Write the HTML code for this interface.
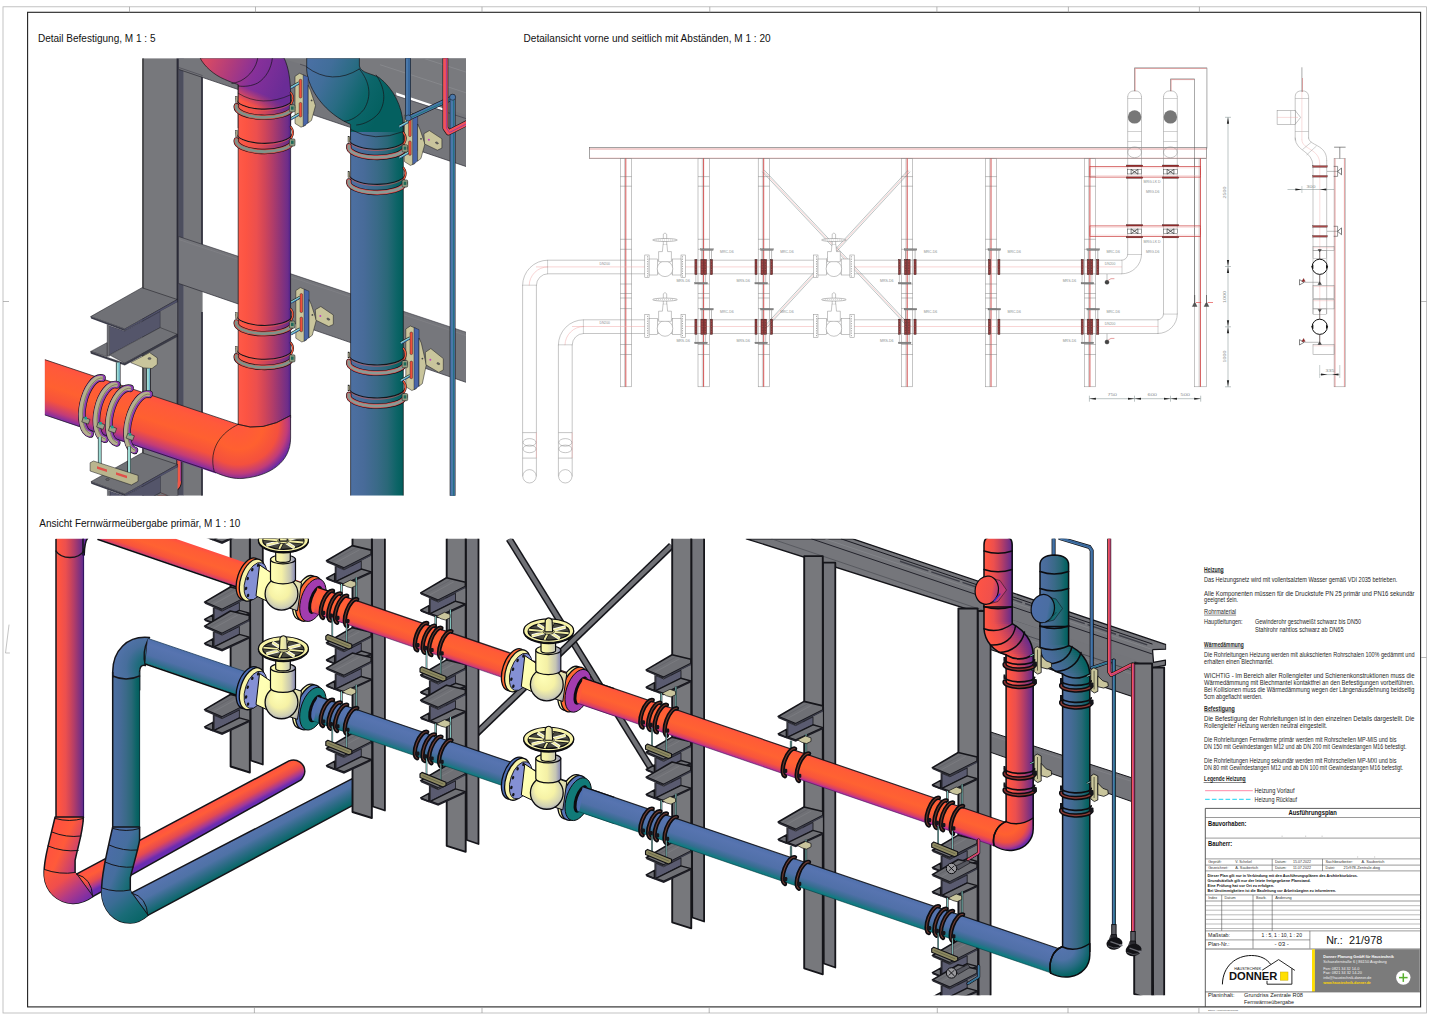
<!DOCTYPE html>
<html><head><meta charset="utf-8"><title>Plan</title>
<style>html,body{margin:0;padding:0;background:#fff;}svg{display:block;}text{font-family:"Liberation Sans",sans-serif;}</style>
</head><body>
<svg width="1436" height="1017" viewBox="0 0 1436 1017">
<defs><clipPath id="c1"><rect x="44.7" y="58.2" width="421.3" height="437.5"/></clipPath><linearGradient id="g2" gradientUnits="userSpaceOnUse" x1="350.6" y1="0" x2="403.3" y2="0"><stop offset="0" stop-color="#4d70a2"/><stop offset="0.25" stop-color="#486b99"/><stop offset="0.5" stop-color="#3a6a88"/><stop offset="0.7" stop-color="#2a6878"/><stop offset="0.88" stop-color="#0c6466"/><stop offset="1" stop-color="#005e5c"/></linearGradient><linearGradient id="g3" gradientUnits="userSpaceOnUse" x1="306" y1="66" x2="384" y2="104"><stop offset="0" stop-color="#4a70a4"/><stop offset="0.25" stop-color="#416e9a"/><stop offset="0.5" stop-color="#2a6c84"/><stop offset="0.75" stop-color="#0c666a"/><stop offset="1" stop-color="#046060"/></linearGradient><linearGradient id="g4" gradientUnits="userSpaceOnUse" x1="238.2" y1="0" x2="290.6" y2="0"><stop offset="0" stop-color="#ff5a48"/><stop offset="0.15" stop-color="#fc5443"/><stop offset="0.35" stop-color="#ec4f4e"/><stop offset="0.5" stop-color="#d24658"/><stop offset="0.65" stop-color="#b33d68"/><stop offset="0.8" stop-color="#8f3578"/><stop offset="0.95" stop-color="#6c2d8a"/><stop offset="1" stop-color="#4a2088"/></linearGradient><linearGradient id="g5" gradientUnits="userSpaceOnUse" x1="206" y1="60" x2="282" y2="92"><stop offset="0" stop-color="#d84a64"/><stop offset="0.3" stop-color="#b03c7c"/><stop offset="0.6" stop-color="#86309a"/><stop offset="1" stop-color="#6a2c96"/></linearGradient><linearGradient id="g6" gradientUnits="userSpaceOnUse" x1="264" y1="94.5" x2="258.8" y2="107.6"><stop offset="0" stop-color="#000"/><stop offset="1" stop-color="#fff"/></linearGradient><mask id="mj" maskUnits="userSpaceOnUse" x="230" y="60" width="70" height="440"><rect x="230" y="60" width="70" height="440" fill="url(#g6)"/></mask><linearGradient id="g7" gradientUnits="userSpaceOnUse" x1="120" y1="385" x2="103.32" y2="434.7"><stop offset="0" stop-color="#ff5242"/><stop offset="0.12" stop-color="#ff5a3a"/><stop offset="0.45" stop-color="#ff6030"/><stop offset="0.7" stop-color="#f6523c"/><stop offset="0.88" stop-color="#c43c76"/><stop offset="1" stop-color="#7a2ca8"/></linearGradient><radialGradient id="g8" gradientUnits="userSpaceOnUse" cx="238.2" cy="424.4" r="56"><stop offset="0" stop-color="#ff563e"/><stop offset="0.45" stop-color="#ff6030"/><stop offset="0.72" stop-color="#f4503e"/><stop offset="0.88" stop-color="#c03c7a"/><stop offset="1" stop-color="#6a2aa4"/></radialGradient><clipPath id="c9"><rect x="42" y="538.8" width="1124.2" height="456.4"/></clipPath><linearGradient id="g10" gradientUnits="userSpaceOnUse" x1="600" y1="683.73" x2="591.66" y2="708.25"><stop offset="0" stop-color="#ff5042"/><stop offset="0.15" stop-color="#ff5c36"/><stop offset="0.5" stop-color="#ff6232"/><stop offset="0.78" stop-color="#f8543c"/><stop offset="0.92" stop-color="#d84068"/><stop offset="1" stop-color="#a82ca4"/></linearGradient><linearGradient id="g11" gradientUnits="userSpaceOnUse" x1="600" y1="792.45" x2="591.89" y2="816.31"><stop offset="0" stop-color="#4f70ac"/><stop offset="0.2" stop-color="#5774b0"/><stop offset="0.6" stop-color="#5070a8"/><stop offset="0.82" stop-color="#356e90"/><stop offset="0.94" stop-color="#157a82"/><stop offset="1" stop-color="#0a7a80"/></linearGradient><linearGradient id="g12" gradientUnits="userSpaceOnUse" x1="180" y1="818.9" x2="190.29" y2="837.78"><stop offset="0" stop-color="#ff5244"/><stop offset="0.3" stop-color="#ff5c38"/><stop offset="0.6" stop-color="#e64a50"/><stop offset="0.85" stop-color="#a0389a"/><stop offset="1" stop-color="#6a2cb0"/></linearGradient><linearGradient id="g13" gradientUnits="userSpaceOnUse" x1="56" y1="0" x2="83.6" y2="0"><stop offset="0" stop-color="#ff5a48"/><stop offset="0.15" stop-color="#fc5443"/><stop offset="0.35" stop-color="#ec4f4e"/><stop offset="0.5" stop-color="#d24658"/><stop offset="0.65" stop-color="#b33d68"/><stop offset="0.8" stop-color="#8f3578"/><stop offset="0.95" stop-color="#6c2d8a"/><stop offset="1" stop-color="#4a2088"/></linearGradient><linearGradient id="g14" gradientUnits="userSpaceOnUse" x1="44" y1="850" x2="86" y2="868"><stop offset="0" stop-color="#ff5040"/><stop offset="0.35" stop-color="#ff5a3a"/><stop offset="0.7" stop-color="#c84070"/><stop offset="1" stop-color="#6a2aa8"/></linearGradient><linearGradient id="g15" gradientUnits="userSpaceOnUse" x1="52" y1="866" x2="84" y2="906"><stop offset="0" stop-color="#ff5a3a"/><stop offset="0.35" stop-color="#f04e4c"/><stop offset="0.65" stop-color="#b03a88"/><stop offset="1" stop-color="#6a2ab0"/></linearGradient><linearGradient id="g16" gradientUnits="userSpaceOnUse" x1="240" y1="836.7" x2="251.96" y2="858.65"><stop offset="0" stop-color="#5674ae"/><stop offset="0.35" stop-color="#4f72a6"/><stop offset="0.65" stop-color="#2f6c88"/><stop offset="1" stop-color="#086868"/></linearGradient><linearGradient id="g17" gradientUnits="userSpaceOnUse" x1="112.7" y1="0" x2="139.6" y2="0"><stop offset="0" stop-color="#4d70a2"/><stop offset="0.25" stop-color="#486b99"/><stop offset="0.5" stop-color="#3a6a88"/><stop offset="0.7" stop-color="#2a6878"/><stop offset="0.88" stop-color="#0c6466"/><stop offset="1" stop-color="#005e5c"/></linearGradient><radialGradient id="g18" gradientUnits="userSpaceOnUse" cx="150" cy="668" r="40"><stop offset="0" stop-color="#0a6868"/><stop offset="0.3" stop-color="#1f6c7c"/><stop offset="0.6" stop-color="#476e9c"/><stop offset="1" stop-color="#5674ae"/></radialGradient><linearGradient id="g19" gradientUnits="userSpaceOnUse" x1="102" y1="860" x2="141" y2="876"><stop offset="0" stop-color="#4c6ca8"/><stop offset="0.4" stop-color="#466e9e"/><stop offset="0.75" stop-color="#1c6c78"/><stop offset="1" stop-color="#066464"/></linearGradient><linearGradient id="g20" gradientUnits="userSpaceOnUse" x1="108" y1="884" x2="140" y2="924"><stop offset="0" stop-color="#4c6ca8"/><stop offset="0.35" stop-color="#3a6c94"/><stop offset="0.65" stop-color="#1a6c78"/><stop offset="1" stop-color="#066464"/></linearGradient><linearGradient id="g21" gradientUnits="userSpaceOnUse" x1="984" y1="0" x2="1012.2" y2="0"><stop offset="0" stop-color="#ff5a48"/><stop offset="0.15" stop-color="#fc5443"/><stop offset="0.35" stop-color="#ec4f4e"/><stop offset="0.5" stop-color="#d24658"/><stop offset="0.65" stop-color="#b33d68"/><stop offset="0.8" stop-color="#8f3578"/><stop offset="0.95" stop-color="#6c2d8a"/><stop offset="1" stop-color="#4a2088"/></linearGradient><linearGradient id="g22" gradientUnits="userSpaceOnUse" x1="1006.1" y1="0" x2="1033.2" y2="0"><stop offset="0" stop-color="#ff5a48"/><stop offset="0.15" stop-color="#fc5443"/><stop offset="0.35" stop-color="#ec4f4e"/><stop offset="0.5" stop-color="#d24658"/><stop offset="0.65" stop-color="#b33d68"/><stop offset="0.8" stop-color="#8f3578"/><stop offset="0.95" stop-color="#6c2d8a"/><stop offset="1" stop-color="#4a2088"/></linearGradient><linearGradient id="g23" gradientUnits="userSpaceOnUse" x1="986" y1="630" x2="1034" y2="655"><stop offset="0" stop-color="#ff5444"/><stop offset="0.3" stop-color="#e04c5c"/><stop offset="0.65" stop-color="#9a3690"/><stop offset="1" stop-color="#642aa8"/></linearGradient><radialGradient id="g24" gradientUnits="userSpaceOnUse" cx="1005.8" cy="821.6" r="29"><stop offset="0" stop-color="#ff563e"/><stop offset="0.45" stop-color="#ff6030"/><stop offset="0.72" stop-color="#f0503e"/><stop offset="0.88" stop-color="#b83c80"/><stop offset="1" stop-color="#6a2aa8"/></radialGradient><linearGradient id="g25" gradientUnits="objectBoundingBox" x1="0" y1="0" x2="1" y2="0"><stop offset="0" stop-color="#ff5a48"/><stop offset="0.15" stop-color="#fc5443"/><stop offset="0.35" stop-color="#ec4f4e"/><stop offset="0.5" stop-color="#d24658"/><stop offset="0.65" stop-color="#b33d68"/><stop offset="0.8" stop-color="#8f3578"/><stop offset="0.95" stop-color="#6c2d8a"/><stop offset="1" stop-color="#4a2088"/></linearGradient><linearGradient id="g26" gradientUnits="userSpaceOnUse" x1="975" y1="0" x2="1003" y2="0"><stop offset="0" stop-color="#ff5444"/><stop offset="0.6" stop-color="#f0504c"/><stop offset="1" stop-color="#7a2ca8"/></linearGradient><linearGradient id="g27" gradientUnits="userSpaceOnUse" x1="1040" y1="0" x2="1068.6" y2="0"><stop offset="0" stop-color="#4d70a2"/><stop offset="0.25" stop-color="#486b99"/><stop offset="0.5" stop-color="#3a6a88"/><stop offset="0.7" stop-color="#2a6878"/><stop offset="0.88" stop-color="#0c6466"/><stop offset="1" stop-color="#005e5c"/></linearGradient><linearGradient id="g28" gradientUnits="userSpaceOnUse" x1="1062.6" y1="0" x2="1089.8" y2="0"><stop offset="0" stop-color="#4d70a2"/><stop offset="0.25" stop-color="#486b99"/><stop offset="0.5" stop-color="#3a6a88"/><stop offset="0.7" stop-color="#2a6878"/><stop offset="0.88" stop-color="#0c6466"/><stop offset="1" stop-color="#005e5c"/></linearGradient><linearGradient id="g29" gradientUnits="userSpaceOnUse" x1="1042" y1="650" x2="1090" y2="675"><stop offset="0" stop-color="#4c6ca6"/><stop offset="0.35" stop-color="#3a6c92"/><stop offset="0.7" stop-color="#126a6e"/><stop offset="1" stop-color="#066060"/></linearGradient><radialGradient id="g30" gradientUnits="userSpaceOnUse" cx="1062" cy="946.8" r="29"><stop offset="0" stop-color="#5674ae"/><stop offset="0.45" stop-color="#4f72a6"/><stop offset="0.75" stop-color="#2a6c84"/><stop offset="1" stop-color="#066464"/></radialGradient><linearGradient id="g31" gradientUnits="objectBoundingBox" x1="0" y1="0" x2="1" y2="0"><stop offset="0" stop-color="#4d70a2"/><stop offset="0.25" stop-color="#486b99"/><stop offset="0.5" stop-color="#3a6a88"/><stop offset="0.7" stop-color="#2a6878"/><stop offset="0.88" stop-color="#0c6466"/><stop offset="1" stop-color="#005e5c"/></linearGradient><linearGradient id="g32" gradientUnits="userSpaceOnUse" x1="1031" y1="0" x2="1059" y2="0"><stop offset="0" stop-color="#4e6eaa"/><stop offset="0.6" stop-color="#4a6ea2"/><stop offset="1" stop-color="#0a6868"/></linearGradient><linearGradient id="g33" gradientUnits="userSpaceOnUse" x1="263" y1="578.92" x2="305" y2="602.92"><stop offset="0" stop-color="#ffffb4"/><stop offset="0.45" stop-color="#f8f4a8"/><stop offset="0.8" stop-color="#d6d4b0"/><stop offset="1" stop-color="#8f90b6"/></linearGradient><radialGradient id="g34" gradientUnits="userSpaceOnUse" cx="282" cy="592.92" r="20" fx="277" fy="585.92"><stop offset="0" stop-color="#ffffb8"/><stop offset="0.5" stop-color="#f6f2a6"/><stop offset="0.8" stop-color="#cfcfb4"/><stop offset="1" stop-color="#8486b8"/></radialGradient><linearGradient id="g35" gradientUnits="userSpaceOnUse" x1="270.5" y1="0" x2="295.5" y2="0"><stop offset="0" stop-color="#ffffb4"/><stop offset="0.45" stop-color="#f4f0a6"/><stop offset="0.8" stop-color="#c4c4b4"/><stop offset="1" stop-color="#8486b6"/></linearGradient><linearGradient id="g36" gradientUnits="userSpaceOnUse" x1="263" y1="687.54" x2="305" y2="711.54"><stop offset="0" stop-color="#ffffb4"/><stop offset="0.45" stop-color="#f8f4a8"/><stop offset="0.8" stop-color="#d6d4b0"/><stop offset="1" stop-color="#8f90b6"/></linearGradient><radialGradient id="g37" gradientUnits="userSpaceOnUse" cx="282" cy="701.54" r="20" fx="277" fy="694.54"><stop offset="0" stop-color="#ffffb8"/><stop offset="0.5" stop-color="#f6f2a6"/><stop offset="0.8" stop-color="#cfcfb4"/><stop offset="1" stop-color="#8486b8"/></radialGradient><linearGradient id="g38" gradientUnits="userSpaceOnUse" x1="270.5" y1="0" x2="295.5" y2="0"><stop offset="0" stop-color="#ffffb4"/><stop offset="0.45" stop-color="#f4f0a6"/><stop offset="0.8" stop-color="#c4c4b4"/><stop offset="1" stop-color="#8486b6"/></linearGradient><linearGradient id="g39" gradientUnits="userSpaceOnUse" x1="528.3" y1="669.66" x2="570.3" y2="693.66"><stop offset="0" stop-color="#ffffb4"/><stop offset="0.45" stop-color="#f8f4a8"/><stop offset="0.8" stop-color="#d6d4b0"/><stop offset="1" stop-color="#8f90b6"/></linearGradient><radialGradient id="g40" gradientUnits="userSpaceOnUse" cx="547.3" cy="683.66" r="20" fx="542.3" fy="676.66"><stop offset="0" stop-color="#ffffb8"/><stop offset="0.5" stop-color="#f6f2a6"/><stop offset="0.8" stop-color="#cfcfb4"/><stop offset="1" stop-color="#8486b8"/></radialGradient><linearGradient id="g41" gradientUnits="userSpaceOnUse" x1="535.8" y1="0" x2="560.8" y2="0"><stop offset="0" stop-color="#ffffb4"/><stop offset="0.45" stop-color="#f4f0a6"/><stop offset="0.8" stop-color="#c4c4b4"/><stop offset="1" stop-color="#8486b6"/></linearGradient><linearGradient id="g42" gradientUnits="userSpaceOnUse" x1="528.3" y1="778.04" x2="570.3" y2="802.04"><stop offset="0" stop-color="#ffffb4"/><stop offset="0.45" stop-color="#f8f4a8"/><stop offset="0.8" stop-color="#d6d4b0"/><stop offset="1" stop-color="#8f90b6"/></linearGradient><radialGradient id="g43" gradientUnits="userSpaceOnUse" cx="547.3" cy="792.04" r="20" fx="542.3" fy="785.04"><stop offset="0" stop-color="#ffffb8"/><stop offset="0.5" stop-color="#f6f2a6"/><stop offset="0.8" stop-color="#cfcfb4"/><stop offset="1" stop-color="#8486b8"/></radialGradient><linearGradient id="g44" gradientUnits="userSpaceOnUse" x1="535.8" y1="0" x2="560.8" y2="0"><stop offset="0" stop-color="#ffffb4"/><stop offset="0.45" stop-color="#f4f0a6"/><stop offset="0.8" stop-color="#c4c4b4"/><stop offset="1" stop-color="#8486b6"/></linearGradient></defs>
<rect x="0" y="0" width="1436" height="1017" fill="#ffffff"/>
<rect x="3" y="6.8" width="1423.5" height="1006.2" fill="none" stroke="#b4b4b4" stroke-width="0.8"/>
<rect x="27.6" y="12.3" width="1393" height="994.6" fill="none" stroke="#222" stroke-width="1.1"/>
<line x1="129.5" y1="6.8" x2="129.5" y2="12.3" stroke="#999" stroke-width="0.7" />
<line x1="255.5" y1="6.8" x2="255.5" y2="12.3" stroke="#999" stroke-width="0.7" />
<line x1="482" y1="6.8" x2="482" y2="12.3" stroke="#999" stroke-width="0.7" />
<line x1="709.8" y1="6.8" x2="709.8" y2="12.3" stroke="#999" stroke-width="0.7" />
<line x1="936.9" y1="6.8" x2="936.9" y2="12.3" stroke="#999" stroke-width="0.7" />
<line x1="1068.4" y1="6.8" x2="1068.4" y2="12.3" stroke="#999" stroke-width="0.7" />
<line x1="1199.4" y1="6.8" x2="1199.4" y2="12.3" stroke="#999" stroke-width="0.7" />
<line x1="254.4" y1="1007" x2="254.4" y2="1013" stroke="#999" stroke-width="0.7" />
<line x1="482" y1="1007" x2="482" y2="1013" stroke="#999" stroke-width="0.7" />
<line x1="709.2" y1="1007" x2="709.2" y2="1013" stroke="#999" stroke-width="0.7" />
<line x1="937.3" y1="1007" x2="937.3" y2="1013" stroke="#999" stroke-width="0.7" />
<line x1="1068" y1="1007" x2="1068" y2="1013" stroke="#999" stroke-width="0.7" />
<line x1="1198.9" y1="1007" x2="1198.9" y2="1013" stroke="#999" stroke-width="0.7" />
<line x1="1421" y1="301.5" x2="1426.5" y2="301.5" stroke="#999" stroke-width="0.7" />
<line x1="1421" y1="657.5" x2="1426.5" y2="657.5" stroke="#999" stroke-width="0.7" />
<line x1="3" y1="301.5" x2="9" y2="301.5" stroke="#999" stroke-width="0.7" />
<polyline points="9,625 5.5,653 9.5,653" fill="none" stroke="#aaa" stroke-width="0.7" stroke-linejoin="round" stroke-linecap="round" />
<text x="37.9" y="42.3" font-size="10.6" font-weight="normal" fill="#111" text-anchor="start" textLength="117.6" lengthAdjust="spacingAndGlyphs" >Detail Befestigung, M 1 : 5</text>
<text x="523.6" y="42.3" font-size="10.6" font-weight="normal" fill="#111" text-anchor="start" textLength="247" lengthAdjust="spacingAndGlyphs" >Detailansicht vorne und seitlich mit Abst&#228;nden, M 1 : 20</text>
<text x="39.3" y="526.5" font-size="10.6" font-weight="normal" fill="#111" text-anchor="start" textLength="201" lengthAdjust="spacingAndGlyphs" >Ansicht Fernw&#228;rme&#252;bergabe prim&#228;r, M 1 : 10</text>
<rect x="589.5" y="147.6" width="617.2" height="10.8" fill="#fff" stroke="#666" stroke-width="0.6" />
<line x1="589.5" y1="149" x2="1206.7" y2="149" stroke="#cc4040" stroke-width="0.5" />
<line x1="589.5" y1="158" x2="1206.7" y2="158" stroke="#f0a8a8" stroke-width="0.5" />
<rect x="620.3" y="158.4" width="11.3" height="228.4" fill="none" stroke="#8c8c8c" stroke-width="0.5" />
<line x1="624.5" y1="158.4" x2="624.5" y2="386.8" stroke="#8c8c8c" stroke-width="0.4" />
<line x1="625.8" y1="158.4" x2="625.8" y2="386.8" stroke="#cc4040" stroke-width="0.9" />
<line x1="620.3" y1="176.6" x2="631.6" y2="176.6" stroke="#777" stroke-width="0.45" />
<line x1="620.3" y1="186.2" x2="631.6" y2="186.2" stroke="#777" stroke-width="0.45" />
<line x1="620.3" y1="239.3" x2="631.6" y2="239.3" stroke="#777" stroke-width="0.45" />
<line x1="620.3" y1="249.3" x2="631.6" y2="249.3" stroke="#777" stroke-width="0.45" />
<line x1="620.3" y1="284" x2="631.6" y2="284" stroke="#777" stroke-width="0.45" />
<line x1="620.3" y1="293.5" x2="631.6" y2="293.5" stroke="#777" stroke-width="0.45" />
<line x1="620.3" y1="298" x2="631.6" y2="298" stroke="#777" stroke-width="0.45" />
<line x1="620.3" y1="308.6" x2="631.6" y2="308.6" stroke="#777" stroke-width="0.45" />
<line x1="620.3" y1="344.5" x2="631.6" y2="344.5" stroke="#777" stroke-width="0.45" />
<line x1="620.3" y1="354.5" x2="631.6" y2="354.5" stroke="#777" stroke-width="0.45" />
<rect x="698" y="158.4" width="11.3" height="228.4" fill="none" stroke="#8c8c8c" stroke-width="0.5" />
<line x1="702.3" y1="158.4" x2="702.3" y2="386.8" stroke="#8c8c8c" stroke-width="0.4" />
<line x1="703.6" y1="158.4" x2="703.6" y2="386.8" stroke="#cc4040" stroke-width="0.9" />
<line x1="698" y1="176.6" x2="709.3" y2="176.6" stroke="#777" stroke-width="0.45" />
<line x1="698" y1="186.2" x2="709.3" y2="186.2" stroke="#777" stroke-width="0.45" />
<line x1="698" y1="239.3" x2="709.3" y2="239.3" stroke="#777" stroke-width="0.45" />
<line x1="698" y1="249.3" x2="709.3" y2="249.3" stroke="#777" stroke-width="0.45" />
<line x1="698" y1="284" x2="709.3" y2="284" stroke="#777" stroke-width="0.45" />
<line x1="698" y1="293.5" x2="709.3" y2="293.5" stroke="#777" stroke-width="0.45" />
<line x1="698" y1="298" x2="709.3" y2="298" stroke="#777" stroke-width="0.45" />
<line x1="698" y1="308.6" x2="709.3" y2="308.6" stroke="#777" stroke-width="0.45" />
<line x1="698" y1="344.5" x2="709.3" y2="344.5" stroke="#777" stroke-width="0.45" />
<line x1="698" y1="354.5" x2="709.3" y2="354.5" stroke="#777" stroke-width="0.45" />
<rect x="758.2" y="158.4" width="11.3" height="228.4" fill="none" stroke="#8c8c8c" stroke-width="0.5" />
<line x1="762.4" y1="158.4" x2="762.4" y2="386.8" stroke="#8c8c8c" stroke-width="0.4" />
<line x1="763.7" y1="158.4" x2="763.7" y2="386.8" stroke="#cc4040" stroke-width="0.9" />
<line x1="758.2" y1="176.6" x2="769.5" y2="176.6" stroke="#777" stroke-width="0.45" />
<line x1="758.2" y1="186.2" x2="769.5" y2="186.2" stroke="#777" stroke-width="0.45" />
<line x1="758.2" y1="239.3" x2="769.5" y2="239.3" stroke="#777" stroke-width="0.45" />
<line x1="758.2" y1="249.3" x2="769.5" y2="249.3" stroke="#777" stroke-width="0.45" />
<line x1="758.2" y1="284" x2="769.5" y2="284" stroke="#777" stroke-width="0.45" />
<line x1="758.2" y1="293.5" x2="769.5" y2="293.5" stroke="#777" stroke-width="0.45" />
<line x1="758.2" y1="298" x2="769.5" y2="298" stroke="#777" stroke-width="0.45" />
<line x1="758.2" y1="308.6" x2="769.5" y2="308.6" stroke="#777" stroke-width="0.45" />
<line x1="758.2" y1="344.5" x2="769.5" y2="344.5" stroke="#777" stroke-width="0.45" />
<line x1="758.2" y1="354.5" x2="769.5" y2="354.5" stroke="#777" stroke-width="0.45" />
<rect x="901.4" y="158.4" width="11.3" height="228.4" fill="none" stroke="#8c8c8c" stroke-width="0.5" />
<line x1="905.9" y1="158.4" x2="905.9" y2="386.8" stroke="#8c8c8c" stroke-width="0.4" />
<line x1="907.2" y1="158.4" x2="907.2" y2="386.8" stroke="#cc4040" stroke-width="0.9" />
<line x1="901.4" y1="176.6" x2="912.7" y2="176.6" stroke="#777" stroke-width="0.45" />
<line x1="901.4" y1="186.2" x2="912.7" y2="186.2" stroke="#777" stroke-width="0.45" />
<line x1="901.4" y1="239.3" x2="912.7" y2="239.3" stroke="#777" stroke-width="0.45" />
<line x1="901.4" y1="249.3" x2="912.7" y2="249.3" stroke="#777" stroke-width="0.45" />
<line x1="901.4" y1="284" x2="912.7" y2="284" stroke="#777" stroke-width="0.45" />
<line x1="901.4" y1="293.5" x2="912.7" y2="293.5" stroke="#777" stroke-width="0.45" />
<line x1="901.4" y1="298" x2="912.7" y2="298" stroke="#777" stroke-width="0.45" />
<line x1="901.4" y1="308.6" x2="912.7" y2="308.6" stroke="#777" stroke-width="0.45" />
<line x1="901.4" y1="344.5" x2="912.7" y2="344.5" stroke="#777" stroke-width="0.45" />
<line x1="901.4" y1="354.5" x2="912.7" y2="354.5" stroke="#777" stroke-width="0.45" />
<rect x="985.4" y="158.4" width="11.3" height="228.4" fill="none" stroke="#8c8c8c" stroke-width="0.5" />
<line x1="989.7" y1="158.4" x2="989.7" y2="386.8" stroke="#8c8c8c" stroke-width="0.4" />
<line x1="991" y1="158.4" x2="991" y2="386.8" stroke="#cc4040" stroke-width="0.9" />
<line x1="985.4" y1="176.6" x2="996.7" y2="176.6" stroke="#777" stroke-width="0.45" />
<line x1="985.4" y1="186.2" x2="996.7" y2="186.2" stroke="#777" stroke-width="0.45" />
<line x1="985.4" y1="239.3" x2="996.7" y2="239.3" stroke="#777" stroke-width="0.45" />
<line x1="985.4" y1="249.3" x2="996.7" y2="249.3" stroke="#777" stroke-width="0.45" />
<line x1="985.4" y1="284" x2="996.7" y2="284" stroke="#777" stroke-width="0.45" />
<line x1="985.4" y1="293.5" x2="996.7" y2="293.5" stroke="#777" stroke-width="0.45" />
<line x1="985.4" y1="298" x2="996.7" y2="298" stroke="#777" stroke-width="0.45" />
<line x1="985.4" y1="308.6" x2="996.7" y2="308.6" stroke="#777" stroke-width="0.45" />
<line x1="985.4" y1="344.5" x2="996.7" y2="344.5" stroke="#777" stroke-width="0.45" />
<line x1="985.4" y1="354.5" x2="996.7" y2="354.5" stroke="#777" stroke-width="0.45" />
<rect x="1084.4" y="158.4" width="11.3" height="228.4" fill="none" stroke="#8c8c8c" stroke-width="0.5" />
<line x1="1088.6" y1="158.4" x2="1088.6" y2="386.8" stroke="#8c8c8c" stroke-width="0.4" />
<line x1="1089.9" y1="158.4" x2="1089.9" y2="386.8" stroke="#cc4040" stroke-width="0.9" />
<line x1="1084.4" y1="176.6" x2="1095.7" y2="176.6" stroke="#777" stroke-width="0.45" />
<line x1="1084.4" y1="186.2" x2="1095.7" y2="186.2" stroke="#777" stroke-width="0.45" />
<line x1="1084.4" y1="239.3" x2="1095.7" y2="239.3" stroke="#777" stroke-width="0.45" />
<line x1="1084.4" y1="249.3" x2="1095.7" y2="249.3" stroke="#777" stroke-width="0.45" />
<line x1="1084.4" y1="284" x2="1095.7" y2="284" stroke="#777" stroke-width="0.45" />
<line x1="1084.4" y1="293.5" x2="1095.7" y2="293.5" stroke="#777" stroke-width="0.45" />
<line x1="1084.4" y1="298" x2="1095.7" y2="298" stroke="#777" stroke-width="0.45" />
<line x1="1084.4" y1="308.6" x2="1095.7" y2="308.6" stroke="#777" stroke-width="0.45" />
<line x1="1084.4" y1="344.5" x2="1095.7" y2="344.5" stroke="#777" stroke-width="0.45" />
<line x1="1084.4" y1="354.5" x2="1095.7" y2="354.5" stroke="#777" stroke-width="0.45" />
<rect x="1194.7" y="158.4" width="11.8" height="228.4" fill="none" stroke="#8c8c8c" stroke-width="0.5" />
<line x1="1199.1" y1="158.4" x2="1199.1" y2="386.8" stroke="#8c8c8c" stroke-width="0.4" />
<line x1="1200.4" y1="158.4" x2="1200.4" y2="386.8" stroke="#cc4040" stroke-width="0.9" />
<line x1="547.6" y1="260.2" x2="1122" y2="260.2" stroke="#8c8c8c" stroke-width="0.5" />
<line x1="547.6" y1="273.8" x2="1122" y2="273.8" stroke="#8c8c8c" stroke-width="0.5" />
<line x1="536" y1="266.9" x2="1122" y2="266.9" stroke="#f0a8a8" stroke-width="0.5" />
<line x1="583.4" y1="319.8" x2="1158.3" y2="319.8" stroke="#8c8c8c" stroke-width="0.5" />
<line x1="583.4" y1="333.5" x2="1158.3" y2="333.5" stroke="#8c8c8c" stroke-width="0.5" />
<line x1="572" y1="326.5" x2="1158.3" y2="326.5" stroke="#f0a8a8" stroke-width="0.5" />
<path d="M522.6,285.2 A25,25 0 0 1 547.6,260.2" fill="none" stroke="#8c8c8c" stroke-width="0.5" stroke-linejoin="round" stroke-linecap="round" />
<path d="M536.4,285.2 A11.3,11.3 0 0 1 547.6,273.8" fill="none" stroke="#8c8c8c" stroke-width="0.5" stroke-linejoin="round" stroke-linecap="round" />
<path d="M529.2,285.2 A18.5,18.5 0 0 1 547.6,266.9" fill="none" stroke="#f0a8a8" stroke-width="0.5" stroke-linejoin="round" stroke-linecap="round" />
<line x1="547.6" y1="260.2" x2="547.6" y2="273.8" stroke="#8c8c8c" stroke-width="0.4" />
<line x1="522.6" y1="285.2" x2="536.4" y2="285.2" stroke="#8c8c8c" stroke-width="0.4" />
<line x1="522.6" y1="285.2" x2="522.6" y2="476.5" stroke="#8c8c8c" stroke-width="0.5" />
<line x1="536.4" y1="285.2" x2="536.4" y2="476.5" stroke="#8c8c8c" stroke-width="0.5" />
<line x1="522.6" y1="432.6" x2="536.4" y2="432.6" stroke="#8c8c8c" stroke-width="0.5" />
<line x1="536.4" y1="432.6" x2="536.4" y2="458" stroke="#f0a8a8" stroke-width="0.5" />
<ellipse cx="529.5" cy="442.4" rx="6.5" ry="3.8" fill="none" stroke="#8c8c8c" stroke-width="0.5" />
<ellipse cx="529.5" cy="448.9" rx="6.5" ry="3.8" fill="none" stroke="#8c8c8c" stroke-width="0.5" />
<line x1="522.6" y1="458.1" x2="536.4" y2="458.1" stroke="#8c8c8c" stroke-width="0.5" />
<ellipse cx="529.5" cy="476.3" rx="6.7" ry="6.7" fill="#fff" stroke="#8c8c8c" stroke-width="0.5" />
<path d="M558.4,344.8 A25,25 0 0 1 583.4,319.8" fill="none" stroke="#8c8c8c" stroke-width="0.5" stroke-linejoin="round" stroke-linecap="round" />
<path d="M572.2,344.8 A11.3,11.3 0 0 1 583.4,333.5" fill="none" stroke="#8c8c8c" stroke-width="0.5" stroke-linejoin="round" stroke-linecap="round" />
<path d="M565,344.8 A18.5,18.5 0 0 1 583.4,326.5" fill="none" stroke="#f0a8a8" stroke-width="0.5" stroke-linejoin="round" stroke-linecap="round" />
<line x1="583.4" y1="319.8" x2="583.4" y2="333.5" stroke="#8c8c8c" stroke-width="0.4" />
<line x1="558.4" y1="344.8" x2="572.2" y2="344.8" stroke="#8c8c8c" stroke-width="0.4" />
<line x1="558.4" y1="344.8" x2="558.4" y2="476.5" stroke="#8c8c8c" stroke-width="0.5" />
<line x1="572.2" y1="344.8" x2="572.2" y2="476.5" stroke="#8c8c8c" stroke-width="0.5" />
<line x1="558.4" y1="432.6" x2="572.2" y2="432.6" stroke="#8c8c8c" stroke-width="0.5" />
<line x1="572.2" y1="432.6" x2="572.2" y2="458" stroke="#f0a8a8" stroke-width="0.5" />
<ellipse cx="565.3" cy="442.4" rx="6.5" ry="3.8" fill="none" stroke="#8c8c8c" stroke-width="0.5" />
<ellipse cx="565.3" cy="448.9" rx="6.5" ry="3.8" fill="none" stroke="#8c8c8c" stroke-width="0.5" />
<line x1="558.4" y1="458.1" x2="572.2" y2="458.1" stroke="#8c8c8c" stroke-width="0.5" />
<ellipse cx="565.3" cy="476.3" rx="6.7" ry="6.7" fill="#fff" stroke="#8c8c8c" stroke-width="0.5" />
<path d="M1122,273.8 A19.5,19.3 0 0 0 1141.5,254.5" fill="none" stroke="#8c8c8c" stroke-width="0.5" stroke-linejoin="round" stroke-linecap="round" />
<path d="M1122,260.2 A5.7,5.7 0 0 0 1127.7,254.5" fill="none" stroke="#8c8c8c" stroke-width="0.5" stroke-linejoin="round" stroke-linecap="round" />
<line x1="1122" y1="260.2" x2="1122" y2="273.8" stroke="#8c8c8c" stroke-width="0.4" />
<line x1="1127.7" y1="254.5" x2="1141.5" y2="254.5" stroke="#8c8c8c" stroke-width="0.4" />
<line x1="1127.7" y1="254.5" x2="1127.7" y2="96.5" stroke="#8c8c8c" stroke-width="0.5" />
<line x1="1141.5" y1="254.5" x2="1141.5" y2="96.5" stroke="#8c8c8c" stroke-width="0.5" />
<path d="M1127.7,96.5 Q1128.2,90.8 1134.6,90.8 Q1141,90.8 1141.5,96.5" fill="none" stroke="#8c8c8c" stroke-width="0.5" stroke-linejoin="round" stroke-linecap="round" />
<line x1="1127.7" y1="98.5" x2="1141.5" y2="98.5" stroke="#8c8c8c" stroke-width="0.4" />
<line x1="1127.7" y1="131.5" x2="1141.5" y2="131.5" stroke="#8c8c8c" stroke-width="0.4" />
<line x1="1127.7" y1="141.5" x2="1141.5" y2="141.5" stroke="#8c8c8c" stroke-width="0.4" />
<ellipse cx="1134.6" cy="152.3" rx="6.9" ry="5.4" fill="none" stroke="#8c8c8c" stroke-width="0.5" />
<ellipse cx="1134.6" cy="116.9" rx="6.7" ry="6.7" fill="#777" />
<path d="M1158,333.5 A19.3,19.4 0 0 0 1177.3,314.1" fill="none" stroke="#8c8c8c" stroke-width="0.5" stroke-linejoin="round" stroke-linecap="round" />
<path d="M1158,319.8 A5.5,5.7 0 0 0 1163.5,314.1" fill="none" stroke="#8c8c8c" stroke-width="0.5" stroke-linejoin="round" stroke-linecap="round" />
<line x1="1158" y1="319.8" x2="1158" y2="333.5" stroke="#8c8c8c" stroke-width="0.4" />
<line x1="1163.5" y1="314.1" x2="1177.3" y2="314.1" stroke="#8c8c8c" stroke-width="0.4" />
<line x1="1163.5" y1="314.1" x2="1163.5" y2="96.5" stroke="#8c8c8c" stroke-width="0.5" />
<line x1="1177.3" y1="314.1" x2="1177.3" y2="96.5" stroke="#8c8c8c" stroke-width="0.5" />
<path d="M1163.5,96.5 Q1164,90.8 1170.4,90.8 Q1176.8,90.8 1177.3,96.5" fill="none" stroke="#8c8c8c" stroke-width="0.5" stroke-linejoin="round" stroke-linecap="round" />
<line x1="1163.5" y1="98.5" x2="1177.3" y2="98.5" stroke="#8c8c8c" stroke-width="0.4" />
<line x1="1163.5" y1="131.5" x2="1177.3" y2="131.5" stroke="#8c8c8c" stroke-width="0.4" />
<line x1="1163.5" y1="141.5" x2="1177.3" y2="141.5" stroke="#8c8c8c" stroke-width="0.4" />
<ellipse cx="1170.4" cy="152.3" rx="6.9" ry="5.4" fill="none" stroke="#8c8c8c" stroke-width="0.5" />
<ellipse cx="1170.4" cy="116.9" rx="6.7" ry="6.7" fill="#777" />
<polyline points="1134.5,90.8 1134.5,67.8 1206.9,67.8 1206.9,148" fill="none" stroke="#555" stroke-width="0.5" stroke-linejoin="round" stroke-linecap="round" />
<polyline points="1135.2,90.8 1135.2,68.5 1206.2,68.5" fill="none" stroke="#cc4040" stroke-width="0.4" stroke-linejoin="round" stroke-linecap="round" />
<polyline points="1170.5,90.8 1170.5,78.9 1194.5,78.9 1194.5,306" fill="none" stroke="#555" stroke-width="0.5" stroke-linejoin="round" stroke-linecap="round" />
<polyline points="1171.2,90.8 1171.2,79.6 1193.8,79.6" fill="none" stroke="#cc4040" stroke-width="0.4" stroke-linejoin="round" stroke-linecap="round" />
<rect x="1089.9" y="166.4" width="110.5" height="10.7" fill="none" stroke="#cc4040" stroke-width="0.7" />
<line x1="1089.9" y1="167.8" x2="1200.4" y2="167.8" stroke="#f0a8a8" stroke-width="0.4" />
<line x1="1089.9" y1="175.7" x2="1200.4" y2="175.7" stroke="#f0a8a8" stroke-width="0.4" />
<rect x="1126.2" y="165" width="16.6" height="1.5" fill="#a02828" stroke="#333" stroke-width="0.3" />
<rect x="1126.2" y="176.9" width="16.6" height="1.5" fill="#a02828" stroke="#333" stroke-width="0.3" />
<rect x="1127.7" y="169.55" width="13.6" height="4.4" fill="#fff" stroke="#333" stroke-width="0.4" />
<line x1="1131.3" y1="169.55" x2="1137.7" y2="173.95" stroke="#222" stroke-width="0.7" />
<line x1="1131.3" y1="173.95" x2="1137.7" y2="169.55" stroke="#222" stroke-width="0.7" />
<line x1="1131.1" y1="169.15" x2="1131.1" y2="174.35" stroke="#222" stroke-width="0.6" />
<line x1="1137.9" y1="169.15" x2="1137.9" y2="174.35" stroke="#222" stroke-width="0.6" />
<rect x="1162.2" y="165" width="16.6" height="1.5" fill="#a02828" stroke="#333" stroke-width="0.3" />
<rect x="1162.2" y="176.9" width="16.6" height="1.5" fill="#a02828" stroke="#333" stroke-width="0.3" />
<rect x="1163.7" y="169.55" width="13.6" height="4.4" fill="#fff" stroke="#333" stroke-width="0.4" />
<line x1="1167.3" y1="169.55" x2="1173.7" y2="173.95" stroke="#222" stroke-width="0.7" />
<line x1="1167.3" y1="173.95" x2="1173.7" y2="169.55" stroke="#222" stroke-width="0.7" />
<line x1="1167.1" y1="169.15" x2="1167.1" y2="174.35" stroke="#222" stroke-width="0.6" />
<line x1="1173.9" y1="169.15" x2="1173.9" y2="174.35" stroke="#222" stroke-width="0.6" />
<rect x="1089.9" y="225.9" width="110.5" height="10.7" fill="none" stroke="#cc4040" stroke-width="0.7" />
<line x1="1089.9" y1="227.3" x2="1200.4" y2="227.3" stroke="#f0a8a8" stroke-width="0.4" />
<line x1="1089.9" y1="235.2" x2="1200.4" y2="235.2" stroke="#f0a8a8" stroke-width="0.4" />
<rect x="1126.2" y="224.5" width="16.6" height="1.5" fill="#a02828" stroke="#333" stroke-width="0.3" />
<rect x="1126.2" y="236.4" width="16.6" height="1.5" fill="#a02828" stroke="#333" stroke-width="0.3" />
<rect x="1127.7" y="229.05" width="13.6" height="4.4" fill="#fff" stroke="#333" stroke-width="0.4" />
<line x1="1131.3" y1="229.05" x2="1137.7" y2="233.45" stroke="#222" stroke-width="0.7" />
<line x1="1131.3" y1="233.45" x2="1137.7" y2="229.05" stroke="#222" stroke-width="0.7" />
<line x1="1131.1" y1="228.65" x2="1131.1" y2="233.85" stroke="#222" stroke-width="0.6" />
<line x1="1137.9" y1="228.65" x2="1137.9" y2="233.85" stroke="#222" stroke-width="0.6" />
<rect x="1162.2" y="224.5" width="16.6" height="1.5" fill="#a02828" stroke="#333" stroke-width="0.3" />
<rect x="1162.2" y="236.4" width="16.6" height="1.5" fill="#a02828" stroke="#333" stroke-width="0.3" />
<rect x="1163.7" y="229.05" width="13.6" height="4.4" fill="#fff" stroke="#333" stroke-width="0.4" />
<line x1="1167.3" y1="229.05" x2="1173.7" y2="233.45" stroke="#222" stroke-width="0.7" />
<line x1="1167.3" y1="233.45" x2="1173.7" y2="229.05" stroke="#222" stroke-width="0.7" />
<line x1="1167.1" y1="228.65" x2="1167.1" y2="233.85" stroke="#222" stroke-width="0.6" />
<line x1="1173.9" y1="228.65" x2="1173.9" y2="233.85" stroke="#222" stroke-width="0.6" />
<text x="1143.5" y="183.2" font-size="2.9" font-weight="normal" fill="#8a9090" text-anchor="start" textLength="17" lengthAdjust="spacingAndGlyphs" >MRG-LK D</text>
<text x="1146" y="193.3" font-size="2.9" font-weight="normal" fill="#8a9090" text-anchor="start" textLength="13.5" lengthAdjust="spacingAndGlyphs" >MRG-D6</text>
<text x="1143.5" y="243" font-size="2.9" font-weight="normal" fill="#8a9090" text-anchor="start" textLength="17" lengthAdjust="spacingAndGlyphs" >MRG-LK D</text>
<text x="1146" y="253" font-size="2.9" font-weight="normal" fill="#8a9090" text-anchor="start" textLength="13.5" lengthAdjust="spacingAndGlyphs" >MRG-D6</text>
<line x1="762.29" y1="171.66" x2="908.29" y2="327.36" stroke="#7a8a8a" stroke-width="0.5" />
<line x1="764.11" y1="169.94" x2="910.11" y2="325.64" stroke="#7a8a8a" stroke-width="0.5" />
<line x1="763.2" y1="170.8" x2="909.2" y2="326.5" stroke="#f0a8a8" stroke-width="0.5" />
<line x1="908.28" y1="169.95" x2="762.28" y2="328.65" stroke="#7a8a8a" stroke-width="0.5" />
<line x1="910.12" y1="171.65" x2="764.12" y2="330.35" stroke="#7a8a8a" stroke-width="0.5" />
<line x1="909.2" y1="170.8" x2="763.2" y2="329.5" stroke="#f0a8a8" stroke-width="0.5" />
<rect x="644.8" y="255" width="4.3" height="22.6" fill="#fff" stroke="#8c8c8c" stroke-width="0.5" />
<line x1="647.6" y1="256.2" x2="647.6" y2="276.8" stroke="#555" stroke-width="0.5" stroke-dasharray="1.2 1.2"/>
<rect x="681" y="255" width="4.3" height="22.6" fill="#fff" stroke="#8c8c8c" stroke-width="0.5" />
<line x1="682.5" y1="256.2" x2="682.5" y2="276.8" stroke="#555" stroke-width="0.5" stroke-dasharray="1.2 1.2"/>
<rect x="649.1" y="259" width="8.6" height="16" fill="#fff" stroke="#8c8c8c" stroke-width="0.5" />
<rect x="672.3" y="259" width="8.7" height="16" fill="#fff" stroke="#8c8c8c" stroke-width="0.5" />
<ellipse cx="665" cy="268.8" rx="7.8" ry="7.8" fill="#fff" stroke="#8c8c8c" stroke-width="0.5" />
<polygon points="658.6,261.7 658.6,251.6 662.4,251.6 663.1,244.2 666.9,244.2 667.6,251.6 671.4,251.6 671.4,261.7" fill="#fff" stroke="#8c8c8c" stroke-width="0.5" stroke-linejoin="round" />
<path d="M663.3,244.2 L663.3,234.2 Q665,231.7 666.7,234.2 L666.7,244.2" fill="#fff" stroke="#8c8c8c" stroke-width="0.5" stroke-linejoin="round" stroke-linecap="round" />
<ellipse cx="665" cy="240" rx="12.3" ry="1.5" fill="#fff" stroke="#777" stroke-width="0.5" />
<line x1="656" y1="240" x2="674" y2="240" stroke="#999" stroke-width="0.4" stroke-dasharray="1 1"/>
<rect x="644.8" y="314.6" width="4.3" height="22.7" fill="#fff" stroke="#8c8c8c" stroke-width="0.5" />
<line x1="647.6" y1="315.8" x2="647.6" y2="336.5" stroke="#555" stroke-width="0.5" stroke-dasharray="1.2 1.2"/>
<rect x="681" y="314.6" width="4.3" height="22.7" fill="#fff" stroke="#8c8c8c" stroke-width="0.5" />
<line x1="682.5" y1="315.8" x2="682.5" y2="336.5" stroke="#555" stroke-width="0.5" stroke-dasharray="1.2 1.2"/>
<rect x="649.1" y="318.6" width="8.6" height="16.1" fill="#fff" stroke="#8c8c8c" stroke-width="0.5" />
<rect x="672.3" y="318.6" width="8.7" height="16.1" fill="#fff" stroke="#8c8c8c" stroke-width="0.5" />
<ellipse cx="665" cy="328.45" rx="7.8" ry="7.8" fill="#fff" stroke="#8c8c8c" stroke-width="0.5" />
<polygon points="658.6,321.3 658.6,311.2 662.4,311.2 663.1,303.8 666.9,303.8 667.6,311.2 671.4,311.2 671.4,321.3" fill="#fff" stroke="#8c8c8c" stroke-width="0.5" stroke-linejoin="round" />
<path d="M663.3,303.8 L663.3,293.8 Q665,291.3 666.7,293.8 L666.7,303.8" fill="#fff" stroke="#8c8c8c" stroke-width="0.5" stroke-linejoin="round" stroke-linecap="round" />
<ellipse cx="665" cy="299.6" rx="12.3" ry="1.5" fill="#fff" stroke="#777" stroke-width="0.5" />
<line x1="656" y1="299.6" x2="674" y2="299.6" stroke="#999" stroke-width="0.4" stroke-dasharray="1 1"/>
<rect x="813.7" y="255" width="4.3" height="22.6" fill="#fff" stroke="#8c8c8c" stroke-width="0.5" />
<line x1="816.5" y1="256.2" x2="816.5" y2="276.8" stroke="#555" stroke-width="0.5" stroke-dasharray="1.2 1.2"/>
<rect x="849.9" y="255" width="4.3" height="22.6" fill="#fff" stroke="#8c8c8c" stroke-width="0.5" />
<line x1="851.4" y1="256.2" x2="851.4" y2="276.8" stroke="#555" stroke-width="0.5" stroke-dasharray="1.2 1.2"/>
<rect x="818" y="259" width="8.6" height="16" fill="#fff" stroke="#8c8c8c" stroke-width="0.5" />
<rect x="841.2" y="259" width="8.7" height="16" fill="#fff" stroke="#8c8c8c" stroke-width="0.5" />
<ellipse cx="833.9" cy="268.8" rx="7.8" ry="7.8" fill="#fff" stroke="#8c8c8c" stroke-width="0.5" />
<polygon points="827.5,261.7 827.5,251.6 831.3,251.6 832,244.2 835.8,244.2 836.5,251.6 840.3,251.6 840.3,261.7" fill="#fff" stroke="#8c8c8c" stroke-width="0.5" stroke-linejoin="round" />
<path d="M832.2,244.2 L832.2,234.2 Q833.9,231.7 835.6,234.2 L835.6,244.2" fill="#fff" stroke="#8c8c8c" stroke-width="0.5" stroke-linejoin="round" stroke-linecap="round" />
<ellipse cx="833.9" cy="240" rx="12.3" ry="1.5" fill="#fff" stroke="#777" stroke-width="0.5" />
<line x1="824.9" y1="240" x2="842.9" y2="240" stroke="#999" stroke-width="0.4" stroke-dasharray="1 1"/>
<rect x="813.7" y="314.6" width="4.3" height="22.7" fill="#fff" stroke="#8c8c8c" stroke-width="0.5" />
<line x1="816.5" y1="315.8" x2="816.5" y2="336.5" stroke="#555" stroke-width="0.5" stroke-dasharray="1.2 1.2"/>
<rect x="849.9" y="314.6" width="4.3" height="22.7" fill="#fff" stroke="#8c8c8c" stroke-width="0.5" />
<line x1="851.4" y1="315.8" x2="851.4" y2="336.5" stroke="#555" stroke-width="0.5" stroke-dasharray="1.2 1.2"/>
<rect x="818" y="318.6" width="8.6" height="16.1" fill="#fff" stroke="#8c8c8c" stroke-width="0.5" />
<rect x="841.2" y="318.6" width="8.7" height="16.1" fill="#fff" stroke="#8c8c8c" stroke-width="0.5" />
<ellipse cx="833.9" cy="328.45" rx="7.8" ry="7.8" fill="#fff" stroke="#8c8c8c" stroke-width="0.5" />
<polygon points="827.5,321.3 827.5,311.2 831.3,311.2 832,303.8 835.8,303.8 836.5,311.2 840.3,311.2 840.3,321.3" fill="#fff" stroke="#8c8c8c" stroke-width="0.5" stroke-linejoin="round" />
<path d="M832.2,303.8 L832.2,293.8 Q833.9,291.3 835.6,293.8 L835.6,303.8" fill="#fff" stroke="#8c8c8c" stroke-width="0.5" stroke-linejoin="round" stroke-linecap="round" />
<ellipse cx="833.9" cy="299.6" rx="12.3" ry="1.5" fill="#fff" stroke="#777" stroke-width="0.5" />
<line x1="824.9" y1="299.6" x2="842.9" y2="299.6" stroke="#999" stroke-width="0.4" stroke-dasharray="1 1"/>
<rect x="694.9" y="259.6" width="2" height="15" fill="#a84848" stroke="#3a1a1a" stroke-width="0.5" />
<line x1="695.9" y1="259.6" x2="695.9" y2="274.6" stroke="#3a1a1a" stroke-width="0.4" stroke-dasharray="1.6 1"/>
<rect x="700.9" y="259.6" width="2.3" height="15" fill="#a84848" stroke="#3a1a1a" stroke-width="0.5" />
<line x1="702.05" y1="259.6" x2="702.05" y2="274.6" stroke="#3a1a1a" stroke-width="0.4" stroke-dasharray="1.6 1"/>
<rect x="704" y="259.6" width="2.5" height="15" fill="#a84848" stroke="#3a1a1a" stroke-width="0.5" />
<line x1="705.25" y1="259.6" x2="705.25" y2="274.6" stroke="#3a1a1a" stroke-width="0.4" stroke-dasharray="1.6 1"/>
<rect x="710.4" y="259.6" width="2.1" height="15" fill="#a84848" stroke="#3a1a1a" stroke-width="0.5" />
<line x1="711.45" y1="259.6" x2="711.45" y2="274.6" stroke="#3a1a1a" stroke-width="0.4" stroke-dasharray="1.6 1"/>
<rect x="700.6" y="248.8" width="12.6" height="1.6" fill="#888" stroke="#555" stroke-width="0.3" />
<line x1="701.9" y1="250.6" x2="701.9" y2="260.2" stroke="#555" stroke-width="0.4" />
<line x1="711.5" y1="250.6" x2="711.5" y2="260.2" stroke="#555" stroke-width="0.4" />
<rect x="694.8" y="282.4" width="12.6" height="1.6" fill="#888" stroke="#555" stroke-width="0.3" />
<line x1="695.8" y1="273.8" x2="695.8" y2="282.2" stroke="#777" stroke-width="0.4" />
<line x1="705.6" y1="273.8" x2="705.6" y2="282.2" stroke="#777" stroke-width="0.4" />
<rect x="694.9" y="319.2" width="2" height="15.1" fill="#a84848" stroke="#3a1a1a" stroke-width="0.5" />
<line x1="695.9" y1="319.2" x2="695.9" y2="334.3" stroke="#3a1a1a" stroke-width="0.4" stroke-dasharray="1.6 1"/>
<rect x="700.9" y="319.2" width="2.3" height="15.1" fill="#a84848" stroke="#3a1a1a" stroke-width="0.5" />
<line x1="702.05" y1="319.2" x2="702.05" y2="334.3" stroke="#3a1a1a" stroke-width="0.4" stroke-dasharray="1.6 1"/>
<rect x="704" y="319.2" width="2.5" height="15.1" fill="#a84848" stroke="#3a1a1a" stroke-width="0.5" />
<line x1="705.25" y1="319.2" x2="705.25" y2="334.3" stroke="#3a1a1a" stroke-width="0.4" stroke-dasharray="1.6 1"/>
<rect x="710.4" y="319.2" width="2.1" height="15.1" fill="#a84848" stroke="#3a1a1a" stroke-width="0.5" />
<line x1="711.45" y1="319.2" x2="711.45" y2="334.3" stroke="#3a1a1a" stroke-width="0.4" stroke-dasharray="1.6 1"/>
<rect x="700.6" y="308.4" width="12.6" height="1.6" fill="#888" stroke="#555" stroke-width="0.3" />
<line x1="701.9" y1="310.2" x2="701.9" y2="319.8" stroke="#555" stroke-width="0.4" />
<line x1="711.5" y1="310.2" x2="711.5" y2="319.8" stroke="#555" stroke-width="0.4" />
<rect x="694.8" y="342.1" width="12.6" height="1.6" fill="#888" stroke="#555" stroke-width="0.3" />
<line x1="695.8" y1="333.5" x2="695.8" y2="341.9" stroke="#777" stroke-width="0.4" />
<line x1="705.6" y1="333.5" x2="705.6" y2="341.9" stroke="#777" stroke-width="0.4" />
<rect x="755" y="259.6" width="2" height="15" fill="#a84848" stroke="#3a1a1a" stroke-width="0.5" />
<line x1="756" y1="259.6" x2="756" y2="274.6" stroke="#3a1a1a" stroke-width="0.4" stroke-dasharray="1.6 1"/>
<rect x="761" y="259.6" width="2.3" height="15" fill="#a84848" stroke="#3a1a1a" stroke-width="0.5" />
<line x1="762.15" y1="259.6" x2="762.15" y2="274.6" stroke="#3a1a1a" stroke-width="0.4" stroke-dasharray="1.6 1"/>
<rect x="764.1" y="259.6" width="2.5" height="15" fill="#a84848" stroke="#3a1a1a" stroke-width="0.5" />
<line x1="765.35" y1="259.6" x2="765.35" y2="274.6" stroke="#3a1a1a" stroke-width="0.4" stroke-dasharray="1.6 1"/>
<rect x="770.5" y="259.6" width="2.1" height="15" fill="#a84848" stroke="#3a1a1a" stroke-width="0.5" />
<line x1="771.55" y1="259.6" x2="771.55" y2="274.6" stroke="#3a1a1a" stroke-width="0.4" stroke-dasharray="1.6 1"/>
<rect x="760.7" y="248.8" width="12.6" height="1.6" fill="#888" stroke="#555" stroke-width="0.3" />
<line x1="762" y1="250.6" x2="762" y2="260.2" stroke="#555" stroke-width="0.4" />
<line x1="771.6" y1="250.6" x2="771.6" y2="260.2" stroke="#555" stroke-width="0.4" />
<rect x="754.9" y="282.4" width="12.6" height="1.6" fill="#888" stroke="#555" stroke-width="0.3" />
<line x1="755.9" y1="273.8" x2="755.9" y2="282.2" stroke="#777" stroke-width="0.4" />
<line x1="765.7" y1="273.8" x2="765.7" y2="282.2" stroke="#777" stroke-width="0.4" />
<rect x="755" y="319.2" width="2" height="15.1" fill="#a84848" stroke="#3a1a1a" stroke-width="0.5" />
<line x1="756" y1="319.2" x2="756" y2="334.3" stroke="#3a1a1a" stroke-width="0.4" stroke-dasharray="1.6 1"/>
<rect x="761" y="319.2" width="2.3" height="15.1" fill="#a84848" stroke="#3a1a1a" stroke-width="0.5" />
<line x1="762.15" y1="319.2" x2="762.15" y2="334.3" stroke="#3a1a1a" stroke-width="0.4" stroke-dasharray="1.6 1"/>
<rect x="764.1" y="319.2" width="2.5" height="15.1" fill="#a84848" stroke="#3a1a1a" stroke-width="0.5" />
<line x1="765.35" y1="319.2" x2="765.35" y2="334.3" stroke="#3a1a1a" stroke-width="0.4" stroke-dasharray="1.6 1"/>
<rect x="770.5" y="319.2" width="2.1" height="15.1" fill="#a84848" stroke="#3a1a1a" stroke-width="0.5" />
<line x1="771.55" y1="319.2" x2="771.55" y2="334.3" stroke="#3a1a1a" stroke-width="0.4" stroke-dasharray="1.6 1"/>
<rect x="760.7" y="308.4" width="12.6" height="1.6" fill="#888" stroke="#555" stroke-width="0.3" />
<line x1="762" y1="310.2" x2="762" y2="319.8" stroke="#555" stroke-width="0.4" />
<line x1="771.6" y1="310.2" x2="771.6" y2="319.8" stroke="#555" stroke-width="0.4" />
<rect x="754.9" y="342.1" width="12.6" height="1.6" fill="#888" stroke="#555" stroke-width="0.3" />
<line x1="755.9" y1="333.5" x2="755.9" y2="341.9" stroke="#777" stroke-width="0.4" />
<line x1="765.7" y1="333.5" x2="765.7" y2="341.9" stroke="#777" stroke-width="0.4" />
<rect x="898.5" y="259.6" width="2" height="15" fill="#a84848" stroke="#3a1a1a" stroke-width="0.5" />
<line x1="899.5" y1="259.6" x2="899.5" y2="274.6" stroke="#3a1a1a" stroke-width="0.4" stroke-dasharray="1.6 1"/>
<rect x="904.5" y="259.6" width="2.3" height="15" fill="#a84848" stroke="#3a1a1a" stroke-width="0.5" />
<line x1="905.65" y1="259.6" x2="905.65" y2="274.6" stroke="#3a1a1a" stroke-width="0.4" stroke-dasharray="1.6 1"/>
<rect x="907.6" y="259.6" width="2.5" height="15" fill="#a84848" stroke="#3a1a1a" stroke-width="0.5" />
<line x1="908.85" y1="259.6" x2="908.85" y2="274.6" stroke="#3a1a1a" stroke-width="0.4" stroke-dasharray="1.6 1"/>
<rect x="914" y="259.6" width="2.1" height="15" fill="#a84848" stroke="#3a1a1a" stroke-width="0.5" />
<line x1="915.05" y1="259.6" x2="915.05" y2="274.6" stroke="#3a1a1a" stroke-width="0.4" stroke-dasharray="1.6 1"/>
<rect x="904.2" y="248.8" width="12.6" height="1.6" fill="#888" stroke="#555" stroke-width="0.3" />
<line x1="905.5" y1="250.6" x2="905.5" y2="260.2" stroke="#555" stroke-width="0.4" />
<line x1="915.1" y1="250.6" x2="915.1" y2="260.2" stroke="#555" stroke-width="0.4" />
<rect x="898.4" y="282.4" width="12.6" height="1.6" fill="#888" stroke="#555" stroke-width="0.3" />
<line x1="899.4" y1="273.8" x2="899.4" y2="282.2" stroke="#777" stroke-width="0.4" />
<line x1="909.2" y1="273.8" x2="909.2" y2="282.2" stroke="#777" stroke-width="0.4" />
<rect x="898.5" y="319.2" width="2" height="15.1" fill="#a84848" stroke="#3a1a1a" stroke-width="0.5" />
<line x1="899.5" y1="319.2" x2="899.5" y2="334.3" stroke="#3a1a1a" stroke-width="0.4" stroke-dasharray="1.6 1"/>
<rect x="904.5" y="319.2" width="2.3" height="15.1" fill="#a84848" stroke="#3a1a1a" stroke-width="0.5" />
<line x1="905.65" y1="319.2" x2="905.65" y2="334.3" stroke="#3a1a1a" stroke-width="0.4" stroke-dasharray="1.6 1"/>
<rect x="907.6" y="319.2" width="2.5" height="15.1" fill="#a84848" stroke="#3a1a1a" stroke-width="0.5" />
<line x1="908.85" y1="319.2" x2="908.85" y2="334.3" stroke="#3a1a1a" stroke-width="0.4" stroke-dasharray="1.6 1"/>
<rect x="914" y="319.2" width="2.1" height="15.1" fill="#a84848" stroke="#3a1a1a" stroke-width="0.5" />
<line x1="915.05" y1="319.2" x2="915.05" y2="334.3" stroke="#3a1a1a" stroke-width="0.4" stroke-dasharray="1.6 1"/>
<rect x="904.2" y="308.4" width="12.6" height="1.6" fill="#888" stroke="#555" stroke-width="0.3" />
<line x1="905.5" y1="310.2" x2="905.5" y2="319.8" stroke="#555" stroke-width="0.4" />
<line x1="915.1" y1="310.2" x2="915.1" y2="319.8" stroke="#555" stroke-width="0.4" />
<rect x="898.4" y="342.1" width="12.6" height="1.6" fill="#888" stroke="#555" stroke-width="0.3" />
<line x1="899.4" y1="333.5" x2="899.4" y2="341.9" stroke="#777" stroke-width="0.4" />
<line x1="909.2" y1="333.5" x2="909.2" y2="341.9" stroke="#777" stroke-width="0.4" />
<rect x="1081.2" y="259.6" width="2" height="15" fill="#a84848" stroke="#3a1a1a" stroke-width="0.5" />
<line x1="1082.2" y1="259.6" x2="1082.2" y2="274.6" stroke="#3a1a1a" stroke-width="0.4" stroke-dasharray="1.6 1"/>
<rect x="1087.2" y="259.6" width="2.3" height="15" fill="#a84848" stroke="#3a1a1a" stroke-width="0.5" />
<line x1="1088.35" y1="259.6" x2="1088.35" y2="274.6" stroke="#3a1a1a" stroke-width="0.4" stroke-dasharray="1.6 1"/>
<rect x="1090.3" y="259.6" width="2.5" height="15" fill="#a84848" stroke="#3a1a1a" stroke-width="0.5" />
<line x1="1091.55" y1="259.6" x2="1091.55" y2="274.6" stroke="#3a1a1a" stroke-width="0.4" stroke-dasharray="1.6 1"/>
<rect x="1096.7" y="259.6" width="2.1" height="15" fill="#a84848" stroke="#3a1a1a" stroke-width="0.5" />
<line x1="1097.75" y1="259.6" x2="1097.75" y2="274.6" stroke="#3a1a1a" stroke-width="0.4" stroke-dasharray="1.6 1"/>
<rect x="1086.9" y="248.8" width="12.6" height="1.6" fill="#888" stroke="#555" stroke-width="0.3" />
<line x1="1088.2" y1="250.6" x2="1088.2" y2="260.2" stroke="#555" stroke-width="0.4" />
<line x1="1097.8" y1="250.6" x2="1097.8" y2="260.2" stroke="#555" stroke-width="0.4" />
<rect x="1081.1" y="282.4" width="12.6" height="1.6" fill="#888" stroke="#555" stroke-width="0.3" />
<line x1="1082.1" y1="273.8" x2="1082.1" y2="282.2" stroke="#777" stroke-width="0.4" />
<line x1="1091.9" y1="273.8" x2="1091.9" y2="282.2" stroke="#777" stroke-width="0.4" />
<rect x="1081.2" y="319.2" width="2" height="15.1" fill="#a84848" stroke="#3a1a1a" stroke-width="0.5" />
<line x1="1082.2" y1="319.2" x2="1082.2" y2="334.3" stroke="#3a1a1a" stroke-width="0.4" stroke-dasharray="1.6 1"/>
<rect x="1087.2" y="319.2" width="2.3" height="15.1" fill="#a84848" stroke="#3a1a1a" stroke-width="0.5" />
<line x1="1088.35" y1="319.2" x2="1088.35" y2="334.3" stroke="#3a1a1a" stroke-width="0.4" stroke-dasharray="1.6 1"/>
<rect x="1090.3" y="319.2" width="2.5" height="15.1" fill="#a84848" stroke="#3a1a1a" stroke-width="0.5" />
<line x1="1091.55" y1="319.2" x2="1091.55" y2="334.3" stroke="#3a1a1a" stroke-width="0.4" stroke-dasharray="1.6 1"/>
<rect x="1096.7" y="319.2" width="2.1" height="15.1" fill="#a84848" stroke="#3a1a1a" stroke-width="0.5" />
<line x1="1097.75" y1="319.2" x2="1097.75" y2="334.3" stroke="#3a1a1a" stroke-width="0.4" stroke-dasharray="1.6 1"/>
<rect x="1086.9" y="308.4" width="12.6" height="1.6" fill="#888" stroke="#555" stroke-width="0.3" />
<line x1="1088.2" y1="310.2" x2="1088.2" y2="319.8" stroke="#555" stroke-width="0.4" />
<line x1="1097.8" y1="310.2" x2="1097.8" y2="319.8" stroke="#555" stroke-width="0.4" />
<rect x="1081.1" y="342.1" width="12.6" height="1.6" fill="#888" stroke="#555" stroke-width="0.3" />
<line x1="1082.1" y1="333.5" x2="1082.1" y2="341.9" stroke="#777" stroke-width="0.4" />
<line x1="1091.9" y1="333.5" x2="1091.9" y2="341.9" stroke="#777" stroke-width="0.4" />
<rect x="988.4" y="259.6" width="2" height="15" fill="#a84848" stroke="#3a1a1a" stroke-width="0.5" />
<line x1="989.4" y1="259.6" x2="989.4" y2="274.6" stroke="#3a1a1a" stroke-width="0.4" stroke-dasharray="1.6 1"/>
<rect x="997.9" y="259.6" width="2" height="15" fill="#a84848" stroke="#3a1a1a" stroke-width="0.5" />
<line x1="998.9" y1="259.6" x2="998.9" y2="274.6" stroke="#3a1a1a" stroke-width="0.4" stroke-dasharray="1.6 1"/>
<rect x="988" y="248.8" width="12.6" height="1.6" fill="#888" stroke="#555" stroke-width="0.3" />
<line x1="989.3" y1="250.6" x2="989.3" y2="260.2" stroke="#555" stroke-width="0.4" />
<line x1="998.9" y1="250.6" x2="998.9" y2="260.2" stroke="#555" stroke-width="0.4" />
<rect x="988.4" y="319.2" width="2" height="15.1" fill="#a84848" stroke="#3a1a1a" stroke-width="0.5" />
<line x1="989.4" y1="319.2" x2="989.4" y2="334.3" stroke="#3a1a1a" stroke-width="0.4" stroke-dasharray="1.6 1"/>
<rect x="997.9" y="319.2" width="2" height="15.1" fill="#a84848" stroke="#3a1a1a" stroke-width="0.5" />
<line x1="998.9" y1="319.2" x2="998.9" y2="334.3" stroke="#3a1a1a" stroke-width="0.4" stroke-dasharray="1.6 1"/>
<rect x="988" y="308.4" width="12.6" height="1.6" fill="#888" stroke="#555" stroke-width="0.3" />
<line x1="989.3" y1="310.2" x2="989.3" y2="319.8" stroke="#555" stroke-width="0.4" />
<line x1="998.9" y1="310.2" x2="998.9" y2="319.8" stroke="#555" stroke-width="0.4" />
<text x="720.1" y="253.2" font-size="2.9" font-weight="normal" fill="#8a9090" text-anchor="start" textLength="13.5" lengthAdjust="spacingAndGlyphs" >MRC-D6</text>
<text x="720.1" y="313" font-size="2.9" font-weight="normal" fill="#8a9090" text-anchor="start" textLength="13.5" lengthAdjust="spacingAndGlyphs" >MRC-D6</text>
<text x="780.2" y="253.2" font-size="2.9" font-weight="normal" fill="#8a9090" text-anchor="start" textLength="13.5" lengthAdjust="spacingAndGlyphs" >MRC-D6</text>
<text x="780.2" y="313" font-size="2.9" font-weight="normal" fill="#8a9090" text-anchor="start" textLength="13.5" lengthAdjust="spacingAndGlyphs" >MRC-D6</text>
<text x="923.7" y="253.2" font-size="2.9" font-weight="normal" fill="#8a9090" text-anchor="start" textLength="13.5" lengthAdjust="spacingAndGlyphs" >MRC-D6</text>
<text x="923.7" y="313" font-size="2.9" font-weight="normal" fill="#8a9090" text-anchor="start" textLength="13.5" lengthAdjust="spacingAndGlyphs" >MRC-D6</text>
<text x="1007.5" y="253.2" font-size="2.9" font-weight="normal" fill="#8a9090" text-anchor="start" textLength="13.5" lengthAdjust="spacingAndGlyphs" >MRC-D6</text>
<text x="1007.5" y="313" font-size="2.9" font-weight="normal" fill="#8a9090" text-anchor="start" textLength="13.5" lengthAdjust="spacingAndGlyphs" >MRC-D6</text>
<text x="1106.4" y="253.2" font-size="2.9" font-weight="normal" fill="#8a9090" text-anchor="start" textLength="13.5" lengthAdjust="spacingAndGlyphs" >MRC-D6</text>
<text x="1106.4" y="313" font-size="2.9" font-weight="normal" fill="#8a9090" text-anchor="start" textLength="13.5" lengthAdjust="spacingAndGlyphs" >MRC-D6</text>
<text x="676.4" y="282" font-size="2.9" font-weight="normal" fill="#8a9090" text-anchor="start" textLength="13.5" lengthAdjust="spacingAndGlyphs" >MRS-D6</text>
<text x="676.4" y="341.8" font-size="2.9" font-weight="normal" fill="#8a9090" text-anchor="start" textLength="13.5" lengthAdjust="spacingAndGlyphs" >MRS-D6</text>
<text x="736.5" y="282" font-size="2.9" font-weight="normal" fill="#8a9090" text-anchor="start" textLength="13.5" lengthAdjust="spacingAndGlyphs" >MRS-D6</text>
<text x="736.5" y="341.8" font-size="2.9" font-weight="normal" fill="#8a9090" text-anchor="start" textLength="13.5" lengthAdjust="spacingAndGlyphs" >MRS-D6</text>
<text x="880" y="282" font-size="2.9" font-weight="normal" fill="#8a9090" text-anchor="start" textLength="13.5" lengthAdjust="spacingAndGlyphs" >MRS-D6</text>
<text x="880" y="341.8" font-size="2.9" font-weight="normal" fill="#8a9090" text-anchor="start" textLength="13.5" lengthAdjust="spacingAndGlyphs" >MRS-D6</text>
<text x="1062.7" y="282" font-size="2.9" font-weight="normal" fill="#8a9090" text-anchor="start" textLength="13.5" lengthAdjust="spacingAndGlyphs" >MRS-D6</text>
<text x="1062.7" y="341.8" font-size="2.9" font-weight="normal" fill="#8a9090" text-anchor="start" textLength="13.5" lengthAdjust="spacingAndGlyphs" >MRS-D6</text>
<text x="599.5" y="264.6" font-size="2.7" font-weight="normal" fill="#8a9090" text-anchor="start" textLength="10.5" lengthAdjust="spacingAndGlyphs" >DN200</text>
<text x="599.5" y="324.4" font-size="2.7" font-weight="normal" fill="#8a9090" text-anchor="start" textLength="10.5" lengthAdjust="spacingAndGlyphs" >DN200</text>
<text x="1104.8" y="264.8" font-size="2.7" font-weight="normal" fill="#8a9090" text-anchor="start" textLength="10.5" lengthAdjust="spacingAndGlyphs" >DN200</text>
<text x="1104.8" y="324.6" font-size="2.7" font-weight="normal" fill="#8a9090" text-anchor="start" textLength="10.5" lengthAdjust="spacingAndGlyphs" >DN200</text>
<line x1="1107" y1="274" x2="1107" y2="280.3" stroke="#666" stroke-width="0.4" />
<ellipse cx="1107" cy="282.3" rx="2" ry="2" fill="#444" stroke="#222" stroke-width="0.4" />
<polyline points="1108.5,280.1 1111,278.7 1114,278.7" fill="none" stroke="#cc4040" stroke-width="0.5" stroke-linejoin="round" stroke-linecap="round" />
<line x1="1107" y1="333.7" x2="1107" y2="340" stroke="#666" stroke-width="0.4" />
<ellipse cx="1107" cy="342" rx="2" ry="2" fill="#444" stroke="#222" stroke-width="0.4" />
<polyline points="1108.5,339.8 1111,338.4 1114,338.4" fill="none" stroke="#cc4040" stroke-width="0.5" stroke-linejoin="round" stroke-linecap="round" />
<polygon points="1192.3,306.5 1197.1,306.5 1195.3,303 1194.1,303" fill="#555" stroke="#222" stroke-width="0.3" stroke-linejoin="round" />
<line x1="1194.7" y1="295" x2="1194.7" y2="303" stroke="#333" stroke-width="0.6" />
<line x1="1195.9" y1="302.5" x2="1201.2" y2="302.5" stroke="#e03030" stroke-width="0.6" />
<polygon points="1204.1,306.5 1208.9,306.5 1207.1,303 1205.9,303" fill="#555" stroke="#222" stroke-width="0.3" stroke-linejoin="round" />
<line x1="1206.5" y1="295" x2="1206.5" y2="303" stroke="#333" stroke-width="0.6" />
<line x1="1207.7" y1="302.5" x2="1213" y2="302.5" stroke="#e03030" stroke-width="0.6" />
<line x1="1228" y1="117.3" x2="1228" y2="386.8" stroke="#7a8a8a" stroke-width="0.5" />
<line x1="1225" y1="117.3" x2="1231" y2="117.3" stroke="#7a8a8a" stroke-width="0.5" />
<line x1="1225" y1="266.5" x2="1231" y2="266.5" stroke="#7a8a8a" stroke-width="0.5" />
<line x1="1225" y1="326.8" x2="1231" y2="326.8" stroke="#7a8a8a" stroke-width="0.5" />
<line x1="1225" y1="386.8" x2="1231" y2="386.8" stroke="#7a8a8a" stroke-width="0.5" />
<polygon points="1228,117.3 1226.9,123.8 1229.1,123.8" fill="#222" />
<polygon points="1228,266.5 1226.9,260 1229.1,260" fill="#222" />
<polygon points="1228,266.5 1226.9,273 1229.1,273" fill="#222" />
<polygon points="1228,326.8 1226.9,320.3 1229.1,320.3" fill="#222" />
<polygon points="1228,326.8 1226.9,333.3 1229.1,333.3" fill="#222" />
<polygon points="1228,386.8 1226.9,380.3 1229.1,380.3" fill="#222" />
<text x="1226.3" y="198.5" font-size="3.6" font-weight="normal" fill="#8a9090" text-anchor="start" textLength="12" lengthAdjust="spacingAndGlyphs" transform="rotate(-90 1226.3 198.5)">2500</text>
<text x="1226.3" y="303" font-size="3.6" font-weight="normal" fill="#8a9090" text-anchor="start" textLength="12" lengthAdjust="spacingAndGlyphs" transform="rotate(-90 1226.3 303)">1000</text>
<text x="1226.3" y="362.5" font-size="3.6" font-weight="normal" fill="#8a9090" text-anchor="start" textLength="12" lengthAdjust="spacingAndGlyphs" transform="rotate(-90 1226.3 362.5)">1000</text>
<line x1="1089.4" y1="398.7" x2="1200.7" y2="398.7" stroke="#7a8a8a" stroke-width="0.5" />
<line x1="1089.4" y1="395.7" x2="1089.4" y2="401.7" stroke="#7a8a8a" stroke-width="0.5" />
<line x1="1134.5" y1="395.7" x2="1134.5" y2="401.7" stroke="#7a8a8a" stroke-width="0.5" />
<line x1="1170.5" y1="395.7" x2="1170.5" y2="401.7" stroke="#7a8a8a" stroke-width="0.5" />
<line x1="1200.7" y1="395.7" x2="1200.7" y2="401.7" stroke="#7a8a8a" stroke-width="0.5" />
<polygon points="1089.4,398.7 1095.9,397.7 1095.9,399.7" fill="#222" />
<polygon points="1134.5,398.7 1128,397.7 1128,399.7" fill="#222" />
<polygon points="1134.5,398.7 1141,397.7 1141,399.7" fill="#222" />
<polygon points="1170.5,398.7 1164,397.7 1164,399.7" fill="#222" />
<polygon points="1170.5,398.7 1177,397.7 1177,399.7" fill="#222" />
<polygon points="1200.7,398.7 1194.2,397.7 1194.2,399.7" fill="#222" />
<text x="1107.5" y="396.3" font-size="3.6" font-weight="normal" fill="#8a9090" text-anchor="start" textLength="9.5" lengthAdjust="spacingAndGlyphs" >750</text>
<text x="1147.5" y="396.3" font-size="3.6" font-weight="normal" fill="#8a9090" text-anchor="start" textLength="9.5" lengthAdjust="spacingAndGlyphs" >600</text>
<text x="1180.5" y="396.3" font-size="3.6" font-weight="normal" fill="#8a9090" text-anchor="start" textLength="9.5" lengthAdjust="spacingAndGlyphs" >500</text>
<line x1="1301.9" y1="67.3" x2="1301.9" y2="92" stroke="#555" stroke-width="0.5" />
<line x1="1302.5" y1="78" x2="1302.5" y2="92" stroke="#cc4040" stroke-width="0.4" />
<path d="M1295.2,140 L1295.2,96.5 Q1295.4,90.8 1301.9,90.8 Q1308.4,90.8 1308.6,96.5 L1308.6,138" fill="none" stroke="#8c8c8c" stroke-width="0.5" stroke-linejoin="round" stroke-linecap="round" />
<line x1="1295.2" y1="98.5" x2="1308.6" y2="98.5" stroke="#8c8c8c" stroke-width="0.4" />
<line x1="1295.2" y1="131.5" x2="1308.6" y2="131.5" stroke="#8c8c8c" stroke-width="0.4" />
<line x1="1301.9" y1="92" x2="1301.9" y2="140" stroke="#f0a8a8" stroke-width="0.4" />
<rect x="1277.1" y="110.6" width="18.1" height="13.7" fill="#fff" stroke="#8c8c8c" stroke-width="0.5" />
<line x1="1290.7" y1="110.6" x2="1290.7" y2="124.3" stroke="#8c8c8c" stroke-width="0.4" />
<line x1="1277.1" y1="117.4" x2="1298" y2="117.4" stroke="#f0a8a8" stroke-width="0.4" />
<polyline points="1295.2,110.6 1300.6,117.4 1295.2,124.3" fill="none" stroke="#8c8c8c" stroke-width="0.5" stroke-linejoin="round" stroke-linecap="round" />
<path d="M1295.2,138 C1295.2,152 1313,150 1313,166" fill="none" stroke="#8c8c8c" stroke-width="0.5" stroke-linejoin="round" stroke-linecap="round" />
<path d="M1308.6,138 C1309,146 1326.7,144 1326.7,160" fill="none" stroke="#8c8c8c" stroke-width="0.5" stroke-linejoin="round" stroke-linecap="round" />
<path d="M1301.9,140 C1302,150 1319.8,148 1319.8,164" fill="none" stroke="#f0a8a8" stroke-width="0.4" stroke-linejoin="round" stroke-linecap="round" />
<line x1="1302.5" y1="149.5" x2="1311.5" y2="142" stroke="#8c8c8c" stroke-width="0.4" />
<line x1="1306.5" y1="155" x2="1316.5" y2="146" stroke="#8c8c8c" stroke-width="0.4" />
<line x1="1313" y1="165" x2="1313" y2="314" stroke="#8c8c8c" stroke-width="0.5" />
<line x1="1326.7" y1="160" x2="1326.7" y2="314" stroke="#8c8c8c" stroke-width="0.5" />
<line x1="1319.8" y1="164" x2="1319.8" y2="345" stroke="#f0a8a8" stroke-width="0.4" />
<rect x="1334.1" y="158.5" width="11.1" height="228.3" fill="#fff" stroke="#8c8c8c" stroke-width="0.5" />
<line x1="1335" y1="158.5" x2="1335" y2="386.8" stroke="#cc4040" stroke-width="0.5" />
<line x1="1344.4" y1="158.5" x2="1344.4" y2="386.8" stroke="#cc4040" stroke-width="0.5" />
<line x1="1334.1" y1="147.2" x2="1345.6" y2="147.2" stroke="#444" stroke-width="0.6" />
<line x1="1339.8" y1="147.2" x2="1339.8" y2="158.5" stroke="#444" stroke-width="0.6" />
<rect x="1312.8" y="165.7" width="14.5" height="1.6" fill="#a84848" stroke="#3a1a1a" stroke-width="0.3" />
<rect x="1312.8" y="175.5" width="14.5" height="1.6" fill="#a84848" stroke="#3a1a1a" stroke-width="0.3" />
<rect x="1312.8" y="225.6" width="14.5" height="1.6" fill="#a84848" stroke="#3a1a1a" stroke-width="0.3" />
<rect x="1312.8" y="235.5" width="14.5" height="1.6" fill="#a84848" stroke="#3a1a1a" stroke-width="0.3" />
<polyline points="1334.1,166.4 1337.6,166.4 1337.6,176.4 1334.1,176.4" fill="none" stroke="#333" stroke-width="0.5" stroke-linejoin="round" stroke-linecap="round" />
<polygon points="1337.6,171.4 1341.5,168 1341.5,174.8" fill="none" stroke="#222" stroke-width="0.6" stroke-linejoin="round" />
<line x1="1327" y1="171.4" x2="1337.6" y2="171.4" stroke="#555" stroke-width="0.4" />
<polyline points="1334.1,226.3 1337.6,226.3 1337.6,236.3 1334.1,236.3" fill="none" stroke="#333" stroke-width="0.5" stroke-linejoin="round" stroke-linecap="round" />
<polygon points="1337.6,231.3 1341.5,227.9 1341.5,234.7" fill="none" stroke="#222" stroke-width="0.6" stroke-linejoin="round" />
<line x1="1327" y1="231.3" x2="1337.6" y2="231.3" stroke="#555" stroke-width="0.4" />
<rect x="1313" y="246.5" width="21.1" height="4" fill="none" stroke="#8c8c8c" stroke-width="0.5" />
<line x1="1313" y1="247.7" x2="1334.1" y2="247.7" stroke="#f0a8a8" stroke-width="0.4" />
<rect x="1313" y="285.4" width="21.1" height="12.9" fill="none" stroke="#8c8c8c" stroke-width="0.5" />
<line x1="1313" y1="286.6" x2="1334.1" y2="286.6" stroke="#f0a8a8" stroke-width="0.4" />
<rect x="1313" y="299.5" width="21.1" height="9.4" fill="none" stroke="#8c8c8c" stroke-width="0.5" />
<line x1="1313" y1="300.7" x2="1334.1" y2="300.7" stroke="#f0a8a8" stroke-width="0.4" />
<rect x="1313" y="344.6" width="21.1" height="9.9" fill="none" stroke="#8c8c8c" stroke-width="0.5" />
<line x1="1313" y1="345.8" x2="1334.1" y2="345.8" stroke="#f0a8a8" stroke-width="0.4" />
<rect x="1313" y="250.5" width="13.7" height="8" fill="none" stroke="#8c8c8c" stroke-width="0.4" />
<rect x="1313" y="308.9" width="13.7" height="5.5" fill="none" stroke="#8c8c8c" stroke-width="0.4" />
<path d="M1319.7,249.8 L1319.7,258.8" fill="none" stroke="#444" stroke-width="0.6" stroke-linejoin="round" stroke-linecap="round" />
<ellipse cx="1319.7" cy="266.8" rx="7.6" ry="7.6" fill="#fff" stroke="#111" stroke-width="1" />
<polygon points="1311.2,266.8 1313.4,264.6 1313.4,269" fill="#111" />
<polygon points="1328.2,266.8 1326,264.6 1326,269" fill="#111" />
<line x1="1319.7" y1="274.4" x2="1319.7" y2="284.8" stroke="#444" stroke-width="0.7" />
<polygon points="1317.6,284.8 1321.8,284.8 1319.7,281.3" fill="#444" />
<polygon points="1317.6,249.3 1321.8,249.3 1319.7,252.3" fill="#444" />
<line x1="1304" y1="282.3" x2="1319" y2="282.3" stroke="#777" stroke-width="0.5" />
<polygon points="1299.5,279.6 1299.5,285 1304,282.3" fill="none" stroke="#333" stroke-width="0.6" stroke-linejoin="round" />
<polygon points="1301.8,281.4 1303.6,278.4 1305.2,281.4" fill="#a02020" stroke="#501010" stroke-width="0.3" stroke-linejoin="round" />
<path d="M1319.7,309.8 L1319.7,318.8" fill="none" stroke="#444" stroke-width="0.6" stroke-linejoin="round" stroke-linecap="round" />
<ellipse cx="1319.7" cy="326.8" rx="7.6" ry="7.6" fill="#fff" stroke="#111" stroke-width="1" />
<polygon points="1311.2,326.8 1313.4,324.6 1313.4,329" fill="#111" />
<polygon points="1328.2,326.8 1326,324.6 1326,329" fill="#111" />
<line x1="1319.7" y1="334.4" x2="1319.7" y2="344.8" stroke="#444" stroke-width="0.7" />
<polygon points="1317.6,344.8 1321.8,344.8 1319.7,341.3" fill="#444" />
<polygon points="1317.6,309.3 1321.8,309.3 1319.7,312.3" fill="#444" />
<line x1="1304" y1="342.3" x2="1319" y2="342.3" stroke="#777" stroke-width="0.5" />
<polygon points="1299.5,339.6 1299.5,345 1304,342.3" fill="none" stroke="#333" stroke-width="0.6" stroke-linejoin="round" />
<polygon points="1301.8,341.4 1303.6,338.4 1305.2,341.4" fill="#a02020" stroke="#501010" stroke-width="0.3" stroke-linejoin="round" />
<line x1="1287.5" y1="189.5" x2="1334.1" y2="189.5" stroke="#7a8a8a" stroke-width="0.5" />
<polygon points="1301.9,189.5 1295.4,188.5 1295.4,190.5" fill="#222" />
<polygon points="1319.8,189.5 1326.3,188.5 1326.3,190.5" fill="#222" />
<line x1="1301.9" y1="186" x2="1301.9" y2="193" stroke="#7a8a8a" stroke-width="0.4" />
<text x="1306.5" y="187.6" font-size="3.6" font-weight="normal" fill="#8a9090" text-anchor="start" textLength="9" lengthAdjust="spacingAndGlyphs" >300</text>
<line x1="1319.7" y1="374.6" x2="1339.8" y2="374.6" stroke="#7a8a8a" stroke-width="0.5" />
<line x1="1319.7" y1="365" x2="1319.7" y2="378" stroke="#7a8a8a" stroke-width="0.4" />
<line x1="1339.8" y1="365" x2="1339.8" y2="378" stroke="#7a8a8a" stroke-width="0.4" />
<polygon points="1327.5,374.6 1321,373.6 1321,375.6" fill="#222" />
<polygon points="1332,374.6 1338.5,373.6 1338.5,375.6" fill="#222" />
<text x="1325.5" y="372" font-size="3.6" font-weight="normal" fill="#8a9090" text-anchor="start" textLength="9" lengthAdjust="spacingAndGlyphs" >335</text>
<g clip-path="url(#c1)">
<rect x="178.6" y="58.2" width="5.3" height="437.5" fill="#4c4e5e" />
<rect x="183.7" y="58.2" width="18.9" height="437.5" fill="#75767a" />
<line x1="202" y1="76" x2="202" y2="290" stroke="#2a2a36" stroke-width="1.6" />
<line x1="202" y1="312" x2="202" y2="495.7" stroke="#2a2a36" stroke-width="1.6" />
<polygon points="178.6,58.2 466,58.2 466,166.5 178.6,69.36" fill="#75767b" />
<polygon points="281,58.2 466,58.2 466,114.9 394.7,92" fill="#797a7e" />
<polygon points="396,92.6 444,108.4 444,110.8 396.5,95.8" fill="#ffffff" />
<line x1="380" y1="64.7" x2="466" y2="92.8" stroke="#8d8e92" stroke-width="0.7" />
<line x1="422.8" y1="58.1" x2="466" y2="72.1" stroke="#8d8e92" stroke-width="0.7" />
<line x1="300" y1="64.2" x2="466" y2="118.6" stroke="#3a3a44" stroke-width="0.6" />
<line x1="178.6" y1="69.36" x2="466" y2="166.5" stroke="#2a2a32" stroke-width="0.7" />
<line x1="178.6" y1="67.4" x2="202.6" y2="75.6" stroke="#3a3a44" stroke-width="0.5" />
<polygon points="178.6,236.47 466,332.17 466,382.3 178.6,283.43" fill="#76777c" />
<line x1="178.6" y1="236.47" x2="466" y2="332.17" stroke="#2a2a32" stroke-width="0.6" />
<line x1="178.6" y1="283.43" x2="466" y2="382.3" stroke="#2a2a32" stroke-width="0.7" />
<line x1="178.6" y1="239.47" x2="466" y2="335.57" stroke="#84858a" stroke-width="0.6" />
<rect x="142.4" y="58.2" width="35.2" height="437.5" fill="#77787c" />
<rect x="176.6" y="58.2" width="2.2" height="437.5" fill="#2a2a36" />
<line x1="143" y1="58.2" x2="143" y2="495.7" stroke="#3c3c3e" stroke-width="1.6" />
<path d="M179.2,455 L179.2,481 Q179.2,487 174,489.5 L160,496" fill="none" stroke="#15151a" stroke-width="5.2" stroke-linejoin="round" stroke-linecap="round" />
<path d="M179.2,455 L179.2,481 Q179.2,487 174,489.5 L160,496" fill="none" stroke="#f05848" stroke-width="3.8" stroke-linejoin="round" stroke-linecap="round" />
<path d="M180.6,455 L180.6,481" fill="none" stroke="#9a3a90" stroke-width="1" stroke-linejoin="round" stroke-linecap="round" />
<polygon points="90.9,481.7 142.2,452.8 177.6,464.6 125.1,494.1" fill="#707176" stroke="#15151a" stroke-width="0.5" stroke-linejoin="round" />
<polygon points="90.9,481.7 91.3,483.7 125.1,496.1 125.1,494.1" fill="#3c3d4a" />
<polygon points="125.1,494.1 177.6,464.6 177.6,467.3 125.1,496.1" fill="#50516a" stroke="#15151a" stroke-width="0.3" stroke-linejoin="round" />
<polygon points="160.5,476.6 177.6,467.3 177.6,499.4 160.5,492.7" fill="#707176" />
<polygon points="109.8,490.9 125.1,496.1 160.5,476.6 160.5,492.7 109.8,520.1" fill="#54556a" stroke="#15151a" stroke-width="0.3" stroke-linejoin="round" />
<polygon points="107.4,489.7 109.8,490.9 109.8,521.3 107.4,521.3" fill="#6c6d74" stroke="#15151a" stroke-width="0.3" stroke-linejoin="round" />
<polygon points="90.9,516.5 107.4,507.7 107.4,521.7" fill="#707176" stroke="#15151a" stroke-width="0.4" stroke-linejoin="round" />
<polygon points="109.8,520.1 160.5,492.7 177.6,499.4 125.1,528.3" fill="#707176" stroke="#15151a" stroke-width="0.4" stroke-linejoin="round" />
<polygon points="90.9,516.5 125.1,528.3 177.6,499.4 177.6,501.7 125.1,530.3 91.2,518.5" fill="#3c3d4a" stroke="#15151a" stroke-width="0.3" stroke-linejoin="round" />
<polygon points="90.6,316.6 141.9,287.7 177.3,299.5 124.8,329" fill="#707176" stroke="#15151a" stroke-width="0.5" stroke-linejoin="round" />
<polygon points="90.6,316.6 91,318.6 124.8,331 124.8,329" fill="#3c3d4a" />
<polygon points="124.8,329 177.3,299.5 177.3,302.2 124.8,331" fill="#50516a" stroke="#15151a" stroke-width="0.3" stroke-linejoin="round" />
<polygon points="160.2,311.5 177.3,302.2 177.3,334.3 160.2,327.6" fill="#707176" />
<polygon points="109.5,325.8 124.8,331 160.2,311.5 160.2,327.6 109.5,355" fill="#54556a" stroke="#15151a" stroke-width="0.3" stroke-linejoin="round" />
<polygon points="107.1,324.6 109.5,325.8 109.5,356.2 107.1,356.2" fill="#6c6d74" stroke="#15151a" stroke-width="0.3" stroke-linejoin="round" />
<polygon points="90.6,351.4 107.1,342.6 107.1,356.6" fill="#707176" stroke="#15151a" stroke-width="0.4" stroke-linejoin="round" />
<polygon points="109.5,355 160.2,327.6 177.3,334.3 124.8,363.2" fill="#707176" stroke="#15151a" stroke-width="0.4" stroke-linejoin="round" />
<polygon points="90.6,351.4 124.8,363.2 177.3,334.3 177.3,336.6 124.8,365.2 90.9,353.4" fill="#3c3d4a" stroke="#15151a" stroke-width="0.3" stroke-linejoin="round" />
<path d="M306.7,58.2 L306.7,70 C308,90 326,114 350.6,124.4 L350.6,140 L403.3,140 L403.3,126 C402.5,106 393,88 379,77.5 C372,73.5 360.5,73 359.4,66 L359.4,58.2 Z" fill="url(#g3)" stroke="#15151a" stroke-width="0.7" stroke-linejoin="round" stroke-linecap="round" />
<rect x="350.6" y="132" width="52.7" height="363.7" fill="url(#g2)" />
<line x1="350.6" y1="128" x2="350.6" y2="495.7" stroke="#15151a" stroke-width="0.7" />
<line x1="403.3" y1="122" x2="403.3" y2="495.7" stroke="#15151a" stroke-width="0.7" />
<path d="M306.7,67.1 Q332,86 359.4,69" fill="none" stroke="#15151a" stroke-width="0.7" stroke-linejoin="round" stroke-linecap="round" />
<path d="M359.4,69 C370,82 372,96 364.1,109.2 C358,117 350,121 344.5,121.3" fill="none" stroke="#15151a" stroke-width="0.7" stroke-linejoin="round" stroke-linecap="round" />
<path d="M376.2,75.1 C385,88 386.5,101 379,112.9 C373,120 364,124.5 356.6,125" fill="none" stroke="#15151a" stroke-width="0.7" stroke-linejoin="round" stroke-linecap="round" />
<path d="M351,129.7 Q374.4,143 403.3,131.6" fill="none" stroke="#15151a" stroke-width="0.7" stroke-linejoin="round" stroke-linecap="round" />
<polygon points="295,76.3 299.5,73.3 305.5,75.8 305.5,125.4 301,127.2 295,123.4" fill="#c9c59c" stroke="#15151a" stroke-width="0.5" stroke-linejoin="round" />
<line x1="290" y1="87.96" x2="299.2" y2="82.76" stroke="#15151a" stroke-width="2.8" />
<line x1="290" y1="87.96" x2="299.2" y2="82.76" stroke="#8fd8d0" stroke-width="1.6" />
<line x1="290" y1="88.76" x2="298.6" y2="83.86" stroke="#3a7ac8" stroke-width="0.8" />
<line x1="290" y1="119.22" x2="299.2" y2="114.02" stroke="#15151a" stroke-width="2.8" />
<line x1="290" y1="119.22" x2="299.2" y2="114.02" stroke="#8fd8d0" stroke-width="1.6" />
<line x1="290" y1="120.02" x2="298.6" y2="115.12" stroke="#3a7ac8" stroke-width="0.8" />
<rect x="299.2" y="79.3" width="2.6" height="18.76" fill="#f0503c" stroke="#15151a" stroke-width="0.4" rx="1.2"/>
<rect x="299.2" y="102.48" width="2.6" height="14.59" fill="#f0503c" stroke="#15151a" stroke-width="0.4" rx="1.2"/>
<polygon points="303.2,74.9 308.2,76.9 308.2,122.9 303.2,126.4" fill="#4a66a8" stroke="#15151a" stroke-width="0.4" stroke-linejoin="round" />
<polygon points="308.2,85.3 310.5,90.3 315.5,105.6 311.5,120.4 308.2,122.9" fill="#c9c59c" stroke="#15151a" stroke-width="0.5" stroke-linejoin="round" />
<ellipse cx="311.6" cy="100.39" rx="0.9" ry="0.9" fill="#444" />
<polygon points="404.4,115 408.9,112 414.9,114.5 414.9,163.6 410.4,165.4 404.4,161.6" fill="#c9c59c" stroke="#15151a" stroke-width="0.5" stroke-linejoin="round" />
<line x1="399.4" y1="126.55" x2="408.6" y2="121.35" stroke="#15151a" stroke-width="2.8" />
<line x1="399.4" y1="126.55" x2="408.6" y2="121.35" stroke="#8fd8d0" stroke-width="1.6" />
<line x1="399.4" y1="127.35" x2="408" y2="122.45" stroke="#3a7ac8" stroke-width="0.8" />
<line x1="399.4" y1="157.51" x2="408.6" y2="152.31" stroke="#15151a" stroke-width="2.8" />
<line x1="399.4" y1="157.51" x2="408.6" y2="152.31" stroke="#8fd8d0" stroke-width="1.6" />
<line x1="399.4" y1="158.31" x2="408" y2="153.41" stroke="#3a7ac8" stroke-width="0.8" />
<rect x="408.6" y="118" width="2.6" height="18.58" fill="#f0503c" stroke="#15151a" stroke-width="0.4" rx="1.2"/>
<rect x="408.6" y="140.9" width="2.6" height="14.45" fill="#f0503c" stroke="#15151a" stroke-width="0.4" rx="1.2"/>
<polygon points="412.6,113.6 417.6,115.6 417.6,161.1 412.6,164.6" fill="#4a66a8" stroke="#15151a" stroke-width="0.4" stroke-linejoin="round" />
<polygon points="417.6,124 419.9,129 424.9,143.99 420.9,158.6 417.6,161.1" fill="#c9c59c" stroke="#15151a" stroke-width="0.5" stroke-linejoin="round" />
<ellipse cx="421" cy="138.83" rx="0.9" ry="0.9" fill="#444" />
<polygon points="423.9,133.67 429.4,130.58 441.9,138.83 441.9,148.12 437.4,150.18 424.6,143.99" fill="#c9c59c" stroke="#15151a" stroke-width="0.5" stroke-linejoin="round" />
<ellipse cx="436.9" cy="142.96" rx="1.6" ry="0.9" fill="#666" stroke="#15151a" stroke-width="0.3" transform="rotate(25 436.9 142.96)" />
<ellipse cx="428.9" cy="139.86" rx="1" ry="1" fill="#c040c0" />
<polygon points="295.8,290.6 300.3,287.6 306.3,290.1 306.3,340.2 301.8,342 295.8,338.2" fill="#c9c59c" stroke="#15151a" stroke-width="0.5" stroke-linejoin="round" />
<line x1="290.8" y1="302.37" x2="300" y2="297.17" stroke="#15151a" stroke-width="2.8" />
<line x1="290.8" y1="302.37" x2="300" y2="297.17" stroke="#8fd8d0" stroke-width="1.6" />
<line x1="290.8" y1="303.17" x2="299.4" y2="298.27" stroke="#3a7ac8" stroke-width="0.8" />
<line x1="290.8" y1="333.93" x2="300" y2="328.73" stroke="#15151a" stroke-width="2.8" />
<line x1="290.8" y1="333.93" x2="300" y2="328.73" stroke="#8fd8d0" stroke-width="1.6" />
<line x1="290.8" y1="334.73" x2="299.4" y2="329.83" stroke="#3a7ac8" stroke-width="0.8" />
<rect x="300" y="293.6" width="2.6" height="18.94" fill="#f0503c" stroke="#15151a" stroke-width="0.4" rx="1.2"/>
<rect x="300" y="317.06" width="2.6" height="14.73" fill="#f0503c" stroke="#15151a" stroke-width="0.4" rx="1.2"/>
<polygon points="304,289.2 309,291.2 309,337.7 304,341.2" fill="#4a66a8" stroke="#15151a" stroke-width="0.4" stroke-linejoin="round" />
<polygon points="309,299.6 311.3,304.6 316.3,320.21 312.3,335.2 309,337.7" fill="#c9c59c" stroke="#15151a" stroke-width="0.5" stroke-linejoin="round" />
<ellipse cx="312.4" cy="314.95" rx="0.9" ry="0.9" fill="#444" />
<polygon points="315.3,309.69 320.8,306.54 333.3,314.95 333.3,324.42 328.8,326.52 316,320.21" fill="#c9c59c" stroke="#15151a" stroke-width="0.5" stroke-linejoin="round" />
<ellipse cx="328.3" cy="319.16" rx="1.6" ry="0.9" fill="#666" stroke="#15151a" stroke-width="0.3" transform="rotate(25 328.3 319.16)" />
<ellipse cx="320.3" cy="316" rx="1" ry="1" fill="#c040c0" />
<polygon points="405.8,329 410.3,326 416.3,328.5 416.3,388.7 411.8,390.5 405.8,386.7" fill="#c9c59c" stroke="#15151a" stroke-width="0.5" stroke-linejoin="round" />
<line x1="400.8" y1="342.99" x2="410" y2="337.79" stroke="#15151a" stroke-width="2.8" />
<line x1="400.8" y1="342.99" x2="410" y2="337.79" stroke="#8fd8d0" stroke-width="1.6" />
<line x1="400.8" y1="343.79" x2="409.4" y2="338.89" stroke="#3a7ac8" stroke-width="0.8" />
<line x1="400.8" y1="380.61" x2="410" y2="375.41" stroke="#15151a" stroke-width="2.8" />
<line x1="400.8" y1="380.61" x2="410" y2="375.41" stroke="#8fd8d0" stroke-width="1.6" />
<line x1="400.8" y1="381.41" x2="409.4" y2="376.51" stroke="#3a7ac8" stroke-width="0.8" />
<rect x="410" y="332" width="2.6" height="22.57" fill="#f0503c" stroke="#15151a" stroke-width="0.4" rx="1.2"/>
<rect x="410" y="361.11" width="2.6" height="17.56" fill="#f0503c" stroke="#15151a" stroke-width="0.4" rx="1.2"/>
<polygon points="414,327.6 419,329.6 419,386.2 414,389.7" fill="#4a66a8" stroke="#15151a" stroke-width="0.4" stroke-linejoin="round" />
<polygon points="419,338 421.3,343 426.3,364.87 422.3,383.7 419,386.2" fill="#c9c59c" stroke="#15151a" stroke-width="0.5" stroke-linejoin="round" />
<ellipse cx="422.4" cy="358.6" rx="0.9" ry="0.9" fill="#444" />
<polygon points="425.3,352.33 430.8,348.57 443.3,358.6 443.3,369.89 438.8,372.4 426,364.87" fill="#c9c59c" stroke="#15151a" stroke-width="0.5" stroke-linejoin="round" />
<ellipse cx="438.3" cy="363.62" rx="1.6" ry="0.9" fill="#666" stroke="#15151a" stroke-width="0.3" transform="rotate(25 438.3 363.62)" />
<ellipse cx="430.3" cy="359.86" rx="1" ry="1" fill="#c040c0" />
<path d="M200.2,58.2 C204,66 214,75 224.5,79.3 C229,81.3 233,83 238.2,84.6 L238.2,128 L290.6,128 L290.6,94 C290.4,80 288.8,68 284.2,58.2 Z" fill="url(#g5)" stroke="#15151a" stroke-width="0.7" stroke-linejoin="round" stroke-linecap="round" />
<rect x="238.2" y="84" width="52.4" height="346" fill="url(#g4)" mask="url(#mj)"/>
<line x1="238.2" y1="85" x2="238.2" y2="426" stroke="#15151a" stroke-width="0.7" />
<line x1="290.6" y1="92" x2="290.6" y2="418" stroke="#15151a" stroke-width="0.7" />
<path d="M257.7,58 C256.5,67 250,76 240.7,80.8 C237,82.4 234,83.2 231.9,83.4" fill="none" stroke="#15151a" stroke-width="0.7" stroke-linejoin="round" stroke-linecap="round" />
<path d="M272.4,58 C271.5,68 266,78 257.7,83 C252,86 244,87 238.5,86" fill="none" stroke="#15151a" stroke-width="0.7" stroke-linejoin="round" stroke-linecap="round" />
<path d="M238.2,93.3 Q262,108 290.6,94.8" fill="none" stroke="#15151a" stroke-width="0.6" stroke-linejoin="round" stroke-linecap="round" />
<polygon points="44.7,359.6 238.2,424.4 238.2,440 216,473.4 44.7,414.9" fill="url(#g7)" />
<line x1="44.7" y1="359.6" x2="238.2" y2="424.4" stroke="#15151a" stroke-width="0.7" />
<line x1="44.7" y1="414.9" x2="214.3" y2="471.9" stroke="#15151a" stroke-width="0.7" />
<line x1="44.7" y1="359.6" x2="44.7" y2="414.9" stroke="#c04050" stroke-width="0.4" />
<path d="M238.2,424.4 C222,432 208,448 214.3,471.9 C225,477 235,479.2 243,478.4 C270,476 290.6,462 290.6,438 L290.6,415.5 Q262,433 238.2,424.4 Z" fill="url(#g8)" stroke="#15151a" stroke-width="0.7" stroke-linejoin="round" stroke-linecap="round" />
<path d="M238.2,424.4 Q262,433 290.6,415.5" fill="none" stroke="#15151a" stroke-width="0.6" stroke-linejoin="round" stroke-linecap="round" />
<path d="M236.4,97.5 A28,10.5 0 0 0 292.4,99.7" fill="none" stroke="#15151a" stroke-width="1.1" stroke-linejoin="round" stroke-linecap="round" />
<path d="M236.4,98.8 A28,10.5 0 0 0 292.4,101" fill="none" stroke="#e85a4c" stroke-width="0.6" stroke-linejoin="round" stroke-linecap="round" />
<path d="M236.4,105.7 A28,10.5 0 0 0 292.4,107.9" fill="none" stroke="#15151a" stroke-width="5.4" stroke-linejoin="round" stroke-linecap="round" />
<path d="M236.4,105.7 A28,10.5 0 0 0 292.4,107.9" fill="none" stroke="#d84a42" stroke-width="4.2" stroke-linejoin="round" stroke-linecap="round" />
<path d="M236.4,105.7 A28,10.5 0 0 0 292.4,107.9" fill="none" stroke="#7f9389" stroke-width="2.8" stroke-linejoin="round" stroke-linecap="round" />
<rect x="289.4" y="104.7" width="5.6" height="7.2" fill="#8e9a80" stroke="#15151a" stroke-width="0.5" rx="1.2"/>
<rect x="291" y="106.5" width="2.6" height="3.2" fill="#1f6a5a" />
<rect x="235.6" y="96.2" width="1.8" height="6" fill="#a8a888" stroke="#15151a" stroke-width="0.4" />
<path d="M290.8,92.7 Q294.8,97.7 291.2,103.7" fill="none" stroke="#15151a" stroke-width="2.2" stroke-linejoin="round" stroke-linecap="round" />
<path d="M290.8,92.7 Q294.8,97.7 291.2,103.7" fill="none" stroke="#f0583c" stroke-width="1.3" stroke-linejoin="round" stroke-linecap="round" />
<path d="M236.4,131.7 A28,10.5 0 0 0 292.4,133.9" fill="none" stroke="#15151a" stroke-width="1.1" stroke-linejoin="round" stroke-linecap="round" />
<path d="M236.4,133 A28,10.5 0 0 0 292.4,135.2" fill="none" stroke="#e85a4c" stroke-width="0.6" stroke-linejoin="round" stroke-linecap="round" />
<path d="M236.4,139.9 A28,10.5 0 0 0 292.4,142.1" fill="none" stroke="#15151a" stroke-width="5.4" stroke-linejoin="round" stroke-linecap="round" />
<path d="M236.4,139.9 A28,10.5 0 0 0 292.4,142.1" fill="none" stroke="#d84a42" stroke-width="4.2" stroke-linejoin="round" stroke-linecap="round" />
<path d="M236.4,139.9 A28,10.5 0 0 0 292.4,142.1" fill="none" stroke="#7f9389" stroke-width="2.8" stroke-linejoin="round" stroke-linecap="round" />
<rect x="289.4" y="138.9" width="5.6" height="7.2" fill="#8e9a80" stroke="#15151a" stroke-width="0.5" rx="1.2"/>
<rect x="291" y="140.7" width="2.6" height="3.2" fill="#1f6a5a" />
<rect x="235.6" y="130.4" width="1.8" height="6" fill="#a8a888" stroke="#15151a" stroke-width="0.4" />
<path d="M290.8,126.9 Q294.8,131.9 291.2,137.9" fill="none" stroke="#15151a" stroke-width="2.2" stroke-linejoin="round" stroke-linecap="round" />
<path d="M290.8,126.9 Q294.8,131.9 291.2,137.9" fill="none" stroke="#f0583c" stroke-width="1.3" stroke-linejoin="round" stroke-linecap="round" />
<path d="M236.4,313.8 A28,10.5 0 0 0 292.4,316" fill="none" stroke="#15151a" stroke-width="1.1" stroke-linejoin="round" stroke-linecap="round" />
<path d="M236.4,315.1 A28,10.5 0 0 0 292.4,317.3" fill="none" stroke="#e85a4c" stroke-width="0.6" stroke-linejoin="round" stroke-linecap="round" />
<path d="M236.4,322 A28,10.5 0 0 0 292.4,324.2" fill="none" stroke="#15151a" stroke-width="5.4" stroke-linejoin="round" stroke-linecap="round" />
<path d="M236.4,322 A28,10.5 0 0 0 292.4,324.2" fill="none" stroke="#d84a42" stroke-width="4.2" stroke-linejoin="round" stroke-linecap="round" />
<path d="M236.4,322 A28,10.5 0 0 0 292.4,324.2" fill="none" stroke="#7f9389" stroke-width="2.8" stroke-linejoin="round" stroke-linecap="round" />
<rect x="289.4" y="321" width="5.6" height="7.2" fill="#8e9a80" stroke="#15151a" stroke-width="0.5" rx="1.2"/>
<rect x="291" y="322.8" width="2.6" height="3.2" fill="#1f6a5a" />
<rect x="235.6" y="312.5" width="1.8" height="6" fill="#a8a888" stroke="#15151a" stroke-width="0.4" />
<path d="M290.8,309 Q294.8,314 291.2,320" fill="none" stroke="#15151a" stroke-width="2.2" stroke-linejoin="round" stroke-linecap="round" />
<path d="M290.8,309 Q294.8,314 291.2,320" fill="none" stroke="#f0583c" stroke-width="1.3" stroke-linejoin="round" stroke-linecap="round" />
<path d="M236.4,347.6 A28,10.5 0 0 0 292.4,349.8" fill="none" stroke="#15151a" stroke-width="1.1" stroke-linejoin="round" stroke-linecap="round" />
<path d="M236.4,348.9 A28,10.5 0 0 0 292.4,351.1" fill="none" stroke="#e85a4c" stroke-width="0.6" stroke-linejoin="round" stroke-linecap="round" />
<path d="M236.4,355.8 A28,10.5 0 0 0 292.4,358" fill="none" stroke="#15151a" stroke-width="5.4" stroke-linejoin="round" stroke-linecap="round" />
<path d="M236.4,355.8 A28,10.5 0 0 0 292.4,358" fill="none" stroke="#d84a42" stroke-width="4.2" stroke-linejoin="round" stroke-linecap="round" />
<path d="M236.4,355.8 A28,10.5 0 0 0 292.4,358" fill="none" stroke="#7f9389" stroke-width="2.8" stroke-linejoin="round" stroke-linecap="round" />
<rect x="289.4" y="354.8" width="5.6" height="7.2" fill="#8e9a80" stroke="#15151a" stroke-width="0.5" rx="1.2"/>
<rect x="291" y="356.6" width="2.6" height="3.2" fill="#1f6a5a" />
<rect x="235.6" y="346.3" width="1.8" height="6" fill="#a8a888" stroke="#15151a" stroke-width="0.4" />
<path d="M290.8,342.8 Q294.8,347.8 291.2,353.8" fill="none" stroke="#15151a" stroke-width="2.2" stroke-linejoin="round" stroke-linecap="round" />
<path d="M290.8,342.8 Q294.8,347.8 291.2,353.8" fill="none" stroke="#f0583c" stroke-width="1.3" stroke-linejoin="round" stroke-linecap="round" />
<path d="M348.8,137.6 A28.15,10.5 0 0 0 405.1,139.8" fill="none" stroke="#15151a" stroke-width="1.1" stroke-linejoin="round" stroke-linecap="round" />
<path d="M348.8,138.9 A28.15,10.5 0 0 0 405.1,141.1" fill="none" stroke="#d85858" stroke-width="0.6" stroke-linejoin="round" stroke-linecap="round" />
<path d="M348.8,145.8 A28.15,10.5 0 0 0 405.1,148" fill="none" stroke="#15151a" stroke-width="5.4" stroke-linejoin="round" stroke-linecap="round" />
<path d="M348.8,145.8 A28.15,10.5 0 0 0 405.1,148" fill="none" stroke="#e04c4c" stroke-width="4.2" stroke-linejoin="round" stroke-linecap="round" />
<path d="M348.8,145.8 A28.15,10.5 0 0 0 405.1,148" fill="none" stroke="#8a9a94" stroke-width="2.8" stroke-linejoin="round" stroke-linecap="round" />
<rect x="402.1" y="144.8" width="5.6" height="7.2" fill="#8e9a80" stroke="#15151a" stroke-width="0.5" rx="1.2"/>
<rect x="403.7" y="146.6" width="2.6" height="3.2" fill="#1f6a5a" />
<rect x="348" y="136.3" width="1.8" height="6" fill="#a8a888" stroke="#15151a" stroke-width="0.4" />
<path d="M403.5,132.8 Q407.5,137.8 403.9,143.8" fill="none" stroke="#15151a" stroke-width="2.2" stroke-linejoin="round" stroke-linecap="round" />
<path d="M403.5,132.8 Q407.5,137.8 403.9,143.8" fill="none" stroke="#f0583c" stroke-width="1.3" stroke-linejoin="round" stroke-linecap="round" />
<path d="M348.8,172.7 A28.15,10.5 0 0 0 405.1,174.9" fill="none" stroke="#15151a" stroke-width="1.1" stroke-linejoin="round" stroke-linecap="round" />
<path d="M348.8,174 A28.15,10.5 0 0 0 405.1,176.2" fill="none" stroke="#d85858" stroke-width="0.6" stroke-linejoin="round" stroke-linecap="round" />
<path d="M348.8,180.9 A28.15,10.5 0 0 0 405.1,183.1" fill="none" stroke="#15151a" stroke-width="5.4" stroke-linejoin="round" stroke-linecap="round" />
<path d="M348.8,180.9 A28.15,10.5 0 0 0 405.1,183.1" fill="none" stroke="#e04c4c" stroke-width="4.2" stroke-linejoin="round" stroke-linecap="round" />
<path d="M348.8,180.9 A28.15,10.5 0 0 0 405.1,183.1" fill="none" stroke="#8a9a94" stroke-width="2.8" stroke-linejoin="round" stroke-linecap="round" />
<rect x="402.1" y="179.9" width="5.6" height="7.2" fill="#8e9a80" stroke="#15151a" stroke-width="0.5" rx="1.2"/>
<rect x="403.7" y="181.7" width="2.6" height="3.2" fill="#1f6a5a" />
<rect x="348" y="171.4" width="1.8" height="6" fill="#a8a888" stroke="#15151a" stroke-width="0.4" />
<path d="M403.5,167.9 Q407.5,172.9 403.9,178.9" fill="none" stroke="#15151a" stroke-width="2.2" stroke-linejoin="round" stroke-linecap="round" />
<path d="M403.5,167.9 Q407.5,172.9 403.9,178.9" fill="none" stroke="#f0583c" stroke-width="1.3" stroke-linejoin="round" stroke-linecap="round" />
<path d="M348.8,353.3 A28.15,10.5 0 0 0 405.1,355.5" fill="none" stroke="#15151a" stroke-width="1.1" stroke-linejoin="round" stroke-linecap="round" />
<path d="M348.8,354.6 A28.15,10.5 0 0 0 405.1,356.8" fill="none" stroke="#d85858" stroke-width="0.6" stroke-linejoin="round" stroke-linecap="round" />
<path d="M348.8,361.5 A28.15,10.5 0 0 0 405.1,363.7" fill="none" stroke="#15151a" stroke-width="5.4" stroke-linejoin="round" stroke-linecap="round" />
<path d="M348.8,361.5 A28.15,10.5 0 0 0 405.1,363.7" fill="none" stroke="#e04c4c" stroke-width="4.2" stroke-linejoin="round" stroke-linecap="round" />
<path d="M348.8,361.5 A28.15,10.5 0 0 0 405.1,363.7" fill="none" stroke="#8a9a94" stroke-width="2.8" stroke-linejoin="round" stroke-linecap="round" />
<rect x="402.1" y="360.5" width="5.6" height="7.2" fill="#8e9a80" stroke="#15151a" stroke-width="0.5" rx="1.2"/>
<rect x="403.7" y="362.3" width="2.6" height="3.2" fill="#1f6a5a" />
<rect x="348" y="352" width="1.8" height="6" fill="#a8a888" stroke="#15151a" stroke-width="0.4" />
<path d="M403.5,348.5 Q407.5,353.5 403.9,359.5" fill="none" stroke="#15151a" stroke-width="2.2" stroke-linejoin="round" stroke-linecap="round" />
<path d="M403.5,348.5 Q407.5,353.5 403.9,359.5" fill="none" stroke="#f0583c" stroke-width="1.3" stroke-linejoin="round" stroke-linecap="round" />
<path d="M348.8,386.3 A28.15,10.5 0 0 0 405.1,388.5" fill="none" stroke="#15151a" stroke-width="1.1" stroke-linejoin="round" stroke-linecap="round" />
<path d="M348.8,387.6 A28.15,10.5 0 0 0 405.1,389.8" fill="none" stroke="#d85858" stroke-width="0.6" stroke-linejoin="round" stroke-linecap="round" />
<path d="M348.8,394.5 A28.15,10.5 0 0 0 405.1,396.7" fill="none" stroke="#15151a" stroke-width="5.4" stroke-linejoin="round" stroke-linecap="round" />
<path d="M348.8,394.5 A28.15,10.5 0 0 0 405.1,396.7" fill="none" stroke="#e04c4c" stroke-width="4.2" stroke-linejoin="round" stroke-linecap="round" />
<path d="M348.8,394.5 A28.15,10.5 0 0 0 405.1,396.7" fill="none" stroke="#8a9a94" stroke-width="2.8" stroke-linejoin="round" stroke-linecap="round" />
<rect x="402.1" y="393.5" width="5.6" height="7.2" fill="#8e9a80" stroke="#15151a" stroke-width="0.5" rx="1.2"/>
<rect x="403.7" y="395.3" width="2.6" height="3.2" fill="#1f6a5a" />
<rect x="348" y="385" width="1.8" height="6" fill="#a8a888" stroke="#15151a" stroke-width="0.4" />
<path d="M403.5,381.5 Q407.5,386.5 403.9,392.5" fill="none" stroke="#15151a" stroke-width="2.2" stroke-linejoin="round" stroke-linecap="round" />
<path d="M403.5,381.5 Q407.5,386.5 403.9,392.5" fill="none" stroke="#f0583c" stroke-width="1.3" stroke-linejoin="round" stroke-linecap="round" />
<polygon points="130.7,362.6 149.6,352.6 157.3,357.9 157.3,364.4 152,368.5 143.7,367.9" fill="#c9c59c" stroke="#15151a" stroke-width="0.5" stroke-linejoin="round" />
<ellipse cx="149.5" cy="358.6" rx="1.6" ry="1" fill="#666" stroke="#15151a" stroke-width="0.3" />
<line x1="118.2" y1="362.5" x2="118.2" y2="386" stroke="#15151a" stroke-width="4.6" />
<line x1="118.2" y1="362.5" x2="118.2" y2="386" stroke="#9fdcd4" stroke-width="3.2" />
<line x1="119.1" y1="362.5" x2="119.1" y2="386" stroke="#5aa8c8" stroke-width="1" />
<rect x="115.8" y="384.5" width="4.8" height="3.4" fill="#1fa090" stroke="#15151a" stroke-width="0.4" />
<line x1="148.4" y1="368.4" x2="148.4" y2="396" stroke="#15151a" stroke-width="4.6" />
<line x1="148.4" y1="368.4" x2="148.4" y2="396" stroke="#9fdcd4" stroke-width="3.2" />
<line x1="149.3" y1="368.4" x2="149.3" y2="396" stroke="#5aa8c8" stroke-width="1" />
<rect x="146" y="394.5" width="4.8" height="3.4" fill="#1fa090" stroke="#15151a" stroke-width="0.4" />
<path d="M102,378 A28.63,13.4 102 0 0 90.1,434" fill="none" stroke="#15151a" stroke-width="7.6" stroke-linejoin="round" stroke-linecap="round" />
<path d="M102,378 A28.63,13.4 102 0 0 90.1,434" fill="none" stroke="#8a3ab0" stroke-width="6.4" stroke-linejoin="round" stroke-linecap="round" />
<path d="M102,378 A28.63,13.4 102 0 0 90.1,434" fill="none" stroke="#b4b08c" stroke-width="4.4" stroke-linejoin="round" stroke-linecap="round" transform="translate(-0.9,0)"/>
<path d="M102,378 A28.63,13.4 102 0 0 90.1,434" fill="none" stroke="#4a4a3a" stroke-width="0.5" stroke-linejoin="round" stroke-linecap="round" transform="translate(0.6,0)"/>
<rect x="82.6" y="418" width="7" height="5" fill="#9aa088" stroke="#15151a" stroke-width="0.5" transform="rotate(20 85.6 420)"/>
<rect x="84.4" y="416.8" width="2.6" height="2.6" fill="#1fa090" />
<path d="M116.7,384.7 A27.88,13.4 102.22 0 0 104.9,439.2" fill="none" stroke="#15151a" stroke-width="7.6" stroke-linejoin="round" stroke-linecap="round" />
<path d="M116.7,384.7 A27.88,13.4 102.22 0 0 104.9,439.2" fill="none" stroke="#8a3ab0" stroke-width="6.4" stroke-linejoin="round" stroke-linecap="round" />
<path d="M116.7,384.7 A27.88,13.4 102.22 0 0 104.9,439.2" fill="none" stroke="#b4b08c" stroke-width="4.4" stroke-linejoin="round" stroke-linecap="round" transform="translate(-0.9,0)"/>
<path d="M116.7,384.7 A27.88,13.4 102.22 0 0 104.9,439.2" fill="none" stroke="#4a4a3a" stroke-width="0.5" stroke-linejoin="round" stroke-linecap="round" transform="translate(0.6,0)"/>
<rect x="97.4" y="423.2" width="7" height="5" fill="#9aa088" stroke="#15151a" stroke-width="0.5" transform="rotate(20 100.4 425.2)"/>
<rect x="99.2" y="422" width="2.6" height="2.6" fill="#1fa090" />
<path d="M130,388.3 A28.1,13.4 103.69 0 0 116.7,442.9" fill="none" stroke="#15151a" stroke-width="7.6" stroke-linejoin="round" stroke-linecap="round" />
<path d="M130,388.3 A28.1,13.4 103.69 0 0 116.7,442.9" fill="none" stroke="#8a3ab0" stroke-width="6.4" stroke-linejoin="round" stroke-linecap="round" />
<path d="M130,388.3 A28.1,13.4 103.69 0 0 116.7,442.9" fill="none" stroke="#b4b08c" stroke-width="4.4" stroke-linejoin="round" stroke-linecap="round" transform="translate(-0.9,0)"/>
<path d="M130,388.3 A28.1,13.4 103.69 0 0 116.7,442.9" fill="none" stroke="#4a4a3a" stroke-width="0.5" stroke-linejoin="round" stroke-linecap="round" transform="translate(0.6,0)"/>
<rect x="109.2" y="426.9" width="7" height="5" fill="#9aa088" stroke="#15151a" stroke-width="0.5" transform="rotate(20 112.2 428.9)"/>
<rect x="111" y="425.7" width="2.6" height="2.6" fill="#1fa090" />
<path d="M149.1,394.2 A29,13.4 104.68 0 0 134.4,450.3" fill="none" stroke="#15151a" stroke-width="7.6" stroke-linejoin="round" stroke-linecap="round" />
<path d="M149.1,394.2 A29,13.4 104.68 0 0 134.4,450.3" fill="none" stroke="#8a3ab0" stroke-width="6.4" stroke-linejoin="round" stroke-linecap="round" />
<path d="M149.1,394.2 A29,13.4 104.68 0 0 134.4,450.3" fill="none" stroke="#b4b08c" stroke-width="4.4" stroke-linejoin="round" stroke-linecap="round" transform="translate(-0.9,0)"/>
<path d="M149.1,394.2 A29,13.4 104.68 0 0 134.4,450.3" fill="none" stroke="#4a4a3a" stroke-width="0.5" stroke-linejoin="round" stroke-linecap="round" transform="translate(0.6,0)"/>
<rect x="126.9" y="434.3" width="7" height="5" fill="#9aa088" stroke="#15151a" stroke-width="0.5" transform="rotate(20 129.9 436.3)"/>
<rect x="128.7" y="433.1" width="2.6" height="2.6" fill="#1fa090" />
<line x1="99.7" y1="437" x2="99.7" y2="464" stroke="#15151a" stroke-width="3.6" />
<line x1="99.7" y1="437" x2="99.7" y2="464" stroke="#9fdcd4" stroke-width="2.4" />
<line x1="129.2" y1="446.6" x2="129.2" y2="473" stroke="#15151a" stroke-width="3.6" />
<line x1="129.2" y1="446.6" x2="129.2" y2="473" stroke="#9fdcd4" stroke-width="2.4" />
<polygon points="90.1,462.8 93.5,461 138.1,475.4 138.1,481.3 131.4,485 90.1,471" fill="#b9b58e" stroke="#15151a" stroke-width="0.5" stroke-linejoin="round" />
<polygon points="97,466.3 107,469.5 107,472 97,468.8" fill="#e0504a" />
<polygon points="116,472.3 127,475.8 127,478.3 116,474.8" fill="#e0504a" />
<ellipse cx="107.5" cy="479.5" rx="1.8" ry="1" fill="#666" stroke="#15151a" stroke-width="0.3" />
<polyline points="408,50 408,117.5" fill="none" stroke="#15151a" stroke-width="5.8" stroke-linejoin="round" stroke-linecap="round" />
<polyline points="408,50 408,117.5" fill="none" stroke="#4a78aa" stroke-width="4.6" stroke-linejoin="round" stroke-linecap="round" />
<polyline points="409,50 409,117.5" fill="none" stroke="#2a5a90" stroke-width="1" stroke-linejoin="round" stroke-linecap="round" />
<polyline points="409.5,117.8 452,98" fill="none" stroke="#15151a" stroke-width="4.8" stroke-linejoin="round" stroke-linecap="round" />
<polyline points="409.5,117.8 452,98" fill="none" stroke="#4a78aa" stroke-width="3.6" stroke-linejoin="round" stroke-linecap="round" />
<polyline points="410.5,117.8 453,98" fill="none" stroke="#1f7a7a" stroke-width="1" stroke-linejoin="round" stroke-linecap="round" />
<polyline points="452.6,97 452.6,500" fill="none" stroke="#15151a" stroke-width="5.8" stroke-linejoin="round" stroke-linecap="round" />
<polyline points="452.6,97 452.6,500" fill="none" stroke="#4a78aa" stroke-width="4.6" stroke-linejoin="round" stroke-linecap="round" />
<polyline points="453.6,97 453.6,500" fill="none" stroke="#1f7080" stroke-width="1" stroke-linejoin="round" stroke-linecap="round" />
<ellipse cx="452.6" cy="97.2" rx="3" ry="3" fill="#4a78aa" stroke="#15151a" stroke-width="0.5" />
<ellipse cx="408.2" cy="118" rx="3" ry="3" fill="#4a78aa" stroke="#15151a" stroke-width="0.5" />
<polyline points="445.4,50 445.4,128 448.5,132.5 470,121.5" fill="none" stroke="#15151a" stroke-width="5.8" stroke-linejoin="round" stroke-linecap="round" />
<polyline points="445.4,50 445.4,128 448.5,132.5 470,121.5" fill="none" stroke="#f0525a" stroke-width="4.6" stroke-linejoin="round" stroke-linecap="round" />
<polyline points="446.4,50 446.4,128 449.5,132.5 471,121.5" fill="none" stroke="#a03a98" stroke-width="1" stroke-linejoin="round" stroke-linecap="round" />
</g>
<g clip-path="url(#c9)">
<polygon points="746.3,538.8 852.8,538.8 1166,644.66 1166,649.16 1152.5,649.6 1153.5,662.29 1165.5,660.11 1165.5,665.11 1152,667.81" fill="#75767b" stroke="#15151a" stroke-width="1.3" stroke-linejoin="round" />
<line x1="840.97" y1="538.8" x2="1152.5" y2="644.1" stroke="#1a1a22" stroke-width="1" />
<line x1="824.69" y1="538.8" x2="1152.5" y2="649.6" stroke="#8c8d92" stroke-width="0.6" />
<line x1="811.38" y1="538.8" x2="1152.5" y2="654.1" stroke="#1a1a22" stroke-width="0.9" />
<line x1="771.44" y1="538.8" x2="1152.5" y2="667.6" stroke="#45464e" stroke-width="0.6" />
<line x1="900" y1="561.25" x2="1150" y2="645.75" stroke="#3e3f48" stroke-width="1.4" stroke-dasharray="30 3"/>
<line x1="509.1" y1="538.8" x2="652.2" y2="770.2" stroke="#15151a" stroke-width="7.2" />
<line x1="509.1" y1="538.8" x2="652.2" y2="770.2" stroke="#707176" stroke-width="4.2" />
<line x1="671.5" y1="545.6" x2="466" y2="743.6" stroke="#15151a" stroke-width="7.2" />
<line x1="671.5" y1="545.6" x2="466" y2="743.6" stroke="#707176" stroke-width="4.2" />
<polygon points="978.3,609 1134.5,659.5 1134.5,697.3 978.3,645.4" fill="#74757a" />
<line x1="978.3" y1="645.4" x2="1134.5" y2="697.3" stroke="#15151a" stroke-width="1.1" />
<line x1="978.3" y1="619.5" x2="1134.5" y2="671.4" stroke="#3a3b44" stroke-width="0.7" />
<line x1="978.3" y1="623" x2="1134.5" y2="675" stroke="#8a8b90" stroke-width="0.5" />
<polygon points="978.3,728 1134.5,778.7 1134.5,802.5 978.3,748" fill="#74757a" stroke="#15151a" stroke-width="1" stroke-linejoin="round" />
<line x1="978.3" y1="731.5" x2="1134.5" y2="782.3" stroke="#8a8b90" stroke-width="0.5" />
<polygon points="249.84,536.8 262.8,536.8 262.8,764.5 250.84,760.5" fill="#73747a" stroke="#15151a" stroke-width="1.8" stroke-linejoin="round" />
<polygon points="230.6,536.8 249.84,536.8 249.84,772.5 230.6,766.5" fill="#77787c" stroke="#15151a" stroke-width="1.9" stroke-linejoin="round" />
<polygon points="371.86,536.8 384.9,536.8 384.9,810.5 372.86,806.5" fill="#73747a" stroke="#15151a" stroke-width="1.8" stroke-linejoin="round" />
<polygon points="352.5,536.8 371.86,536.8 371.86,818 352.5,812" fill="#77787c" stroke="#15151a" stroke-width="1.9" stroke-linejoin="round" />
<polygon points="465.7,536.8 478.5,536.8 478.5,844 466.7,840" fill="#73747a" stroke="#15151a" stroke-width="1.8" stroke-linejoin="round" />
<polygon points="446.7,536.8 465.7,536.8 465.7,851.8 446.7,845.8" fill="#77787c" stroke="#15151a" stroke-width="1.9" stroke-linejoin="round" />
<polygon points="691.26,536.8 704.1,536.8 704.1,921.5 692.26,917.5" fill="#73747a" stroke="#15151a" stroke-width="1.8" stroke-linejoin="round" />
<polygon points="672.2,536.8 691.26,536.8 691.26,928.3 672.2,922.3" fill="#77787c" stroke="#15151a" stroke-width="1.9" stroke-linejoin="round" />
<polygon points="822.78,562.69 835.3,562.69 835.3,967.5 823.78,963.5" fill="#73747a" stroke="#15151a" stroke-width="1.8" stroke-linejoin="round" />
<polygon points="804.2,556.15 822.78,556.15 822.78,974.3 804.2,968.3" fill="#77787c" stroke="#15151a" stroke-width="1.9" stroke-linejoin="round" />
<polygon points="977.64,611 990.6,611 990.6,1000 978.64,996" fill="#73747a" stroke="#15151a" stroke-width="1.8" stroke-linejoin="round" />
<polygon points="958.4,608.5 977.64,608.5 977.64,1000 958.4,994" fill="#77787c" stroke="#15151a" stroke-width="1.9" stroke-linejoin="round" />
<polygon points="1152.12,667.5 1164.2,667.5 1164.2,1000 1153.12,996" fill="#73747a" stroke="#15151a" stroke-width="1.8" stroke-linejoin="round" />
<polygon points="1134.2,663.5 1152.12,663.5 1152.12,1000 1134.2,994" fill="#77787c" stroke="#15151a" stroke-width="1.9" stroke-linejoin="round" />
<polygon points="204.6,518.6 230.4,503.5 249.3,508 249.3,512.1 222.1,525.9" fill="#6f7075" stroke="#15151a" stroke-width="1.6" stroke-linejoin="round" />
<polyline points="210.4,518.8 233.4,506.3" fill="none" stroke="#55565e" stroke-width="0.4" stroke-linejoin="round" stroke-linecap="round" />
<polyline points="213.9,520.5 237.4,507.7" fill="none" stroke="#8a8b90" stroke-width="0.4" stroke-linejoin="round" stroke-linecap="round" />
<polygon points="204.6,518.6 222.1,525.9 222.1,527.7 204.8,520.3" fill="#2a2a32" />
<polygon points="222.1,525.9 249.3,512.1 249.3,513.9 222.1,527.7" fill="#3a3b48" />
<polygon points="239.4,519 249.3,513.9 249.3,529.7 239.4,525.3" fill="#74757a" />
<polygon points="214.2,524.3 222.1,527.7 239.4,519 239.4,526.9 214.2,539.3" fill="#5a5b70" stroke="#15151a" stroke-width="0.8" stroke-linejoin="round" />
<polygon points="212.8,523.7 214.2,524.3 214.2,539.7 212.8,539.5" fill="#2a2a32" />
<polygon points="204.6,535.9 212.8,531.4 212.8,539.5" fill="#6f7075" stroke="#15151a" stroke-width="1.5" stroke-linejoin="round" />
<polygon points="214.2,539.3 239.4,526.9 249.3,529.7 222.1,542.1" fill="#6f7075" stroke="#15151a" stroke-width="1.4" stroke-linejoin="round" />
<polygon points="204.6,535.9 222.1,542.1 249.3,529.7 249.3,531.3 222.1,543.9 204.8,537.5" fill="#1e1e26" />
<polygon points="204.6,602.1 230.4,587 249.3,591.5 249.3,595.6 222.1,609.4" fill="#6f7075" stroke="#15151a" stroke-width="1.6" stroke-linejoin="round" />
<polyline points="210.4,602.3 233.4,589.8" fill="none" stroke="#55565e" stroke-width="0.4" stroke-linejoin="round" stroke-linecap="round" />
<polyline points="213.9,604 237.4,591.2" fill="none" stroke="#8a8b90" stroke-width="0.4" stroke-linejoin="round" stroke-linecap="round" />
<polygon points="204.6,602.1 222.1,609.4 222.1,611.2 204.8,603.8" fill="#2a2a32" />
<polygon points="222.1,609.4 249.3,595.6 249.3,597.4 222.1,611.2" fill="#3a3b48" />
<polygon points="239.4,602.5 249.3,597.4 249.3,613.2 239.4,608.8" fill="#74757a" />
<polygon points="214.2,607.8 222.1,611.2 239.4,602.5 239.4,610.4 214.2,622.8" fill="#5a5b70" stroke="#15151a" stroke-width="0.8" stroke-linejoin="round" />
<polygon points="212.8,607.2 214.2,607.8 214.2,623.2 212.8,623" fill="#2a2a32" />
<polygon points="204.6,619.4 212.8,614.9 212.8,623" fill="#6f7075" stroke="#15151a" stroke-width="1.5" stroke-linejoin="round" />
<polygon points="214.2,622.8 239.4,610.4 249.3,613.2 222.1,625.6" fill="#6f7075" stroke="#15151a" stroke-width="1.4" stroke-linejoin="round" />
<polygon points="204.6,619.4 222.1,625.6 249.3,613.2 249.3,614.8 222.1,627.4 204.8,621" fill="#1e1e26" />
<polygon points="204.6,626.1 230.4,611 249.3,615.5 249.3,619.6 222.1,633.4" fill="#6f7075" stroke="#15151a" stroke-width="1.6" stroke-linejoin="round" />
<polyline points="210.4,626.3 233.4,613.8" fill="none" stroke="#55565e" stroke-width="0.4" stroke-linejoin="round" stroke-linecap="round" />
<polyline points="213.9,628 237.4,615.2" fill="none" stroke="#8a8b90" stroke-width="0.4" stroke-linejoin="round" stroke-linecap="round" />
<polygon points="204.6,626.1 222.1,633.4 222.1,635.2 204.8,627.8" fill="#2a2a32" />
<polygon points="222.1,633.4 249.3,619.6 249.3,621.4 222.1,635.2" fill="#3a3b48" />
<polygon points="239.4,626.5 249.3,621.4 249.3,637.2 239.4,632.8" fill="#74757a" />
<polygon points="214.2,631.8 222.1,635.2 239.4,626.5 239.4,634.4 214.2,646.8" fill="#5a5b70" stroke="#15151a" stroke-width="0.8" stroke-linejoin="round" />
<polygon points="212.8,631.2 214.2,631.8 214.2,647.2 212.8,647" fill="#2a2a32" />
<polygon points="204.6,643.4 212.8,638.9 212.8,647" fill="#6f7075" stroke="#15151a" stroke-width="1.5" stroke-linejoin="round" />
<polygon points="214.2,646.8 239.4,634.4 249.3,637.2 222.1,649.6" fill="#6f7075" stroke="#15151a" stroke-width="1.4" stroke-linejoin="round" />
<polygon points="204.6,643.4 222.1,649.6 249.3,637.2 249.3,638.8 222.1,651.4 204.8,645" fill="#1e1e26" />
<polygon points="204.6,709.6 230.4,694.5 249.3,699 249.3,703.1 222.1,716.9" fill="#6f7075" stroke="#15151a" stroke-width="1.6" stroke-linejoin="round" />
<polyline points="210.4,709.8 233.4,697.3" fill="none" stroke="#55565e" stroke-width="0.4" stroke-linejoin="round" stroke-linecap="round" />
<polyline points="213.9,711.5 237.4,698.7" fill="none" stroke="#8a8b90" stroke-width="0.4" stroke-linejoin="round" stroke-linecap="round" />
<polygon points="204.6,709.6 222.1,716.9 222.1,718.7 204.8,711.3" fill="#2a2a32" />
<polygon points="222.1,716.9 249.3,703.1 249.3,704.9 222.1,718.7" fill="#3a3b48" />
<polygon points="239.4,710 249.3,704.9 249.3,720.7 239.4,716.3" fill="#74757a" />
<polygon points="214.2,715.3 222.1,718.7 239.4,710 239.4,717.9 214.2,730.3" fill="#5a5b70" stroke="#15151a" stroke-width="0.8" stroke-linejoin="round" />
<polygon points="212.8,714.7 214.2,715.3 214.2,730.7 212.8,730.5" fill="#2a2a32" />
<polygon points="204.6,726.9 212.8,722.4 212.8,730.5" fill="#6f7075" stroke="#15151a" stroke-width="1.5" stroke-linejoin="round" />
<polygon points="214.2,730.3 239.4,717.9 249.3,720.7 222.1,733.1" fill="#6f7075" stroke="#15151a" stroke-width="1.4" stroke-linejoin="round" />
<polygon points="204.6,726.9 222.1,733.1 249.3,720.7 249.3,722.3 222.1,734.9 204.8,728.5" fill="#1e1e26" />
<polygon points="326.5,560.74 352.3,545.64 371.2,550.14 371.2,554.24 344,568.04" fill="#6f7075" stroke="#15151a" stroke-width="1.6" stroke-linejoin="round" />
<polyline points="332.3,560.94 355.3,548.44" fill="none" stroke="#55565e" stroke-width="0.4" stroke-linejoin="round" stroke-linecap="round" />
<polyline points="335.8,562.64 359.3,549.84" fill="none" stroke="#8a8b90" stroke-width="0.4" stroke-linejoin="round" stroke-linecap="round" />
<polygon points="326.5,560.74 344,568.04 344,569.84 326.7,562.44" fill="#2a2a32" />
<polygon points="344,568.04 371.2,554.24 371.2,556.04 344,569.84" fill="#3a3b48" />
<polygon points="361.3,561.14 371.2,556.04 371.2,571.84 361.3,567.44" fill="#74757a" />
<polygon points="336.1,566.44 344,569.84 361.3,561.14 361.3,569.04 336.1,581.44" fill="#5a5b70" stroke="#15151a" stroke-width="0.8" stroke-linejoin="round" />
<polygon points="334.7,565.84 336.1,566.44 336.1,581.84 334.7,581.64" fill="#2a2a32" />
<polygon points="326.5,578.04 334.7,573.54 334.7,581.64" fill="#6f7075" stroke="#15151a" stroke-width="1.5" stroke-linejoin="round" />
<polygon points="336.1,581.44 361.3,569.04 371.2,571.84 344,584.24" fill="#6f7075" stroke="#15151a" stroke-width="1.4" stroke-linejoin="round" />
<polygon points="326.5,578.04 344,584.24 371.2,571.84 371.2,573.44 344,586.04 326.7,579.64" fill="#1e1e26" />
<polygon points="326.5,642.71 352.3,627.61 371.2,632.11 371.2,636.21 344,650.01" fill="#6f7075" stroke="#15151a" stroke-width="1.6" stroke-linejoin="round" />
<polyline points="332.3,642.91 355.3,630.41" fill="none" stroke="#55565e" stroke-width="0.4" stroke-linejoin="round" stroke-linecap="round" />
<polyline points="335.8,644.61 359.3,631.81" fill="none" stroke="#8a8b90" stroke-width="0.4" stroke-linejoin="round" stroke-linecap="round" />
<polygon points="326.5,642.71 344,650.01 344,651.81 326.7,644.41" fill="#2a2a32" />
<polygon points="344,650.01 371.2,636.21 371.2,638.01 344,651.81" fill="#3a3b48" />
<polygon points="361.3,643.11 371.2,638.01 371.2,653.81 361.3,649.41" fill="#74757a" />
<polygon points="336.1,648.41 344,651.81 361.3,643.11 361.3,651.01 336.1,663.41" fill="#5a5b70" stroke="#15151a" stroke-width="0.8" stroke-linejoin="round" />
<polygon points="334.7,647.81 336.1,648.41 336.1,663.81 334.7,663.61" fill="#2a2a32" />
<polygon points="326.5,660.01 334.7,655.51 334.7,663.61" fill="#6f7075" stroke="#15151a" stroke-width="1.5" stroke-linejoin="round" />
<polygon points="336.1,663.41 361.3,651.01 371.2,653.81 344,666.21" fill="#6f7075" stroke="#15151a" stroke-width="1.4" stroke-linejoin="round" />
<polygon points="326.5,660.01 344,666.21 371.2,653.81 371.2,655.41 344,668.01 326.7,661.61" fill="#1e1e26" />
<polygon points="326.5,668.17 352.3,653.07 371.2,657.57 371.2,661.67 344,675.47" fill="#6f7075" stroke="#15151a" stroke-width="1.6" stroke-linejoin="round" />
<polyline points="332.3,668.37 355.3,655.87" fill="none" stroke="#55565e" stroke-width="0.4" stroke-linejoin="round" stroke-linecap="round" />
<polyline points="335.8,670.07 359.3,657.27" fill="none" stroke="#8a8b90" stroke-width="0.4" stroke-linejoin="round" stroke-linecap="round" />
<polygon points="326.5,668.17 344,675.47 344,677.27 326.7,669.87" fill="#2a2a32" />
<polygon points="344,675.47 371.2,661.67 371.2,663.47 344,677.27" fill="#3a3b48" />
<polygon points="361.3,668.57 371.2,663.47 371.2,679.27 361.3,674.87" fill="#74757a" />
<polygon points="336.1,673.87 344,677.27 361.3,668.57 361.3,676.47 336.1,688.87" fill="#5a5b70" stroke="#15151a" stroke-width="0.8" stroke-linejoin="round" />
<polygon points="334.7,673.27 336.1,673.87 336.1,689.27 334.7,689.07" fill="#2a2a32" />
<polygon points="326.5,685.47 334.7,680.97 334.7,689.07" fill="#6f7075" stroke="#15151a" stroke-width="1.5" stroke-linejoin="round" />
<polygon points="336.1,688.87 361.3,676.47 371.2,679.27 344,691.67" fill="#6f7075" stroke="#15151a" stroke-width="1.4" stroke-linejoin="round" />
<polygon points="326.5,685.47 344,691.67 371.2,679.27 371.2,680.87 344,693.47 326.7,687.07" fill="#1e1e26" />
<polygon points="326.5,748.4 352.3,733.3 371.2,737.8 371.2,741.9 344,755.7" fill="#6f7075" stroke="#15151a" stroke-width="1.6" stroke-linejoin="round" />
<polyline points="332.3,748.6 355.3,736.1" fill="none" stroke="#55565e" stroke-width="0.4" stroke-linejoin="round" stroke-linecap="round" />
<polyline points="335.8,750.3 359.3,737.5" fill="none" stroke="#8a8b90" stroke-width="0.4" stroke-linejoin="round" stroke-linecap="round" />
<polygon points="326.5,748.4 344,755.7 344,757.5 326.7,750.1" fill="#2a2a32" />
<polygon points="344,755.7 371.2,741.9 371.2,743.7 344,757.5" fill="#3a3b48" />
<polygon points="361.3,748.8 371.2,743.7 371.2,759.5 361.3,755.1" fill="#74757a" />
<polygon points="336.1,754.1 344,757.5 361.3,748.8 361.3,756.7 336.1,769.1" fill="#5a5b70" stroke="#15151a" stroke-width="0.8" stroke-linejoin="round" />
<polygon points="334.7,753.5 336.1,754.1 336.1,769.5 334.7,769.3" fill="#2a2a32" />
<polygon points="326.5,765.7 334.7,761.2 334.7,769.3" fill="#6f7075" stroke="#15151a" stroke-width="1.5" stroke-linejoin="round" />
<polygon points="336.1,769.1 361.3,756.7 371.2,759.5 344,771.9" fill="#6f7075" stroke="#15151a" stroke-width="1.4" stroke-linejoin="round" />
<polygon points="326.5,765.7 344,771.9 371.2,759.5 371.2,761.1 344,773.7 326.7,767.3" fill="#1e1e26" />
<polygon points="420.7,592.91 446.5,577.81 465.4,582.31 465.4,586.41 438.2,600.21" fill="#6f7075" stroke="#15151a" stroke-width="1.6" stroke-linejoin="round" />
<polyline points="426.5,593.11 449.5,580.61" fill="none" stroke="#55565e" stroke-width="0.4" stroke-linejoin="round" stroke-linecap="round" />
<polyline points="430,594.81 453.5,582.01" fill="none" stroke="#8a8b90" stroke-width="0.4" stroke-linejoin="round" stroke-linecap="round" />
<polygon points="420.7,592.91 438.2,600.21 438.2,602.01 420.9,594.61" fill="#2a2a32" />
<polygon points="438.2,600.21 465.4,586.41 465.4,588.21 438.2,602.01" fill="#3a3b48" />
<polygon points="455.5,593.31 465.4,588.21 465.4,604.01 455.5,599.61" fill="#74757a" />
<polygon points="430.3,598.61 438.2,602.01 455.5,593.31 455.5,601.21 430.3,613.61" fill="#5a5b70" stroke="#15151a" stroke-width="0.8" stroke-linejoin="round" />
<polygon points="428.9,598.01 430.3,598.61 430.3,614.01 428.9,613.81" fill="#2a2a32" />
<polygon points="420.7,610.21 428.9,605.71 428.9,613.81" fill="#6f7075" stroke="#15151a" stroke-width="1.5" stroke-linejoin="round" />
<polygon points="430.3,613.61 455.5,601.21 465.4,604.01 438.2,616.41" fill="#6f7075" stroke="#15151a" stroke-width="1.4" stroke-linejoin="round" />
<polygon points="420.7,610.21 438.2,616.41 465.4,604.01 465.4,605.61 438.2,618.21 420.9,611.81" fill="#1e1e26" />
<polygon points="420.7,674.97 446.5,659.87 465.4,664.37 465.4,668.47 438.2,682.27" fill="#6f7075" stroke="#15151a" stroke-width="1.6" stroke-linejoin="round" />
<polyline points="426.5,675.17 449.5,662.67" fill="none" stroke="#55565e" stroke-width="0.4" stroke-linejoin="round" stroke-linecap="round" />
<polyline points="430,676.87 453.5,664.07" fill="none" stroke="#8a8b90" stroke-width="0.4" stroke-linejoin="round" stroke-linecap="round" />
<polygon points="420.7,674.97 438.2,682.27 438.2,684.07 420.9,676.67" fill="#2a2a32" />
<polygon points="438.2,682.27 465.4,668.47 465.4,670.27 438.2,684.07" fill="#3a3b48" />
<polygon points="455.5,675.37 465.4,670.27 465.4,686.07 455.5,681.67" fill="#74757a" />
<polygon points="430.3,680.67 438.2,684.07 455.5,675.37 455.5,683.27 430.3,695.67" fill="#5a5b70" stroke="#15151a" stroke-width="0.8" stroke-linejoin="round" />
<polygon points="428.9,680.07 430.3,680.67 430.3,696.07 428.9,695.87" fill="#2a2a32" />
<polygon points="420.7,692.27 428.9,687.77 428.9,695.87" fill="#6f7075" stroke="#15151a" stroke-width="1.5" stroke-linejoin="round" />
<polygon points="430.3,695.67 455.5,683.27 465.4,686.07 438.2,698.47" fill="#6f7075" stroke="#15151a" stroke-width="1.4" stroke-linejoin="round" />
<polygon points="420.7,692.27 438.2,698.47 465.4,686.07 465.4,687.67 438.2,700.27 420.9,693.87" fill="#1e1e26" />
<polygon points="420.7,700.26 446.5,685.16 465.4,689.66 465.4,693.76 438.2,707.56" fill="#6f7075" stroke="#15151a" stroke-width="1.6" stroke-linejoin="round" />
<polyline points="426.5,700.46 449.5,687.96" fill="none" stroke="#55565e" stroke-width="0.4" stroke-linejoin="round" stroke-linecap="round" />
<polyline points="430,702.16 453.5,689.36" fill="none" stroke="#8a8b90" stroke-width="0.4" stroke-linejoin="round" stroke-linecap="round" />
<polygon points="420.7,700.26 438.2,707.56 438.2,709.36 420.9,701.96" fill="#2a2a32" />
<polygon points="438.2,707.56 465.4,693.76 465.4,695.56 438.2,709.36" fill="#3a3b48" />
<polygon points="455.5,700.66 465.4,695.56 465.4,711.36 455.5,706.96" fill="#74757a" />
<polygon points="430.3,705.96 438.2,709.36 455.5,700.66 455.5,708.56 430.3,720.96" fill="#5a5b70" stroke="#15151a" stroke-width="0.8" stroke-linejoin="round" />
<polygon points="428.9,705.36 430.3,705.96 430.3,721.36 428.9,721.16" fill="#2a2a32" />
<polygon points="420.7,717.56 428.9,713.06 428.9,721.16" fill="#6f7075" stroke="#15151a" stroke-width="1.5" stroke-linejoin="round" />
<polygon points="430.3,720.96 455.5,708.56 465.4,711.36 438.2,723.76" fill="#6f7075" stroke="#15151a" stroke-width="1.4" stroke-linejoin="round" />
<polygon points="420.7,717.56 438.2,723.76 465.4,711.36 465.4,712.96 438.2,725.56 420.9,719.16" fill="#1e1e26" />
<polygon points="420.7,780.57 446.5,765.47 465.4,769.97 465.4,774.07 438.2,787.87" fill="#6f7075" stroke="#15151a" stroke-width="1.6" stroke-linejoin="round" />
<polyline points="426.5,780.77 449.5,768.27" fill="none" stroke="#55565e" stroke-width="0.4" stroke-linejoin="round" stroke-linecap="round" />
<polyline points="430,782.47 453.5,769.67" fill="none" stroke="#8a8b90" stroke-width="0.4" stroke-linejoin="round" stroke-linecap="round" />
<polygon points="420.7,780.57 438.2,787.87 438.2,789.67 420.9,782.27" fill="#2a2a32" />
<polygon points="438.2,787.87 465.4,774.07 465.4,775.87 438.2,789.67" fill="#3a3b48" />
<polygon points="455.5,780.97 465.4,775.87 465.4,791.67 455.5,787.27" fill="#74757a" />
<polygon points="430.3,786.27 438.2,789.67 455.5,780.97 455.5,788.87 430.3,801.27" fill="#5a5b70" stroke="#15151a" stroke-width="0.8" stroke-linejoin="round" />
<polygon points="428.9,785.67 430.3,786.27 430.3,801.67 428.9,801.47" fill="#2a2a32" />
<polygon points="420.7,797.87 428.9,793.37 428.9,801.47" fill="#6f7075" stroke="#15151a" stroke-width="1.5" stroke-linejoin="round" />
<polygon points="430.3,801.27 455.5,788.87 465.4,791.67 438.2,804.07" fill="#6f7075" stroke="#15151a" stroke-width="1.4" stroke-linejoin="round" />
<polygon points="420.7,797.87 438.2,804.07 465.4,791.67 465.4,793.27 438.2,805.87 420.9,799.47" fill="#1e1e26" />
<polygon points="646.2,669.91 672,654.81 690.9,659.31 690.9,663.41 663.7,677.21" fill="#6f7075" stroke="#15151a" stroke-width="1.6" stroke-linejoin="round" />
<polyline points="652,670.11 675,657.61" fill="none" stroke="#55565e" stroke-width="0.4" stroke-linejoin="round" stroke-linecap="round" />
<polyline points="655.5,671.81 679,659.01" fill="none" stroke="#8a8b90" stroke-width="0.4" stroke-linejoin="round" stroke-linecap="round" />
<polygon points="646.2,669.91 663.7,677.21 663.7,679.01 646.4,671.61" fill="#2a2a32" />
<polygon points="663.7,677.21 690.9,663.41 690.9,665.21 663.7,679.01" fill="#3a3b48" />
<polygon points="681,670.31 690.9,665.21 690.9,681.01 681,676.61" fill="#74757a" />
<polygon points="655.8,675.61 663.7,679.01 681,670.31 681,678.21 655.8,690.61" fill="#5a5b70" stroke="#15151a" stroke-width="0.8" stroke-linejoin="round" />
<polygon points="654.4,675.01 655.8,675.61 655.8,691.01 654.4,690.81" fill="#2a2a32" />
<polygon points="646.2,687.21 654.4,682.71 654.4,690.81" fill="#6f7075" stroke="#15151a" stroke-width="1.5" stroke-linejoin="round" />
<polygon points="655.8,690.61 681,678.21 690.9,681.01 663.7,693.41" fill="#6f7075" stroke="#15151a" stroke-width="1.4" stroke-linejoin="round" />
<polygon points="646.2,687.21 663.7,693.41 690.9,681.01 690.9,682.61 663.7,695.21 646.4,688.81" fill="#1e1e26" />
<polygon points="646.2,752.21 672,737.11 690.9,741.61 690.9,745.71 663.7,759.51" fill="#6f7075" stroke="#15151a" stroke-width="1.6" stroke-linejoin="round" />
<polyline points="652,752.41 675,739.91" fill="none" stroke="#55565e" stroke-width="0.4" stroke-linejoin="round" stroke-linecap="round" />
<polyline points="655.5,754.11 679,741.31" fill="none" stroke="#8a8b90" stroke-width="0.4" stroke-linejoin="round" stroke-linecap="round" />
<polygon points="646.2,752.21 663.7,759.51 663.7,761.31 646.4,753.91" fill="#2a2a32" />
<polygon points="663.7,759.51 690.9,745.71 690.9,747.51 663.7,761.31" fill="#3a3b48" />
<polygon points="681,752.61 690.9,747.51 690.9,763.31 681,758.91" fill="#74757a" />
<polygon points="655.8,757.91 663.7,761.31 681,752.61 681,760.51 655.8,772.91" fill="#5a5b70" stroke="#15151a" stroke-width="0.8" stroke-linejoin="round" />
<polygon points="654.4,757.31 655.8,757.91 655.8,773.31 654.4,773.11" fill="#2a2a32" />
<polygon points="646.2,769.51 654.4,765.01 654.4,773.11" fill="#6f7075" stroke="#15151a" stroke-width="1.5" stroke-linejoin="round" />
<polygon points="655.8,772.91 681,760.51 690.9,763.31 663.7,775.71" fill="#6f7075" stroke="#15151a" stroke-width="1.4" stroke-linejoin="round" />
<polygon points="646.2,769.51 663.7,775.71 690.9,763.31 690.9,764.91 663.7,777.51 646.4,771.11" fill="#1e1e26" />
<polygon points="646.2,777.08 672,761.98 690.9,766.48 690.9,770.58 663.7,784.38" fill="#6f7075" stroke="#15151a" stroke-width="1.6" stroke-linejoin="round" />
<polyline points="652,777.28 675,764.78" fill="none" stroke="#55565e" stroke-width="0.4" stroke-linejoin="round" stroke-linecap="round" />
<polyline points="655.5,778.98 679,766.18" fill="none" stroke="#8a8b90" stroke-width="0.4" stroke-linejoin="round" stroke-linecap="round" />
<polygon points="646.2,777.08 663.7,784.38 663.7,786.18 646.4,778.78" fill="#2a2a32" />
<polygon points="663.7,784.38 690.9,770.58 690.9,772.38 663.7,786.18" fill="#3a3b48" />
<polygon points="681,777.48 690.9,772.38 690.9,788.18 681,783.78" fill="#74757a" />
<polygon points="655.8,782.78 663.7,786.18 681,777.48 681,785.38 655.8,797.78" fill="#5a5b70" stroke="#15151a" stroke-width="0.8" stroke-linejoin="round" />
<polygon points="654.4,782.18 655.8,782.78 655.8,798.18 654.4,797.98" fill="#2a2a32" />
<polygon points="646.2,794.38 654.4,789.88 654.4,797.98" fill="#6f7075" stroke="#15151a" stroke-width="1.5" stroke-linejoin="round" />
<polygon points="655.8,797.78 681,785.38 690.9,788.18 663.7,800.58" fill="#6f7075" stroke="#15151a" stroke-width="1.4" stroke-linejoin="round" />
<polygon points="646.2,794.38 663.7,800.58 690.9,788.18 690.9,789.78 663.7,802.38 646.4,795.98" fill="#1e1e26" />
<polygon points="646.2,857.59 672,842.49 690.9,846.99 690.9,851.09 663.7,864.89" fill="#6f7075" stroke="#15151a" stroke-width="1.6" stroke-linejoin="round" />
<polyline points="652,857.79 675,845.29" fill="none" stroke="#55565e" stroke-width="0.4" stroke-linejoin="round" stroke-linecap="round" />
<polyline points="655.5,859.49 679,846.69" fill="none" stroke="#8a8b90" stroke-width="0.4" stroke-linejoin="round" stroke-linecap="round" />
<polygon points="646.2,857.59 663.7,864.89 663.7,866.69 646.4,859.29" fill="#2a2a32" />
<polygon points="663.7,864.89 690.9,851.09 690.9,852.89 663.7,866.69" fill="#3a3b48" />
<polygon points="681,857.99 690.9,852.89 690.9,868.69 681,864.29" fill="#74757a" />
<polygon points="655.8,863.29 663.7,866.69 681,857.99 681,865.89 655.8,878.29" fill="#5a5b70" stroke="#15151a" stroke-width="0.8" stroke-linejoin="round" />
<polygon points="654.4,862.69 655.8,863.29 655.8,878.69 654.4,878.49" fill="#2a2a32" />
<polygon points="646.2,874.89 654.4,870.39 654.4,878.49" fill="#6f7075" stroke="#15151a" stroke-width="1.5" stroke-linejoin="round" />
<polygon points="655.8,878.29 681,865.89 690.9,868.69 663.7,881.09" fill="#6f7075" stroke="#15151a" stroke-width="1.4" stroke-linejoin="round" />
<polygon points="646.2,874.89 663.7,881.09 690.9,868.69 690.9,870.29 663.7,882.89 646.4,876.49" fill="#1e1e26" />
<polygon points="932.4,767.65 958.2,752.55 977.1,757.05 977.1,761.15 949.9,774.95" fill="#6f7075" stroke="#15151a" stroke-width="1.6" stroke-linejoin="round" />
<polyline points="938.2,767.85 961.2,755.35" fill="none" stroke="#55565e" stroke-width="0.4" stroke-linejoin="round" stroke-linecap="round" />
<polyline points="941.7,769.55 965.2,756.75" fill="none" stroke="#8a8b90" stroke-width="0.4" stroke-linejoin="round" stroke-linecap="round" />
<polygon points="932.4,767.65 949.9,774.95 949.9,776.75 932.6,769.35" fill="#2a2a32" />
<polygon points="949.9,774.95 977.1,761.15 977.1,762.95 949.9,776.75" fill="#3a3b48" />
<polygon points="967.2,768.05 977.1,762.95 977.1,778.75 967.2,774.35" fill="#74757a" />
<polygon points="942,773.35 949.9,776.75 967.2,768.05 967.2,775.95 942,788.35" fill="#5a5b70" stroke="#15151a" stroke-width="0.8" stroke-linejoin="round" />
<polygon points="940.6,772.75 942,773.35 942,788.75 940.6,788.55" fill="#2a2a32" />
<polygon points="932.4,784.95 940.6,780.45 940.6,788.55" fill="#6f7075" stroke="#15151a" stroke-width="1.5" stroke-linejoin="round" />
<polygon points="942,788.35 967.2,775.95 977.1,778.75 949.9,791.15" fill="#6f7075" stroke="#15151a" stroke-width="1.4" stroke-linejoin="round" />
<polygon points="932.4,784.95 949.9,791.15 977.1,778.75 977.1,780.35 949.9,792.95 932.6,786.55" fill="#1e1e26" />
<polygon points="932.4,850.24 958.2,835.14 977.1,839.64 977.1,843.74 949.9,857.54" fill="#6f7075" stroke="#15151a" stroke-width="1.6" stroke-linejoin="round" />
<polyline points="938.2,850.44 961.2,837.94" fill="none" stroke="#55565e" stroke-width="0.4" stroke-linejoin="round" stroke-linecap="round" />
<polyline points="941.7,852.14 965.2,839.34" fill="none" stroke="#8a8b90" stroke-width="0.4" stroke-linejoin="round" stroke-linecap="round" />
<polygon points="932.4,850.24 949.9,857.54 949.9,859.34 932.6,851.94" fill="#2a2a32" />
<polygon points="949.9,857.54 977.1,843.74 977.1,845.54 949.9,859.34" fill="#3a3b48" />
<polygon points="967.2,850.64 977.1,845.54 977.1,861.34 967.2,856.94" fill="#74757a" />
<polygon points="942,855.94 949.9,859.34 967.2,850.64 967.2,858.54 942,870.94" fill="#5a5b70" stroke="#15151a" stroke-width="0.8" stroke-linejoin="round" />
<polygon points="940.6,855.34 942,855.94 942,871.34 940.6,871.14" fill="#2a2a32" />
<polygon points="932.4,867.54 940.6,863.04 940.6,871.14" fill="#6f7075" stroke="#15151a" stroke-width="1.5" stroke-linejoin="round" />
<polygon points="942,870.94 967.2,858.54 977.1,861.34 949.9,873.74" fill="#6f7075" stroke="#15151a" stroke-width="1.4" stroke-linejoin="round" />
<polygon points="932.4,867.54 949.9,873.74 977.1,861.34 977.1,862.94 949.9,875.54 932.6,869.14" fill="#1e1e26" />
<polygon points="932.4,874.57 958.2,859.47 977.1,863.97 977.1,868.07 949.9,881.87" fill="#6f7075" stroke="#15151a" stroke-width="1.6" stroke-linejoin="round" />
<polyline points="938.2,874.77 961.2,862.27" fill="none" stroke="#55565e" stroke-width="0.4" stroke-linejoin="round" stroke-linecap="round" />
<polyline points="941.7,876.47 965.2,863.67" fill="none" stroke="#8a8b90" stroke-width="0.4" stroke-linejoin="round" stroke-linecap="round" />
<polygon points="932.4,874.57 949.9,881.87 949.9,883.67 932.6,876.27" fill="#2a2a32" />
<polygon points="949.9,881.87 977.1,868.07 977.1,869.87 949.9,883.67" fill="#3a3b48" />
<polygon points="967.2,874.97 977.1,869.87 977.1,885.67 967.2,881.27" fill="#74757a" />
<polygon points="942,880.27 949.9,883.67 967.2,874.97 967.2,882.87 942,895.27" fill="#5a5b70" stroke="#15151a" stroke-width="0.8" stroke-linejoin="round" />
<polygon points="940.6,879.67 942,880.27 942,895.67 940.6,895.47" fill="#2a2a32" />
<polygon points="932.4,891.87 940.6,887.37 940.6,895.47" fill="#6f7075" stroke="#15151a" stroke-width="1.5" stroke-linejoin="round" />
<polygon points="942,895.27 967.2,882.87 977.1,885.67 949.9,898.07" fill="#6f7075" stroke="#15151a" stroke-width="1.4" stroke-linejoin="round" />
<polygon points="932.4,891.87 949.9,898.07 977.1,885.67 977.1,887.27 949.9,899.87 932.6,893.47" fill="#1e1e26" />
<polygon points="932.4,955.34 958.2,940.24 977.1,944.74 977.1,948.84 949.9,962.64" fill="#6f7075" stroke="#15151a" stroke-width="1.6" stroke-linejoin="round" />
<polyline points="938.2,955.54 961.2,943.04" fill="none" stroke="#55565e" stroke-width="0.4" stroke-linejoin="round" stroke-linecap="round" />
<polyline points="941.7,957.24 965.2,944.44" fill="none" stroke="#8a8b90" stroke-width="0.4" stroke-linejoin="round" stroke-linecap="round" />
<polygon points="932.4,955.34 949.9,962.64 949.9,964.44 932.6,957.04" fill="#2a2a32" />
<polygon points="949.9,962.64 977.1,948.84 977.1,950.64 949.9,964.44" fill="#3a3b48" />
<polygon points="967.2,955.74 977.1,950.64 977.1,966.44 967.2,962.04" fill="#74757a" />
<polygon points="942,961.04 949.9,964.44 967.2,955.74 967.2,963.64 942,976.04" fill="#5a5b70" stroke="#15151a" stroke-width="0.8" stroke-linejoin="round" />
<polygon points="940.6,960.44 942,961.04 942,976.44 940.6,976.24" fill="#2a2a32" />
<polygon points="932.4,972.64 940.6,968.14 940.6,976.24" fill="#6f7075" stroke="#15151a" stroke-width="1.5" stroke-linejoin="round" />
<polygon points="942,976.04 967.2,963.64 977.1,966.44 949.9,978.84" fill="#6f7075" stroke="#15151a" stroke-width="1.4" stroke-linejoin="round" />
<polygon points="932.4,972.64 949.9,978.84 977.1,966.44 977.1,968.04 949.9,980.64 932.6,974.24" fill="#1e1e26" />
<polygon points="932.4,979.84 958.2,964.74 977.1,969.24 977.1,973.34 949.9,987.14" fill="#6f7075" stroke="#15151a" stroke-width="1.6" stroke-linejoin="round" />
<polyline points="938.2,980.04 961.2,967.54" fill="none" stroke="#55565e" stroke-width="0.4" stroke-linejoin="round" stroke-linecap="round" />
<polyline points="941.7,981.74 965.2,968.94" fill="none" stroke="#8a8b90" stroke-width="0.4" stroke-linejoin="round" stroke-linecap="round" />
<polygon points="932.4,979.84 949.9,987.14 949.9,988.94 932.6,981.54" fill="#2a2a32" />
<polygon points="949.9,987.14 977.1,973.34 977.1,975.14 949.9,988.94" fill="#3a3b48" />
<polygon points="967.2,980.24 977.1,975.14 977.1,990.94 967.2,986.54" fill="#74757a" />
<polygon points="942,985.54 949.9,988.94 967.2,980.24 967.2,988.14 942,1000.54" fill="#5a5b70" stroke="#15151a" stroke-width="0.8" stroke-linejoin="round" />
<polygon points="940.6,984.94 942,985.54 942,1000.94 940.6,1000.74" fill="#2a2a32" />
<polygon points="932.4,997.14 940.6,992.64 940.6,1000.74" fill="#6f7075" stroke="#15151a" stroke-width="1.5" stroke-linejoin="round" />
<polygon points="942,1000.54 967.2,988.14 977.1,990.94 949.9,1003.34" fill="#6f7075" stroke="#15151a" stroke-width="1.4" stroke-linejoin="round" />
<polygon points="932.4,997.14 949.9,1003.34 977.1,990.94 977.1,992.54 949.9,1005.14 932.6,998.74" fill="#1e1e26" />
<polygon points="778.2,716.49 804,701.39 822.9,705.89 822.9,709.99 795.7,723.79" fill="#6f7075" stroke="#15151a" stroke-width="1.6" stroke-linejoin="round" />
<polyline points="784,716.69 807,704.19" fill="none" stroke="#55565e" stroke-width="0.4" stroke-linejoin="round" stroke-linecap="round" />
<polyline points="787.5,718.39 811,705.59" fill="none" stroke="#8a8b90" stroke-width="0.4" stroke-linejoin="round" stroke-linecap="round" />
<polygon points="778.2,716.49 795.7,723.79 795.7,725.59 778.4,718.19" fill="#2a2a32" />
<polygon points="795.7,723.79 822.9,709.99 822.9,711.79 795.7,725.59" fill="#3a3b48" />
<polygon points="813,716.89 822.9,711.79 822.9,727.59 813,723.19" fill="#74757a" />
<polygon points="787.8,722.19 795.7,725.59 813,716.89 813,724.79 787.8,737.19" fill="#5a5b70" stroke="#15151a" stroke-width="0.8" stroke-linejoin="round" />
<polygon points="786.4,721.59 787.8,722.19 787.8,737.59 786.4,737.39" fill="#2a2a32" />
<polygon points="778.2,733.79 786.4,729.29 786.4,737.39" fill="#6f7075" stroke="#15151a" stroke-width="1.5" stroke-linejoin="round" />
<polygon points="787.8,737.19 813,724.79 822.9,727.59 795.7,739.99" fill="#6f7075" stroke="#15151a" stroke-width="1.4" stroke-linejoin="round" />
<polygon points="778.2,733.79 795.7,739.99 822.9,727.59 822.9,729.19 795.7,741.79 778.4,735.39" fill="#1e1e26" />
<polygon points="778.2,822.04 804,806.94 822.9,811.44 822.9,815.54 795.7,829.34" fill="#6f7075" stroke="#15151a" stroke-width="1.6" stroke-linejoin="round" />
<polyline points="784,822.24 807,809.74" fill="none" stroke="#55565e" stroke-width="0.4" stroke-linejoin="round" stroke-linecap="round" />
<polyline points="787.5,823.94 811,811.14" fill="none" stroke="#8a8b90" stroke-width="0.4" stroke-linejoin="round" stroke-linecap="round" />
<polygon points="778.2,822.04 795.7,829.34 795.7,831.14 778.4,823.74" fill="#2a2a32" />
<polygon points="795.7,829.34 822.9,815.54 822.9,817.34 795.7,831.14" fill="#3a3b48" />
<polygon points="813,822.44 822.9,817.34 822.9,833.14 813,828.74" fill="#74757a" />
<polygon points="787.8,827.74 795.7,831.14 813,822.44 813,830.34 787.8,842.74" fill="#5a5b70" stroke="#15151a" stroke-width="0.8" stroke-linejoin="round" />
<polygon points="786.4,827.14 787.8,827.74 787.8,843.14 786.4,842.94" fill="#2a2a32" />
<polygon points="778.2,839.34 786.4,834.84 786.4,842.94" fill="#6f7075" stroke="#15151a" stroke-width="1.5" stroke-linejoin="round" />
<polygon points="787.8,842.74 813,830.34 822.9,833.14 795.7,845.54" fill="#6f7075" stroke="#15151a" stroke-width="1.4" stroke-linejoin="round" />
<polygon points="778.2,839.34 795.7,845.54 822.9,833.14 822.9,834.74 795.7,847.34 778.4,840.94" fill="#1e1e26" />
<ellipse cx="951.5" cy="868.47" rx="5.2" ry="5.2" fill="#9a9a9e" stroke="#0c0c10" stroke-width="1" />
<line x1="948.2" y1="865.27" x2="954.6" y2="871.67" stroke="#0c0c10" stroke-width="1" />
<line x1="948.6" y1="871.07" x2="954.4" y2="865.67" stroke="#0c0c10" stroke-width="0.8" />
<polygon points="956,865.97 968,859.97 970,862.97 958,869.97" fill="#55565e" stroke="#0c0c10" stroke-width="0.6" stroke-linejoin="round" />
<ellipse cx="951.5" cy="972.94" rx="5.2" ry="5.2" fill="#9a9a9e" stroke="#0c0c10" stroke-width="1" />
<line x1="948.2" y1="969.74" x2="954.6" y2="976.14" stroke="#0c0c10" stroke-width="1" />
<line x1="948.6" y1="975.54" x2="954.4" y2="970.14" stroke="#0c0c10" stroke-width="0.8" />
<polygon points="956,970.44 968,964.44 970,967.44 958,974.44" fill="#55565e" stroke="#0c0c10" stroke-width="0.6" stroke-linejoin="round" />
<path d="M76.4,874.1 L289.0,760.9 C297,757.5 305,764 304.8,771.5 C304.6,775.5 302.8,778 300.6,780.2 L92.7,896.6 Z" fill="url(#g12)" stroke="#15151a" stroke-width="1.5" stroke-linejoin="round" stroke-linecap="round" />
<rect x="56" y="536.8" width="27.6" height="285" fill="url(#g13)" />
<path d="M83.0,537 L88.5,537 Q84.5,541 84.2,555 L83.0,555 Z" fill="#6a2aa0" stroke="#15151a" stroke-width="1.5" stroke-linejoin="round" stroke-linecap="round" />
<path d="M56.0,551 Q60,557.5 70,557.5 Q80,557.5 83.6,551" fill="none" stroke="#15151a" stroke-width="1.4" stroke-linejoin="round" stroke-linecap="round" />
<line x1="56" y1="538.8" x2="56" y2="818" stroke="#15151a" stroke-width="1.5" />
<line x1="83.6" y1="553" x2="83.6" y2="818" stroke="#2a0c5a" stroke-width="1" />
<path d="M55.1,817 L83.4,817 C83,832 78,846 75.1,860.3 L75.1,872.8 L76.4,874.1 L92.7,896.6 C86,901.5 79,903.6 72.6,903.4 C58,903 45.5,892 44.2,876 C43.2,862 48.5,845 55.1,817 Z" fill="url(#g14)" stroke="#15151a" stroke-width="1.5" stroke-linejoin="round" stroke-linecap="round" />
<path d="M44.4,869.5 Q60,875.5 75.2,872.5 L76.4,874.1 L92.7,896.6 C86,901.5 79,903.6 72.6,903.4 C58,903 45.5,892 44.2,876 Z" fill="url(#g15)" />
<path d="M55.3,818.5 Q69.25,822.5 83.2,818.5" fill="none" stroke="#15151a" stroke-width="1" stroke-linejoin="round" stroke-linecap="round" />
<path d="M51.8,832 Q66.4,838 81,836" fill="none" stroke="#15151a" stroke-width="1" stroke-linejoin="round" stroke-linecap="round" />
<path d="M48,846 Q63.1,852.25 78.2,850.5" fill="none" stroke="#15151a" stroke-width="1" stroke-linejoin="round" stroke-linecap="round" />
<path d="M44.4,869.5 Q59.8,875 75.2,872.5" fill="none" stroke="#15151a" stroke-width="1" stroke-linejoin="round" stroke-linecap="round" />
<path d="M76.4,874.1 Q92,878 92.7,896.6" fill="none" stroke="#15151a" stroke-width="1" stroke-linejoin="round" stroke-linecap="round" />
<polygon points="131.5,892.9 352.3,778.6 352.3,805.6 147.8,915.4" fill="url(#g16)" stroke="#15151a" stroke-width="1.5" stroke-linejoin="round" />
<path d="M112.7,672 C112.7,651 127,635.2 149.5,637.6 L147.8,640.3 L145.3,665.4 C141.5,664.5 139.6,667 139.6,672 L139.6,690 L112.7,690 Z" fill="url(#g18)" stroke="#15151a" stroke-width="1.5" stroke-linejoin="round" stroke-linecap="round" />
<rect x="112.7" y="678" width="26.9" height="150" fill="url(#g17)" />
<line x1="112.7" y1="672" x2="112.7" y2="828" stroke="#15151a" stroke-width="1.5" />
<line x1="139.6" y1="672" x2="139.6" y2="828" stroke="#06343a" stroke-width="1" />
<path d="M112.7,676 Q126,682 139.6,676" fill="none" stroke="#15151a" stroke-width="1.5" stroke-linejoin="round" stroke-linecap="round" />
<path d="M147.8,640.3 Q142,652 145.3,665.4" fill="none" stroke="#15151a" stroke-width="1.5" stroke-linejoin="round" stroke-linecap="round" />
<path d="M112.7,827 L139.6,827 L139.6,840.2 C138,850 133,866 130.3,877.8 L130.3,890.4 L131.5,892.9 L147.8,915.4 C142,920.5 136,923 130.3,923 C114,923 102.5,910 101.6,893 C101,878 106,856 112.7,827 Z" fill="url(#g19)" stroke="#15151a" stroke-width="1.5" stroke-linejoin="round" stroke-linecap="round" />
<path d="M101.8,888 Q116,893 130.3,890 L131.5,892.9 L147.8,915.4 C142,920.5 136,923 130.3,923 C114,923 102.5,910 101.6,893 Z" fill="url(#g20)" />
<path d="M112.9,828.5 Q126.15,832.5 139.4,828.5" fill="none" stroke="#15151a" stroke-width="1" stroke-linejoin="round" stroke-linecap="round" />
<path d="M109,845 Q123.4,851.5 137.8,850" fill="none" stroke="#15151a" stroke-width="1" stroke-linejoin="round" stroke-linecap="round" />
<path d="M105,862 Q119.25,868.5 133.5,867" fill="none" stroke="#15151a" stroke-width="1" stroke-linejoin="round" stroke-linecap="round" />
<path d="M101.8,888 Q116.05,893 130.3,890" fill="none" stroke="#15151a" stroke-width="1" stroke-linejoin="round" stroke-linecap="round" />
<path d="M131.5,892.9 Q147,897 147.8,915.4" fill="none" stroke="#15151a" stroke-width="1" stroke-linejoin="round" stroke-linecap="round" />
<polygon points="175.6,538.8 1005.5,822.2 1006,845 994,845.5 994,845.9 97.4,538.8" fill="url(#g10)" />
<line x1="314" y1="586.06" x2="1005.5" y2="822.2" stroke="#0c0c10" stroke-width="1.2" opacity="0.85"/>
<line x1="97.4" y1="539.3" x2="241" y2="588.49" stroke="#0c0c10" stroke-width="1.6" />
<line x1="314" y1="612.99" x2="994" y2="845.9" stroke="#3a0c3a" stroke-width="0.9" opacity="0.55"/>
<polygon points="147.8,638.4 1061.9,949.8 1062,972 1050.6,972.8 145.3,663.6" fill="url(#g11)" />
<line x1="147.8" y1="638.4" x2="245" y2="671.51" stroke="#1a3a5a" stroke-width="0.8" />
<line x1="314" y1="695.02" x2="1061.9" y2="949.8" stroke="#0c0c10" stroke-width="1.2" opacity="0.85"/>
<line x1="145.3" y1="664.1" x2="241" y2="696.79" stroke="#0c0c10" stroke-width="1.6" />
<line x1="314" y1="721.22" x2="1050.6" y2="972.8" stroke="#06343a" stroke-width="0.9" opacity="0.6"/>
<polyline points="1053.6,530 1053.6,556" fill="none" stroke="#0c0c10" stroke-width="4" stroke-linejoin="round" stroke-linecap="round" />
<polyline points="1053.6,530 1053.6,556" fill="none" stroke="#4a78aa" stroke-width="2.6" stroke-linejoin="round" stroke-linecap="round" />
<polyline points="1054.3,530 1054.3,556" fill="none" stroke="#2a5a90" stroke-width="0.8" stroke-linejoin="round" stroke-linecap="round" />
<polyline points="1060,538.2 1089.5,547 1091.7,550.5 1091.7,667.5" fill="none" stroke="#0c0c10" stroke-width="4" stroke-linejoin="round" stroke-linecap="round" />
<polyline points="1060,538.2 1089.5,547 1091.7,550.5 1091.7,667.5" fill="none" stroke="#4a78aa" stroke-width="2.6" stroke-linejoin="round" stroke-linecap="round" />
<polyline points="1060.7,538.2 1090.2,547 1092.4,550.5 1092.4,667.5" fill="none" stroke="#2a5a90" stroke-width="0.8" stroke-linejoin="round" stroke-linecap="round" />
<polyline points="1091.7,667.8 1113.5,660.5" fill="none" stroke="#0c0c10" stroke-width="3.4" stroke-linejoin="round" stroke-linecap="round" />
<polyline points="1091.7,667.8 1113.5,660.5" fill="none" stroke="#4a78aa" stroke-width="2" stroke-linejoin="round" stroke-linecap="round" />
<polyline points="1092.4,667.8 1114.2,660.5" fill="none" stroke="#1f7a7a" stroke-width="0.8" stroke-linejoin="round" stroke-linecap="round" />
<polyline points="1113.9,660.5 1113.9,925" fill="none" stroke="#0c0c10" stroke-width="4" stroke-linejoin="round" stroke-linecap="round" />
<polyline points="1113.9,660.5 1113.9,925" fill="none" stroke="#4a78aa" stroke-width="2.6" stroke-linejoin="round" stroke-linecap="round" />
<polyline points="1114.6,660.5 1114.6,925" fill="none" stroke="#1f7080" stroke-width="0.8" stroke-linejoin="round" stroke-linecap="round" />
<polyline points="1109.2,530 1109.2,672 1111.2,675 1132,664.5" fill="none" stroke="#0c0c10" stroke-width="4" stroke-linejoin="round" stroke-linecap="round" />
<polyline points="1109.2,530 1109.2,672 1111.2,675 1132,664.5" fill="none" stroke="#f0525a" stroke-width="2.6" stroke-linejoin="round" stroke-linecap="round" />
<polyline points="1109.9,530 1109.9,672 1111.9,675 1132.7,664.5" fill="none" stroke="#a03a98" stroke-width="0.8" stroke-linejoin="round" stroke-linecap="round" />
<polyline points="1133,664.5 1133,932" fill="none" stroke="#0c0c10" stroke-width="4" stroke-linejoin="round" stroke-linecap="round" />
<polyline points="1133,664.5 1133,932" fill="none" stroke="#f0525a" stroke-width="2.6" stroke-linejoin="round" stroke-linecap="round" />
<polyline points="1133.7,664.5 1133.7,932" fill="none" stroke="#a03a98" stroke-width="0.8" stroke-linejoin="round" stroke-linecap="round" />
<rect x="1111.7" y="924.6" width="4.4" height="13.9" fill="#5a5b62" stroke="#0c0c10" stroke-width="0.9" />
<path d="M1111.5,934.5 L1116.3,934.5 L1117.3,940.5 L1109.4,940.5 Z" fill="#2a2a30" stroke="#0c0c10" stroke-width="0.8" stroke-linejoin="round" stroke-linecap="round" />
<ellipse cx="1114.5" cy="943.5" rx="8" ry="6.2" fill="#121216" transform="rotate(-10 1114.5 943.5)" />
<line x1="1110.4" y1="941.7" x2="1120.4" y2="945.1" stroke="#6a6b72" stroke-width="1.3" />
<ellipse cx="1120.9" cy="945.3" rx="1.6" ry="1.3" fill="#7a7b82" />
<path d="M1108.4,946.1 Q1113.9,949.3 1118.9,947.5" fill="none" stroke="#5a5b62" stroke-width="0.9" stroke-linejoin="round" stroke-linecap="round" />
<rect x="1130.8" y="931.5" width="4.4" height="13.5" fill="#5a5b62" stroke="#0c0c10" stroke-width="0.9" />
<path d="M1130.6,941 L1135.4,941 L1136.4,947 L1128.5,947 Z" fill="#2a2a30" stroke="#0c0c10" stroke-width="0.8" stroke-linejoin="round" stroke-linecap="round" />
<ellipse cx="1133.6" cy="950" rx="8" ry="6.2" fill="#121216" transform="rotate(-10 1133.6 950)" />
<line x1="1129.5" y1="948.2" x2="1139.5" y2="951.6" stroke="#6a6b72" stroke-width="1.3" />
<ellipse cx="1140" cy="951.8" rx="1.6" ry="1.3" fill="#7a7b82" />
<path d="M1127.5,952.6 Q1133,955.8 1138,954" fill="none" stroke="#5a5b62" stroke-width="0.9" stroke-linejoin="round" stroke-linecap="round" />
<rect x="1006.1" y="650" width="27.1" height="176" fill="url(#g22)" />
<line x1="1006.1" y1="652" x2="1006.1" y2="822" stroke="#0c0c10" stroke-width="1.5" />
<line x1="1033.2" y1="654" x2="1033.2" y2="826" stroke="#0c0c10" stroke-width="1.5" />
<path d="M1005.8,821.6 C998,825 991.5,834 994,845.5 C1000,849.5 1008,851 1013.5,850.2 C1026,848.5 1033.2,839 1033.2,829 L1033.2,818 Q1019,827.5 1005.8,821.6 Z" fill="url(#g24)" stroke="#0c0c10" stroke-width="1.5" stroke-linejoin="round" stroke-linecap="round" />
<polygon points="984,606 1012.2,606 1012.2,608.4 984,608.4" fill="url(#g25)" />
<polygon points="984,608 1012.2,608 1012.2,610.4 984,610.4" fill="url(#g25)" />
<polygon points="984,610 1012.2,610 1012.2,612.4 984,612.4" fill="url(#g25)" />
<polygon points="984,612 1012.2,612 1012.2,614.4 984,614.4" fill="url(#g25)" />
<polygon points="984,614 1012.2,614 1012.2,616.4 984,616.4" fill="url(#g25)" />
<polygon points="984,616 1012.2,616 1012.2,618.4 984,618.4" fill="url(#g25)" />
<polygon points="984,618 1012.2,618 1012.2,620.4 984,620.4" fill="url(#g25)" />
<polygon points="984,620 1012.2,620 1012.2,622.4 984,622.4" fill="url(#g25)" />
<polygon points="984,622 1012.2,622 1013.62,624.4 984,624.4" fill="url(#g25)" />
<polygon points="984,624 1012.91,624 1016.73,626.4 984,626.4" fill="url(#g25)" />
<polygon points="984,626 1016.15,626 1019.39,628.4 984,628.4" fill="url(#g25)" />
<polygon points="984,628 1018.89,628 1021.69,630.4 984.14,630.4" fill="url(#g25)" />
<polygon points="984.1,630 1021.25,630 1023.69,632.4 984.46,632.4" fill="url(#g25)" />
<polygon points="984.38,632 1023.3,632 1025.43,634.4 984.93,634.4" fill="url(#g25)" />
<polygon points="984.82,634 1025.11,634 1026.97,636.4 985.56,636.4" fill="url(#g25)" />
<polygon points="985.42,636 1026.67,636 1028.29,638.4 986.37,638.4" fill="url(#g25)" />
<polygon points="986.19,638 1028.04,638 1029.45,640.4 987.36,640.4" fill="url(#g25)" />
<polygon points="987.15,640 1029.23,640 1030.42,642.4 988.57,642.4" fill="url(#g25)" />
<polygon points="988.31,642 1030.24,642 1031.25,644.4 990,644.4" fill="url(#g25)" />
<polygon points="989.69,644 1031.1,644 1031.92,646.4 991.71,646.4" fill="url(#g25)" />
<polygon points="991.35,646 1031.81,646 1032.45,648.4 993.78,648.4" fill="url(#g25)" />
<polygon points="993.34,648 1032.36,648 1032.84,650.4 996.31,650.4" fill="url(#g25)" />
<polygon points="995.77,650 1032.77,650 1033.1,652.4 999.63,652.4" fill="url(#g25)" />
<polygon points="998.87,652 1033.06,652 1033.2,654.4 1004.58,654.4" fill="url(#g25)" />
<polygon points="1003.34,654 1033.2,654 1033.2,656.4 1006.1,656.4" fill="url(#g25)" />
<polygon points="1006.1,656 1033.2,656 1033.2,658.4 1006.1,658.4" fill="url(#g25)" />
<polygon points="1006.1,658 1033.2,658 1033.2,660.4 1006.1,660.4" fill="url(#g25)" />
<polygon points="1006.1,660 1033.2,660 1033.2,662.4 1006.1,662.4" fill="url(#g25)" />
<polygon points="1006.1,662 1033.2,662 1033.2,664 1006.1,664" fill="url(#g25)" />
<path d="M984.0,606 L984.0,628.7 C984.6,641 994,652 1006.1,654.8 L1006.1,662 M1033.2,662 L1033.2,653.8 C1032.6,641 1024,630 1012.2,623.6 L1012.2,606" fill="none" stroke="#0c0c10" stroke-width="1.5" stroke-linejoin="round" stroke-linecap="round" />
<path d="M984.0,628.7 Q998,634 1012.2,624" fill="none" stroke="#0c0c10" stroke-width="1.5" stroke-linejoin="round" stroke-linecap="round" />
<path d="M990.5,645.0 C1004,646 1014,638 1015.5,626" fill="none" stroke="#0c0c10" stroke-width="1.5" stroke-linejoin="round" stroke-linecap="round" />
<path d="M999.0,652.5 C1012,652 1022,644 1024.5,632" fill="none" stroke="#0c0c10" stroke-width="1.5" stroke-linejoin="round" stroke-linecap="round" />
<path d="M1006.1,655.0 Q1020,663 1033.2,654.5" fill="none" stroke="#0c0c10" stroke-width="1.5" stroke-linejoin="round" stroke-linecap="round" />
<path d="M984.0,607 L984.0,545 Q984.0,537.5 990,537 L1006,537 Q1012.2,537.5 1012.2,545 L1012.2,607 Z" fill="url(#g21)" stroke="#0c0c10" stroke-width="1.5" stroke-linejoin="round" stroke-linecap="round" />
<path d="M984.0,551.0 Q998,555.5 1012.2,551.0" fill="none" stroke="#0c0c10" stroke-width="1.5" stroke-linejoin="round" stroke-linecap="round" />
<path d="M984.0,569.5 Q998,574 1012.2,569.5" fill="none" stroke="#0c0c10" stroke-width="1.5" stroke-linejoin="round" stroke-linecap="round" />
<path d="M984.0,606.5 Q998,611 1012.2,606.5" fill="none" stroke="#0c0c10" stroke-width="1.5" stroke-linejoin="round" stroke-linecap="round" />
<path d="M988,577.5 L1000,580.5 L1006.5,590 L998,601.5 L989,604 Z" fill="#c03c78" stroke="#0c0c10" stroke-width="0.5" stroke-linejoin="round" stroke-linecap="round" />
<ellipse cx="986.8" cy="590.2" rx="11.6" ry="14.2" fill="url(#g26)" stroke="#0c0c10" stroke-width="1.2" transform="rotate(10 986.8 590.2)" />
<path d="M994,601 L1000,594" fill="none" stroke="#3a2ac8" stroke-width="1.2" stroke-linejoin="round" stroke-linecap="round" />
<rect x="1062.6" y="670" width="27.2" height="280" fill="url(#g28)" />
<line x1="1062.6" y1="672" x2="1062.6" y2="947" stroke="#0c0c10" stroke-width="1.5" />
<line x1="1089.8" y1="674" x2="1089.8" y2="952" stroke="#0c0c10" stroke-width="1.5" />
<path d="M1062.0,946.8 C1054,950 1048,960 1050.6,973.1 C1057,976.5 1064,977.6 1070,976.8 C1082,975 1089.8,966 1089.8,955 L1089.8,943.5 Q1075.5,953 1062.0,946.8 Z" fill="url(#g30)" stroke="#0c0c10" stroke-width="1.5" stroke-linejoin="round" stroke-linecap="round" />
<polygon points="1040,625 1068.6,625 1068.6,627.4 1040,627.4" fill="url(#g31)" />
<polygon points="1040,627 1068.6,627 1068.6,629.4 1040,629.4" fill="url(#g31)" />
<polygon points="1040,629 1068.6,629 1068.6,631.4 1040,631.4" fill="url(#g31)" />
<polygon points="1040,631 1068.6,631 1068.6,633.4 1040,633.4" fill="url(#g31)" />
<polygon points="1040,633 1068.6,633 1068.6,635.4 1040,635.4" fill="url(#g31)" />
<polygon points="1040,635 1068.6,635 1068.6,637.4 1040,637.4" fill="url(#g31)" />
<polygon points="1040,637 1068.6,637 1068.6,639.4 1040,639.4" fill="url(#g31)" />
<polygon points="1040,639 1068.6,639 1068.6,641.4 1040,641.4" fill="url(#g31)" />
<polygon points="1040,641 1068.6,641 1068.6,643.4 1040,643.4" fill="url(#g31)" />
<polygon points="1040,643 1068.6,643 1068.6,645.4 1040,645.4" fill="url(#g31)" />
<polygon points="1040,645 1068.6,645 1072.61,647.4 1040.03,647.4" fill="url(#g31)" />
<polygon points="1040,647 1071.89,647 1075.77,649.4 1040.24,649.4" fill="url(#g31)" />
<polygon points="1040.18,649 1075.18,649 1078.35,651.4 1040.58,651.4" fill="url(#g31)" />
<polygon points="1040.51,651 1077.87,651 1080.52,653.4 1041.09,653.4" fill="url(#g31)" />
<polygon points="1040.97,653 1080.11,653 1082.37,655.4 1041.76,655.4" fill="url(#g31)" />
<polygon points="1041.61,655 1082.02,655 1083.94,657.4 1042.59,657.4" fill="url(#g31)" />
<polygon points="1042.42,657 1083.65,657 1085.29,659.4 1043.62,659.4" fill="url(#g31)" />
<polygon points="1043.39,659 1085.04,659 1086.43,661.4 1044.83,661.4" fill="url(#g31)" />
<polygon points="1044.58,661 1086.21,661 1087.38,663.4 1046.29,663.4" fill="url(#g31)" />
<polygon points="1045.98,663 1087.21,663 1088.16,665.4 1048.02,665.4" fill="url(#g31)" />
<polygon points="1047.65,665 1088.02,665 1088.79,667.4 1050.09,667.4" fill="url(#g31)" />
<polygon points="1049.65,667 1088.67,667 1089.26,669.4 1052.65,669.4" fill="url(#g31)" />
<polygon points="1052.1,669 1089.18,669 1089.58,671.4 1055.99,671.4" fill="url(#g31)" />
<polygon points="1055.22,671 1089.53,671 1089.77,673.4 1061.03,673.4" fill="url(#g31)" />
<polygon points="1059.76,673 1089.74,673 1089.8,675.4 1062.6,675.4" fill="url(#g31)" />
<polygon points="1062.6,675 1089.8,675 1089.8,677.4 1062.6,677.4" fill="url(#g31)" />
<polygon points="1062.6,677 1089.8,677 1089.8,679.4 1062.6,679.4" fill="url(#g31)" />
<polygon points="1062.6,679 1089.8,679 1089.8,681.4 1062.6,681.4" fill="url(#g31)" />
<polygon points="1062.6,681 1089.8,681 1089.8,683.4 1062.6,683.4" fill="url(#g31)" />
<polygon points="1062.6,683 1089.8,683 1089.8,684 1062.6,684" fill="url(#g31)" />
<path d="M1040.0,626 L1040.0,647 C1040.6,659.5 1050,671 1062.6,673.8 L1062.6,683 M1089.8,683 L1089.8,673.8 C1089.2,661 1080.5,650.5 1068.6,645.4 L1068.6,626" fill="none" stroke="#0c0c10" stroke-width="1.5" stroke-linejoin="round" stroke-linecap="round" />
<path d="M1040.0,647.5 Q1054,652.5 1068.6,645.8" fill="none" stroke="#0c0c10" stroke-width="1.5" stroke-linejoin="round" stroke-linecap="round" />
<path d="M1046.5,663.5 C1060,664.5 1070,657 1072,646.5" fill="none" stroke="#0c0c10" stroke-width="1.5" stroke-linejoin="round" stroke-linecap="round" />
<path d="M1055.5,671.5 C1068,671 1078,664 1081,652.5" fill="none" stroke="#0c0c10" stroke-width="1.5" stroke-linejoin="round" stroke-linecap="round" />
<path d="M1062.6,674.2 Q1076,682 1089.8,674.0" fill="none" stroke="#0c0c10" stroke-width="1.5" stroke-linejoin="round" stroke-linecap="round" />
<path d="M1040.0,626.5 L1040.0,565 Q1040.0,555.4 1054.3,555 Q1068.6,555.4 1068.6,565 L1068.6,626.5 Z" fill="url(#g27)" stroke="#0c0c10" stroke-width="1.5" stroke-linejoin="round" stroke-linecap="round" />
<path d="M1040.0,571.5 Q1054,576.5 1068.6,571.5" fill="none" stroke="#0c0c10" stroke-width="1.5" stroke-linejoin="round" stroke-linecap="round" />
<path d="M1040.0,588.5 Q1054,593.5 1068.6,588.5" fill="none" stroke="#0c0c10" stroke-width="1.5" stroke-linejoin="round" stroke-linecap="round" />
<path d="M1040.0,626 Q1054,631 1068.6,626" fill="none" stroke="#0c0c10" stroke-width="1.5" stroke-linejoin="round" stroke-linecap="round" />
<path d="M1044,596 L1056,599 L1062.5,608.5 L1054,620 L1045,622.5 Z" fill="#1a6c74" stroke="#0c0c10" stroke-width="0.5" stroke-linejoin="round" stroke-linecap="round" />
<ellipse cx="1042.8" cy="608.6" rx="11.6" ry="14.2" fill="url(#g32)" stroke="#0c0c10" stroke-width="1.2" transform="rotate(10 1042.8 608.6)" />
<path d="M1050,619.5 L1056,612.5" fill="none" stroke="#0a4a4a" stroke-width="1" stroke-linejoin="round" stroke-linecap="round" />
<line x1="1030.2" y1="656" x2="1037.2" y2="652.8" stroke="#0c0c10" stroke-width="2" />
<line x1="1030.2" y1="656" x2="1037.2" y2="652.8" stroke="#8fd8d0" stroke-width="0.9" />
<line x1="1030.2" y1="670.3" x2="1037.2" y2="667.1" stroke="#0c0c10" stroke-width="2" />
<line x1="1030.2" y1="670.3" x2="1037.2" y2="667.1" stroke="#8fd8d0" stroke-width="0.9" />
<polygon points="1034.2,648.6 1037.2,646.6 1041.2,648.6 1041.2,672.6 1037.7,674.1 1034.2,671.6" fill="#c9c59c" stroke="#0c0c10" stroke-width="0.8" stroke-linejoin="round" />
<line x1="1037.5" y1="649.6" x2="1037.5" y2="670.6" stroke="#55553c" stroke-width="0.9" />
<polygon points="1041.2,655.7 1046.2,660.9 1051.2,662.72 1051.7,666.88 1047.2,668.96 1041.2,667.4" fill="#c9c59c" stroke="#0c0c10" stroke-width="0.8" stroke-linejoin="round" />
<line x1="1086.8" y1="676.48" x2="1093.8" y2="673.28" stroke="#0c0c10" stroke-width="2" />
<line x1="1086.8" y1="676.48" x2="1093.8" y2="673.28" stroke="#8fd8d0" stroke-width="0.9" />
<line x1="1086.8" y1="689.46" x2="1093.8" y2="686.26" stroke="#0c0c10" stroke-width="2" />
<line x1="1086.8" y1="689.46" x2="1093.8" y2="686.26" stroke="#8fd8d0" stroke-width="0.9" />
<polygon points="1090.8,669.8 1093.8,667.8 1097.8,669.8 1097.8,691.4 1094.3,692.9 1090.8,690.4" fill="#c9c59c" stroke="#0c0c10" stroke-width="0.8" stroke-linejoin="round" />
<line x1="1094.1" y1="670.8" x2="1094.1" y2="689.4" stroke="#55553c" stroke-width="0.9" />
<polygon points="1097.8,676.06 1102.8,680.78 1107.8,682.43 1108.3,686.21 1103.8,688.1 1097.8,686.68" fill="#c9c59c" stroke="#0c0c10" stroke-width="0.8" stroke-linejoin="round" />
<line x1="1030.2" y1="763.7" x2="1037.2" y2="760.5" stroke="#0c0c10" stroke-width="2" />
<line x1="1030.2" y1="763.7" x2="1037.2" y2="760.5" stroke="#8fd8d0" stroke-width="0.9" />
<line x1="1030.2" y1="778.55" x2="1037.2" y2="775.35" stroke="#0c0c10" stroke-width="2" />
<line x1="1030.2" y1="778.55" x2="1037.2" y2="775.35" stroke="#8fd8d0" stroke-width="0.9" />
<polygon points="1034.2,756 1037.2,754 1041.2,756 1041.2,781 1037.7,782.5 1034.2,780" fill="#c9c59c" stroke="#0c0c10" stroke-width="0.8" stroke-linejoin="round" />
<line x1="1037.5" y1="757" x2="1037.5" y2="779" stroke="#55553c" stroke-width="0.9" />
<polygon points="1041.2,763.45 1046.2,768.85 1051.2,770.74 1051.7,775.06 1047.2,777.22 1041.2,775.6" fill="#c9c59c" stroke="#0c0c10" stroke-width="0.8" stroke-linejoin="round" />
<line x1="1086.8" y1="783.4" x2="1093.8" y2="780.2" stroke="#0c0c10" stroke-width="2" />
<line x1="1086.8" y1="783.4" x2="1093.8" y2="780.2" stroke="#8fd8d0" stroke-width="0.9" />
<line x1="1086.8" y1="797.7" x2="1093.8" y2="794.5" stroke="#0c0c10" stroke-width="2" />
<line x1="1086.8" y1="797.7" x2="1093.8" y2="794.5" stroke="#8fd8d0" stroke-width="0.9" />
<polygon points="1090.8,776 1093.8,774 1097.8,776 1097.8,800 1094.3,801.5 1090.8,799" fill="#c9c59c" stroke="#0c0c10" stroke-width="0.8" stroke-linejoin="round" />
<line x1="1094.1" y1="777" x2="1094.1" y2="798" stroke="#55553c" stroke-width="0.9" />
<polygon points="1097.8,783.1 1102.8,788.3 1107.8,790.12 1108.3,794.28 1103.8,796.36 1097.8,794.8" fill="#c9c59c" stroke="#0c0c10" stroke-width="0.8" stroke-linejoin="round" />
<path d="M1004.7,664 A14.95,5 0 0 0 1034.6,665" fill="none" stroke="#0c0c10" stroke-width="4.4" stroke-linejoin="round" stroke-linecap="round" />
<path d="M1004.7,664 A14.95,5 0 0 0 1034.6,665" fill="none" stroke="#8a3030" stroke-width="1.5" stroke-linejoin="round" stroke-linecap="round" />
<path d="M1004.7,658.9 A14.95,5 0 0 0 1034.6,659.9" fill="none" stroke="#0c0c10" stroke-width="1.7" stroke-linejoin="round" stroke-linecap="round" />
<rect x="1032.7" y="661.5" width="4.2" height="5.2" fill="#15151a" rx="1"/>
<rect x="1003.5" y="657" width="2" height="5" fill="#15151a" />
<path d="M1004.7,681.5 A14.95,5 0 0 0 1034.6,682.5" fill="none" stroke="#0c0c10" stroke-width="4.4" stroke-linejoin="round" stroke-linecap="round" />
<path d="M1004.7,681.5 A14.95,5 0 0 0 1034.6,682.5" fill="none" stroke="#8a3030" stroke-width="1.5" stroke-linejoin="round" stroke-linecap="round" />
<path d="M1004.7,676.4 A14.95,5 0 0 0 1034.6,677.4" fill="none" stroke="#0c0c10" stroke-width="1.7" stroke-linejoin="round" stroke-linecap="round" />
<rect x="1032.7" y="679" width="4.2" height="5.2" fill="#15151a" rx="1"/>
<rect x="1003.5" y="674.5" width="2" height="5" fill="#15151a" />
<path d="M1004.7,773 A14.95,5 0 0 0 1034.6,774" fill="none" stroke="#0c0c10" stroke-width="4.4" stroke-linejoin="round" stroke-linecap="round" />
<path d="M1004.7,773 A14.95,5 0 0 0 1034.6,774" fill="none" stroke="#8a3030" stroke-width="1.5" stroke-linejoin="round" stroke-linecap="round" />
<path d="M1004.7,767.9 A14.95,5 0 0 0 1034.6,768.9" fill="none" stroke="#0c0c10" stroke-width="1.7" stroke-linejoin="round" stroke-linecap="round" />
<rect x="1032.7" y="770.5" width="4.2" height="5.2" fill="#15151a" rx="1"/>
<rect x="1003.5" y="766" width="2" height="5" fill="#15151a" />
<path d="M1004.7,789.5 A14.95,5 0 0 0 1034.6,790.5" fill="none" stroke="#0c0c10" stroke-width="4.4" stroke-linejoin="round" stroke-linecap="round" />
<path d="M1004.7,789.5 A14.95,5 0 0 0 1034.6,790.5" fill="none" stroke="#8a3030" stroke-width="1.5" stroke-linejoin="round" stroke-linecap="round" />
<path d="M1004.7,784.4 A14.95,5 0 0 0 1034.6,785.4" fill="none" stroke="#0c0c10" stroke-width="1.7" stroke-linejoin="round" stroke-linecap="round" />
<rect x="1032.7" y="787" width="4.2" height="5.2" fill="#15151a" rx="1"/>
<rect x="1003.5" y="782.5" width="2" height="5" fill="#15151a" />
<path d="M1061.2,685 A15,5 0 0 0 1091.2,686" fill="none" stroke="#0c0c10" stroke-width="4.4" stroke-linejoin="round" stroke-linecap="round" />
<path d="M1061.2,685 A15,5 0 0 0 1091.2,686" fill="none" stroke="#8a3a34" stroke-width="1.5" stroke-linejoin="round" stroke-linecap="round" />
<path d="M1061.2,679.9 A15,5 0 0 0 1091.2,680.9" fill="none" stroke="#0c0c10" stroke-width="1.7" stroke-linejoin="round" stroke-linecap="round" />
<rect x="1089.3" y="682.5" width="4.2" height="5.2" fill="#15151a" rx="1"/>
<rect x="1060" y="678" width="2" height="5" fill="#15151a" />
<path d="M1061.2,702 A15,5 0 0 0 1091.2,703" fill="none" stroke="#0c0c10" stroke-width="4.4" stroke-linejoin="round" stroke-linecap="round" />
<path d="M1061.2,702 A15,5 0 0 0 1091.2,703" fill="none" stroke="#8a3a34" stroke-width="1.5" stroke-linejoin="round" stroke-linecap="round" />
<path d="M1061.2,696.9 A15,5 0 0 0 1091.2,697.9" fill="none" stroke="#0c0c10" stroke-width="1.7" stroke-linejoin="round" stroke-linecap="round" />
<rect x="1089.3" y="699.5" width="4.2" height="5.2" fill="#15151a" rx="1"/>
<rect x="1060" y="695" width="2" height="5" fill="#15151a" />
<path d="M1061.2,792.5 A15,5 0 0 0 1091.2,793.5" fill="none" stroke="#0c0c10" stroke-width="4.4" stroke-linejoin="round" stroke-linecap="round" />
<path d="M1061.2,792.5 A15,5 0 0 0 1091.2,793.5" fill="none" stroke="#8a3a34" stroke-width="1.5" stroke-linejoin="round" stroke-linecap="round" />
<path d="M1061.2,787.4 A15,5 0 0 0 1091.2,788.4" fill="none" stroke="#0c0c10" stroke-width="1.7" stroke-linejoin="round" stroke-linecap="round" />
<rect x="1089.3" y="790" width="4.2" height="5.2" fill="#15151a" rx="1"/>
<rect x="1060" y="785.5" width="2" height="5" fill="#15151a" />
<path d="M1061.2,810 A15,5 0 0 0 1091.2,811" fill="none" stroke="#0c0c10" stroke-width="4.4" stroke-linejoin="round" stroke-linecap="round" />
<path d="M1061.2,810 A15,5 0 0 0 1091.2,811" fill="none" stroke="#8a3a34" stroke-width="1.5" stroke-linejoin="round" stroke-linecap="round" />
<path d="M1061.2,804.9 A15,5 0 0 0 1091.2,805.9" fill="none" stroke="#0c0c10" stroke-width="1.7" stroke-linejoin="round" stroke-linecap="round" />
<rect x="1089.3" y="807.5" width="4.2" height="5.2" fill="#15151a" rx="1"/>
<rect x="1060" y="803" width="2" height="5" fill="#15151a" />
<ellipse cx="305.7" cy="597.67" rx="11.6" ry="23" fill="#f6f2a6" stroke="#0c0c10" stroke-width="1.3" transform="rotate(18.5 305.7 597.67)" />
<ellipse cx="309.1" cy="598.77" rx="12" ry="23.3" fill="#ff6a34" stroke="#0c0c10" stroke-width="1.3" transform="rotate(18.5 309.1 598.77)" />
<ellipse cx="312.9" cy="600.07" rx="11.8" ry="22.2" fill="#a23cae" stroke="#0c0c10" stroke-width="0.9" transform="rotate(18.5 312.9 600.07)" />
<ellipse cx="315.5" cy="599.87" rx="6" ry="14.65" fill="#0c0c10" transform="rotate(18.5 315.5 599.87)" />
<polygon points="317.5,587.26 349,598.01 349,624.98 312,612.3" fill="url(#g10)" />
<ellipse cx="317.4" cy="600.27" rx="5" ry="12.85" fill="#ff5a3a" transform="rotate(18.5 317.4 600.27)" />
<polygon points="318.5,588 329,591.18 329,618.13 314,612.59" fill="url(#g10)" />
<line x1="317.5" y1="587.26" x2="349" y2="598.01" stroke="#0c0c10" stroke-width="1.3" />
<line x1="312.5" y1="612.48" x2="349" y2="624.98" stroke="#3a0c3a" stroke-width="0.9" opacity="0.6"/>
<ellipse cx="249.1" cy="578.99" rx="11.6" ry="21.8" fill="#ff6a34" stroke="#0c0c10" stroke-width="1.3" transform="rotate(18.5 249.1 578.99)" />
<ellipse cx="252.3" cy="580.09" rx="11.6" ry="21.8" fill="#f6f2a6" stroke="#0c0c10" stroke-width="1.3" transform="rotate(18.5 252.3 580.09)" />
<ellipse cx="255.5" cy="581.19" rx="10.2" ry="19.4" fill="#8490d4" stroke="#0c0c10" stroke-width="0.8" transform="rotate(18.5 255.5 581.19)" />
<ellipse cx="248.03" cy="595.54" rx="1.2" ry="1.8" fill="#15151a" transform="rotate(18.5 248.03 595.54)" />
<ellipse cx="246.08" cy="588.45" rx="1.2" ry="1.8" fill="#15151a" transform="rotate(18.5 246.08 588.45)" />
<ellipse cx="247.72" cy="578.59" rx="1.2" ry="1.8" fill="#15151a" transform="rotate(18.5 247.72 578.59)" />
<ellipse cx="252.34" cy="569.72" rx="1.2" ry="1.8" fill="#15151a" transform="rotate(18.5 252.34 569.72)" />
<ellipse cx="258.17" cy="565.24" rx="1.2" ry="1.8" fill="#15151a" transform="rotate(18.5 258.17 565.24)" />
<polygon points="259.5,564.89 275,575.42 275,604.92 256,595.89" fill="url(#g33)" stroke="#0c0c10" stroke-width="1" stroke-linejoin="round" />
<polygon points="291,578.92 301.5,582.77 297.5,610.77 289,607.92" fill="url(#g33)" stroke="#0c0c10" stroke-width="1" stroke-linejoin="round" />
<ellipse cx="281.5" cy="593.72" rx="16.4" ry="16.4" fill="url(#g34)" stroke="#0c0c10" stroke-width="1.3" />
<path d="M270.5,559.42 L270.5,579.42 A12.5,4.4 0 0 0 295.5,579.42 L295.5,559.42 Z" fill="url(#g35)" stroke="#0c0c10" stroke-width="1.2" stroke-linejoin="round" stroke-linecap="round" />
<ellipse cx="283" cy="559.42" rx="12.5" ry="4.4" fill="url(#g35)" stroke="#0c0c10" stroke-width="1.2" />
<path d="M275.7,549.92 L275.7,559.92 A7.3,2.4 0 0 0 290.3,559.92 L290.3,549.92 Z" fill="url(#g35)" stroke="#0c0c10" stroke-width="1.2" stroke-linejoin="round" stroke-linecap="round" />
<ellipse cx="283.4" cy="540.92" rx="25.6" ry="12.6" fill="#0c0c10" />
<ellipse cx="283.4" cy="539.92" rx="25" ry="11.8" fill="#f6f2a6" stroke="#0c0c10" stroke-width="1.2" />
<ellipse cx="283.4" cy="540.72" rx="20.6" ry="8.6" fill="#4a4a40" stroke="#0c0c10" stroke-width="1.2" />
<line x1="283.4" y1="540.72" x2="302.96" y2="542.43" stroke="#0c0c10" stroke-width="3.4" />
<line x1="283.4" y1="540.72" x2="294.29" y2="547.6" stroke="#ffffff" stroke-width="3.4" />
<line x1="283.4" y1="540.72" x2="279.24" y2="548.74" stroke="#0c0c10" stroke-width="3.4" />
<line x1="283.4" y1="540.72" x2="266.63" y2="545.19" stroke="#ffffff" stroke-width="3.4" />
<line x1="283.4" y1="540.72" x2="263.84" y2="539.02" stroke="#0c0c10" stroke-width="3.4" />
<line x1="283.4" y1="540.72" x2="272.51" y2="533.85" stroke="#ffffff" stroke-width="3.4" />
<line x1="283.4" y1="540.72" x2="287.56" y2="532.7" stroke="#0c0c10" stroke-width="3.4" />
<line x1="283.4" y1="540.72" x2="300.17" y2="536.26" stroke="#ffffff" stroke-width="3.4" />
<line x1="283.4" y1="540.72" x2="303.35" y2="542.49" stroke="#f0eca2" stroke-width="1.9" />
<line x1="283.4" y1="540.72" x2="294.51" y2="547.85" stroke="#f0eca2" stroke-width="1.9" />
<line x1="283.4" y1="540.72" x2="279.16" y2="549.04" stroke="#f0eca2" stroke-width="1.9" />
<line x1="283.4" y1="540.72" x2="266.29" y2="545.35" stroke="#f0eca2" stroke-width="1.9" />
<line x1="283.4" y1="540.72" x2="263.45" y2="538.96" stroke="#f0eca2" stroke-width="1.9" />
<line x1="283.4" y1="540.72" x2="272.29" y2="533.59" stroke="#f0eca2" stroke-width="1.9" />
<line x1="283.4" y1="540.72" x2="287.64" y2="532.41" stroke="#f0eca2" stroke-width="1.9" />
<line x1="283.4" y1="540.72" x2="300.51" y2="536.09" stroke="#f0eca2" stroke-width="1.9" />
<ellipse cx="283.4" cy="540.92" rx="5.6" ry="2.6" fill="#f6f2a6" stroke="#0c0c10" stroke-width="0.8" />
<path d="M279.5,541.12 L280,529.42 Q283.4,524.92 286.8,529.42 L287.3,541.12 Z" fill="url(#g35)" stroke="#0c0c10" stroke-width="1.1" stroke-linejoin="round" stroke-linecap="round" />
<ellipse cx="305.7" cy="706.29" rx="11.6" ry="23" fill="#f6f2a6" stroke="#0c0c10" stroke-width="1.3" transform="rotate(18.5 305.7 706.29)" />
<ellipse cx="309.1" cy="707.39" rx="12" ry="23.3" fill="#5676b8" stroke="#0c0c10" stroke-width="1.3" transform="rotate(18.5 309.1 707.39)" />
<ellipse cx="312.9" cy="708.69" rx="11.8" ry="22.2" fill="#117a78" stroke="#0c0c10" stroke-width="0.9" transform="rotate(18.5 312.9 708.69)" />
<ellipse cx="315.5" cy="708.46" rx="6" ry="14.29" fill="#0c0c10" transform="rotate(18.5 315.5 708.46)" />
<polygon points="317.5,696.21 349,706.94 349,733.17 312,720.54" fill="url(#g11)" />
<ellipse cx="317.4" cy="708.86" rx="5" ry="12.49" fill="#5070b0" transform="rotate(18.5 317.4 708.86)" />
<polygon points="318.5,696.95 329,700.13 329,726.34 314,720.82" fill="url(#g11)" />
<line x1="317.5" y1="696.21" x2="349" y2="706.94" stroke="#0c0c10" stroke-width="1.3" />
<line x1="312.5" y1="720.71" x2="349" y2="733.17" stroke="#06343a" stroke-width="0.9" opacity="0.6"/>
<ellipse cx="249.1" cy="687.61" rx="11.6" ry="21.8" fill="#4e6eb4" stroke="#0c0c10" stroke-width="1.3" transform="rotate(18.5 249.1 687.61)" />
<ellipse cx="252.3" cy="688.71" rx="11.6" ry="21.8" fill="#f6f2a6" stroke="#0c0c10" stroke-width="1.3" transform="rotate(18.5 252.3 688.71)" />
<ellipse cx="255.5" cy="689.81" rx="10.2" ry="19.4" fill="#8490d4" stroke="#0c0c10" stroke-width="0.8" transform="rotate(18.5 255.5 689.81)" />
<ellipse cx="248.03" cy="704.16" rx="1.2" ry="1.8" fill="#15151a" transform="rotate(18.5 248.03 704.16)" />
<ellipse cx="246.08" cy="697.07" rx="1.2" ry="1.8" fill="#15151a" transform="rotate(18.5 246.08 697.07)" />
<ellipse cx="247.72" cy="687.21" rx="1.2" ry="1.8" fill="#15151a" transform="rotate(18.5 247.72 687.21)" />
<ellipse cx="252.34" cy="678.34" rx="1.2" ry="1.8" fill="#15151a" transform="rotate(18.5 252.34 678.34)" />
<ellipse cx="258.17" cy="673.86" rx="1.2" ry="1.8" fill="#15151a" transform="rotate(18.5 258.17 673.86)" />
<polygon points="259.5,673.51 275,684.04 275,713.54 256,704.51" fill="url(#g36)" stroke="#0c0c10" stroke-width="1" stroke-linejoin="round" />
<polygon points="291,687.54 301.5,691.39 297.5,719.39 289,716.54" fill="url(#g36)" stroke="#0c0c10" stroke-width="1" stroke-linejoin="round" />
<ellipse cx="281.5" cy="702.34" rx="16.4" ry="16.4" fill="url(#g37)" stroke="#0c0c10" stroke-width="1.3" />
<path d="M270.5,668.04 L270.5,688.04 A12.5,4.4 0 0 0 295.5,688.04 L295.5,668.04 Z" fill="url(#g38)" stroke="#0c0c10" stroke-width="1.2" stroke-linejoin="round" stroke-linecap="round" />
<ellipse cx="283" cy="668.04" rx="12.5" ry="4.4" fill="url(#g38)" stroke="#0c0c10" stroke-width="1.2" />
<path d="M275.7,658.54 L275.7,668.54 A7.3,2.4 0 0 0 290.3,668.54 L290.3,658.54 Z" fill="url(#g38)" stroke="#0c0c10" stroke-width="1.2" stroke-linejoin="round" stroke-linecap="round" />
<ellipse cx="283.4" cy="649.54" rx="25.6" ry="12.6" fill="#0c0c10" />
<ellipse cx="283.4" cy="648.54" rx="25" ry="11.8" fill="#f6f2a6" stroke="#0c0c10" stroke-width="1.2" />
<ellipse cx="283.4" cy="649.34" rx="20.6" ry="8.6" fill="#4a4a40" stroke="#0c0c10" stroke-width="1.2" />
<line x1="283.4" y1="649.34" x2="302.96" y2="651.05" stroke="#0c0c10" stroke-width="3.4" />
<line x1="283.4" y1="649.34" x2="294.29" y2="656.22" stroke="#ffffff" stroke-width="3.4" />
<line x1="283.4" y1="649.34" x2="279.24" y2="657.36" stroke="#0c0c10" stroke-width="3.4" />
<line x1="283.4" y1="649.34" x2="266.63" y2="653.81" stroke="#ffffff" stroke-width="3.4" />
<line x1="283.4" y1="649.34" x2="263.84" y2="647.64" stroke="#0c0c10" stroke-width="3.4" />
<line x1="283.4" y1="649.34" x2="272.51" y2="642.47" stroke="#ffffff" stroke-width="3.4" />
<line x1="283.4" y1="649.34" x2="287.56" y2="641.32" stroke="#0c0c10" stroke-width="3.4" />
<line x1="283.4" y1="649.34" x2="300.17" y2="644.88" stroke="#ffffff" stroke-width="3.4" />
<line x1="283.4" y1="649.34" x2="303.35" y2="651.11" stroke="#f0eca2" stroke-width="1.9" />
<line x1="283.4" y1="649.34" x2="294.51" y2="656.47" stroke="#f0eca2" stroke-width="1.9" />
<line x1="283.4" y1="649.34" x2="279.16" y2="657.66" stroke="#f0eca2" stroke-width="1.9" />
<line x1="283.4" y1="649.34" x2="266.29" y2="653.97" stroke="#f0eca2" stroke-width="1.9" />
<line x1="283.4" y1="649.34" x2="263.45" y2="647.58" stroke="#f0eca2" stroke-width="1.9" />
<line x1="283.4" y1="649.34" x2="272.29" y2="642.22" stroke="#f0eca2" stroke-width="1.9" />
<line x1="283.4" y1="649.34" x2="287.64" y2="641.03" stroke="#f0eca2" stroke-width="1.9" />
<line x1="283.4" y1="649.34" x2="300.51" y2="644.71" stroke="#f0eca2" stroke-width="1.9" />
<ellipse cx="283.4" cy="649.54" rx="5.6" ry="2.6" fill="#f6f2a6" stroke="#0c0c10" stroke-width="0.8" />
<path d="M279.5,649.74 L280,638.04 Q283.4,633.54 286.8,638.04 L287.3,649.74 Z" fill="url(#g38)" stroke="#0c0c10" stroke-width="1.1" stroke-linejoin="round" stroke-linecap="round" />
<ellipse cx="571" cy="688.41" rx="11.6" ry="23" fill="#f6f2a6" stroke="#0c0c10" stroke-width="1.3" transform="rotate(18.5 571 688.41)" />
<ellipse cx="574.4" cy="689.51" rx="12" ry="23.3" fill="#ff6a34" stroke="#0c0c10" stroke-width="1.3" transform="rotate(18.5 574.4 689.51)" />
<ellipse cx="578.2" cy="690.81" rx="11.8" ry="22.2" fill="#a23cae" stroke="#0c0c10" stroke-width="0.9" transform="rotate(18.5 578.2 690.81)" />
<ellipse cx="580.8" cy="690.6" rx="6" ry="14.78" fill="#0c0c10" transform="rotate(18.5 580.8 690.6)" />
<polygon points="582.8,677.85 614.3,688.61 614.3,715.85 577.3,703.17" fill="url(#g10)" />
<ellipse cx="582.7" cy="691" rx="5" ry="12.98" fill="#ff5a3a" transform="rotate(18.5 582.7 691)" />
<polygon points="583.8,678.59 594.3,681.78 594.3,709 579.3,703.46" fill="url(#g10)" />
<line x1="582.8" y1="677.85" x2="614.3" y2="688.61" stroke="#0c0c10" stroke-width="1.3" />
<line x1="577.8" y1="703.34" x2="614.3" y2="715.85" stroke="#3a0c3a" stroke-width="0.9" opacity="0.6"/>
<ellipse cx="514.4" cy="669.73" rx="11.6" ry="21.8" fill="#ff6a34" stroke="#0c0c10" stroke-width="1.3" transform="rotate(18.5 514.4 669.73)" />
<ellipse cx="517.6" cy="670.83" rx="11.6" ry="21.8" fill="#f6f2a6" stroke="#0c0c10" stroke-width="1.3" transform="rotate(18.5 517.6 670.83)" />
<ellipse cx="520.8" cy="671.93" rx="10.2" ry="19.4" fill="#8490d4" stroke="#0c0c10" stroke-width="0.8" transform="rotate(18.5 520.8 671.93)" />
<ellipse cx="513.33" cy="686.27" rx="1.2" ry="1.8" fill="#15151a" transform="rotate(18.5 513.33 686.27)" />
<ellipse cx="511.38" cy="679.19" rx="1.2" ry="1.8" fill="#15151a" transform="rotate(18.5 511.38 679.19)" />
<ellipse cx="513.02" cy="669.32" rx="1.2" ry="1.8" fill="#15151a" transform="rotate(18.5 513.02 669.32)" />
<ellipse cx="517.64" cy="660.46" rx="1.2" ry="1.8" fill="#15151a" transform="rotate(18.5 517.64 660.46)" />
<ellipse cx="523.47" cy="655.97" rx="1.2" ry="1.8" fill="#15151a" transform="rotate(18.5 523.47 655.97)" />
<polygon points="524.8,655.63 540.3,666.16 540.3,695.66 521.3,686.63" fill="url(#g39)" stroke="#0c0c10" stroke-width="1" stroke-linejoin="round" />
<polygon points="556.3,669.66 566.8,673.51 562.8,701.51 554.3,698.66" fill="url(#g39)" stroke="#0c0c10" stroke-width="1" stroke-linejoin="round" />
<ellipse cx="546.8" cy="684.46" rx="16.4" ry="16.4" fill="url(#g40)" stroke="#0c0c10" stroke-width="1.3" />
<path d="M535.8,650.16 L535.8,670.16 A12.5,4.4 0 0 0 560.8,670.16 L560.8,650.16 Z" fill="url(#g41)" stroke="#0c0c10" stroke-width="1.2" stroke-linejoin="round" stroke-linecap="round" />
<ellipse cx="548.3" cy="650.16" rx="12.5" ry="4.4" fill="url(#g41)" stroke="#0c0c10" stroke-width="1.2" />
<path d="M541,640.66 L541,650.66 A7.3,2.4 0 0 0 555.6,650.66 L555.6,640.66 Z" fill="url(#g41)" stroke="#0c0c10" stroke-width="1.2" stroke-linejoin="round" stroke-linecap="round" />
<ellipse cx="548.7" cy="631.66" rx="25.6" ry="12.6" fill="#0c0c10" />
<ellipse cx="548.7" cy="630.66" rx="25" ry="11.8" fill="#f6f2a6" stroke="#0c0c10" stroke-width="1.2" />
<ellipse cx="548.7" cy="631.46" rx="20.6" ry="8.6" fill="#4a4a40" stroke="#0c0c10" stroke-width="1.2" />
<line x1="548.7" y1="631.46" x2="568.26" y2="633.16" stroke="#0c0c10" stroke-width="3.4" />
<line x1="548.7" y1="631.46" x2="559.59" y2="638.33" stroke="#ffffff" stroke-width="3.4" />
<line x1="548.7" y1="631.46" x2="544.54" y2="639.48" stroke="#0c0c10" stroke-width="3.4" />
<line x1="548.7" y1="631.46" x2="531.93" y2="635.92" stroke="#ffffff" stroke-width="3.4" />
<line x1="548.7" y1="631.46" x2="529.14" y2="629.75" stroke="#0c0c10" stroke-width="3.4" />
<line x1="548.7" y1="631.46" x2="537.81" y2="624.58" stroke="#ffffff" stroke-width="3.4" />
<line x1="548.7" y1="631.46" x2="552.86" y2="623.44" stroke="#0c0c10" stroke-width="3.4" />
<line x1="548.7" y1="631.46" x2="565.47" y2="626.99" stroke="#ffffff" stroke-width="3.4" />
<line x1="548.7" y1="631.46" x2="568.65" y2="633.22" stroke="#f0eca2" stroke-width="1.9" />
<line x1="548.7" y1="631.46" x2="559.81" y2="638.59" stroke="#f0eca2" stroke-width="1.9" />
<line x1="548.7" y1="631.46" x2="544.46" y2="639.77" stroke="#f0eca2" stroke-width="1.9" />
<line x1="548.7" y1="631.46" x2="531.59" y2="636.09" stroke="#f0eca2" stroke-width="1.9" />
<line x1="548.7" y1="631.46" x2="528.75" y2="629.69" stroke="#f0eca2" stroke-width="1.9" />
<line x1="548.7" y1="631.46" x2="537.59" y2="624.33" stroke="#f0eca2" stroke-width="1.9" />
<line x1="548.7" y1="631.46" x2="552.94" y2="623.14" stroke="#f0eca2" stroke-width="1.9" />
<line x1="548.7" y1="631.46" x2="565.81" y2="626.83" stroke="#f0eca2" stroke-width="1.9" />
<ellipse cx="548.7" cy="631.66" rx="5.6" ry="2.6" fill="#f6f2a6" stroke="#0c0c10" stroke-width="0.8" />
<path d="M544.8,631.86 L545.3,620.16 Q548.7,615.66 552.1,620.16 L552.6,631.86 Z" fill="url(#g41)" stroke="#0c0c10" stroke-width="1.1" stroke-linejoin="round" stroke-linecap="round" />
<ellipse cx="571" cy="796.79" rx="11.6" ry="23" fill="#f6f2a6" stroke="#0c0c10" stroke-width="1.3" transform="rotate(18.5 571 796.79)" />
<ellipse cx="574.4" cy="797.89" rx="12" ry="23.3" fill="#5676b8" stroke="#0c0c10" stroke-width="1.3" transform="rotate(18.5 574.4 797.89)" />
<ellipse cx="578.2" cy="799.19" rx="11.8" ry="22.2" fill="#117a78" stroke="#0c0c10" stroke-width="0.9" transform="rotate(18.5 578.2 799.19)" />
<ellipse cx="580.8" cy="798.95" rx="6" ry="14.4" fill="#0c0c10" transform="rotate(18.5 580.8 798.95)" />
<polygon points="582.8,786.59 614.3,797.32 614.3,823.78 577.3,811.15" fill="url(#g11)" />
<ellipse cx="582.7" cy="799.35" rx="5" ry="12.6" fill="#5070b0" transform="rotate(18.5 582.7 799.35)" />
<polygon points="583.8,787.33 594.3,790.51 594.3,816.95 579.3,811.43" fill="url(#g11)" />
<line x1="582.8" y1="786.59" x2="614.3" y2="797.32" stroke="#0c0c10" stroke-width="1.3" />
<line x1="577.8" y1="811.32" x2="614.3" y2="823.78" stroke="#06343a" stroke-width="0.9" opacity="0.6"/>
<ellipse cx="514.4" cy="778.11" rx="11.6" ry="21.8" fill="#4e6eb4" stroke="#0c0c10" stroke-width="1.3" transform="rotate(18.5 514.4 778.11)" />
<ellipse cx="517.6" cy="779.21" rx="11.6" ry="21.8" fill="#f6f2a6" stroke="#0c0c10" stroke-width="1.3" transform="rotate(18.5 517.6 779.21)" />
<ellipse cx="520.8" cy="780.31" rx="10.2" ry="19.4" fill="#8490d4" stroke="#0c0c10" stroke-width="0.8" transform="rotate(18.5 520.8 780.31)" />
<ellipse cx="513.33" cy="794.66" rx="1.2" ry="1.8" fill="#15151a" transform="rotate(18.5 513.33 794.66)" />
<ellipse cx="511.38" cy="787.57" rx="1.2" ry="1.8" fill="#15151a" transform="rotate(18.5 511.38 787.57)" />
<ellipse cx="513.02" cy="777.71" rx="1.2" ry="1.8" fill="#15151a" transform="rotate(18.5 513.02 777.71)" />
<ellipse cx="517.64" cy="768.84" rx="1.2" ry="1.8" fill="#15151a" transform="rotate(18.5 517.64 768.84)" />
<ellipse cx="523.47" cy="764.35" rx="1.2" ry="1.8" fill="#15151a" transform="rotate(18.5 523.47 764.35)" />
<polygon points="524.8,764.01 540.3,774.54 540.3,804.04 521.3,795.01" fill="url(#g42)" stroke="#0c0c10" stroke-width="1" stroke-linejoin="round" />
<polygon points="556.3,778.04 566.8,781.89 562.8,809.89 554.3,807.04" fill="url(#g42)" stroke="#0c0c10" stroke-width="1" stroke-linejoin="round" />
<ellipse cx="546.8" cy="792.84" rx="16.4" ry="16.4" fill="url(#g43)" stroke="#0c0c10" stroke-width="1.3" />
<path d="M535.8,758.54 L535.8,778.54 A12.5,4.4 0 0 0 560.8,778.54 L560.8,758.54 Z" fill="url(#g44)" stroke="#0c0c10" stroke-width="1.2" stroke-linejoin="round" stroke-linecap="round" />
<ellipse cx="548.3" cy="758.54" rx="12.5" ry="4.4" fill="url(#g44)" stroke="#0c0c10" stroke-width="1.2" />
<path d="M541,749.04 L541,759.04 A7.3,2.4 0 0 0 555.6,759.04 L555.6,749.04 Z" fill="url(#g44)" stroke="#0c0c10" stroke-width="1.2" stroke-linejoin="round" stroke-linecap="round" />
<ellipse cx="548.7" cy="740.04" rx="25.6" ry="12.6" fill="#0c0c10" />
<ellipse cx="548.7" cy="739.04" rx="25" ry="11.8" fill="#f6f2a6" stroke="#0c0c10" stroke-width="1.2" />
<ellipse cx="548.7" cy="739.84" rx="20.6" ry="8.6" fill="#4a4a40" stroke="#0c0c10" stroke-width="1.2" />
<line x1="548.7" y1="739.84" x2="568.26" y2="741.54" stroke="#0c0c10" stroke-width="3.4" />
<line x1="548.7" y1="739.84" x2="559.59" y2="746.72" stroke="#ffffff" stroke-width="3.4" />
<line x1="548.7" y1="739.84" x2="544.54" y2="747.86" stroke="#0c0c10" stroke-width="3.4" />
<line x1="548.7" y1="739.84" x2="531.93" y2="744.3" stroke="#ffffff" stroke-width="3.4" />
<line x1="548.7" y1="739.84" x2="529.14" y2="738.13" stroke="#0c0c10" stroke-width="3.4" />
<line x1="548.7" y1="739.84" x2="537.81" y2="732.96" stroke="#ffffff" stroke-width="3.4" />
<line x1="548.7" y1="739.84" x2="552.86" y2="731.82" stroke="#0c0c10" stroke-width="3.4" />
<line x1="548.7" y1="739.84" x2="565.47" y2="735.37" stroke="#ffffff" stroke-width="3.4" />
<line x1="548.7" y1="739.84" x2="568.65" y2="741.61" stroke="#f0eca2" stroke-width="1.9" />
<line x1="548.7" y1="739.84" x2="559.81" y2="746.97" stroke="#f0eca2" stroke-width="1.9" />
<line x1="548.7" y1="739.84" x2="544.46" y2="748.15" stroke="#f0eca2" stroke-width="1.9" />
<line x1="548.7" y1="739.84" x2="531.59" y2="744.47" stroke="#f0eca2" stroke-width="1.9" />
<line x1="548.7" y1="739.84" x2="528.75" y2="738.07" stroke="#f0eca2" stroke-width="1.9" />
<line x1="548.7" y1="739.84" x2="537.59" y2="732.71" stroke="#f0eca2" stroke-width="1.9" />
<line x1="548.7" y1="739.84" x2="552.94" y2="731.52" stroke="#f0eca2" stroke-width="1.9" />
<line x1="548.7" y1="739.84" x2="565.81" y2="735.21" stroke="#f0eca2" stroke-width="1.9" />
<ellipse cx="548.7" cy="740.04" rx="5.6" ry="2.6" fill="#f6f2a6" stroke="#0c0c10" stroke-width="0.8" />
<path d="M544.8,740.24 L545.3,728.54 Q548.7,724.04 552.1,728.54 L552.6,740.24 Z" fill="url(#g44)" stroke="#0c0c10" stroke-width="1.1" stroke-linejoin="round" stroke-linecap="round" />
<line x1="341.5" y1="584" x2="341.5" y2="596.45" stroke="#101014" stroke-width="2.2" />
<line x1="341.5" y1="584" x2="341.5" y2="596.45" stroke="#8fd8d0" stroke-width="1" />
<line x1="356.2" y1="577.39" x2="356.2" y2="601.47" stroke="#101014" stroke-width="2.2" />
<line x1="356.2" y1="577.39" x2="356.2" y2="601.47" stroke="#8fd8d0" stroke-width="1" />
<polygon points="342.3,584.14 350.3,580.14 355.8,582.14 355.8,585.64 351.3,587.84 346.8,586.64" fill="#c9c59c" stroke="#101014" stroke-width="0.7" stroke-linejoin="round" />
<path d="M333,590.95 A14.36,5.8 110.38 0 0 323,617.87" fill="none" stroke="#0c0c10" stroke-width="4.4" stroke-linejoin="round" stroke-linecap="round" />
<path d="M333,590.95 A14.36,5.8 110.38 0 0 323,617.87" fill="none" stroke="#6e382c" stroke-width="1.1" stroke-linejoin="round" stroke-linecap="round" />
<path d="M340.7,593.58 A14.36,5.8 110.37 0 0 330.7,620.51" fill="none" stroke="#0c0c10" stroke-width="4.4" stroke-linejoin="round" stroke-linecap="round" />
<path d="M340.7,593.58 A14.36,5.8 110.37 0 0 330.7,620.51" fill="none" stroke="#6e382c" stroke-width="1.1" stroke-linejoin="round" stroke-linecap="round" />
<path d="M347.2,595.8 A14.37,5.8 110.37 0 0 337.2,622.74" fill="none" stroke="#0c0c10" stroke-width="4.4" stroke-linejoin="round" stroke-linecap="round" />
<path d="M347.2,595.8 A14.37,5.8 110.37 0 0 337.2,622.74" fill="none" stroke="#6e382c" stroke-width="1.1" stroke-linejoin="round" stroke-linecap="round" />
<path d="M357.2,599.21 A14.37,5.8 110.36 0 0 347.2,626.16" fill="none" stroke="#0c0c10" stroke-width="4.4" stroke-linejoin="round" stroke-linecap="round" />
<path d="M357.2,599.21 A14.37,5.8 110.36 0 0 347.2,626.16" fill="none" stroke="#6e382c" stroke-width="1.1" stroke-linejoin="round" stroke-linecap="round" />
<rect x="320.9" y="610.84" width="4.4" height="4.2" fill="#15151a" rx="1.2"/>
<rect x="328.6" y="613.48" width="4.4" height="4.2" fill="#15151a" rx="1.2"/>
<rect x="335.1" y="615.7" width="4.4" height="4.2" fill="#15151a" rx="1.2"/>
<rect x="345.1" y="619.12" width="4.4" height="4.2" fill="#15151a" rx="1.2"/>
<line x1="332.3" y1="618.26" x2="332.3" y2="639.61" stroke="#101014" stroke-width="1.6" />
<line x1="332.3" y1="618.26" x2="332.3" y2="639.61" stroke="#8fd8d0" stroke-width="0.8" />
<line x1="346.6" y1="623.16" x2="346.6" y2="645.61" stroke="#101014" stroke-width="1.6" />
<line x1="346.6" y1="623.16" x2="346.6" y2="645.61" stroke="#8fd8d0" stroke-width="0.8" />
<polygon points="325.8,636.11 327.8,634.51 351.8,644.31 351.8,647.71 348.8,649.11 325.8,639.71" fill="#8e8a62" stroke="#101014" stroke-width="1.1" stroke-linejoin="round" />
<line x1="328.3" y1="637.71" x2="349.3" y2="646.31" stroke="#54543c" stroke-width="0.6" />
<line x1="341.5" y1="691.43" x2="341.5" y2="705.39" stroke="#101014" stroke-width="2.2" />
<line x1="341.5" y1="691.43" x2="341.5" y2="705.39" stroke="#8fd8d0" stroke-width="1" />
<line x1="356.2" y1="684.81" x2="356.2" y2="710.39" stroke="#101014" stroke-width="2.2" />
<line x1="356.2" y1="684.81" x2="356.2" y2="710.39" stroke="#8fd8d0" stroke-width="1" />
<polygon points="342.3,691.57 350.3,687.57 355.8,689.57 355.8,693.07 351.3,695.27 346.8,694.07" fill="#c9c59c" stroke="#101014" stroke-width="0.7" stroke-linejoin="round" />
<path d="M333,699.89 A14.02,5.8 110.89 0 0 323,726.09" fill="none" stroke="#0c0c10" stroke-width="4.4" stroke-linejoin="round" stroke-linecap="round" />
<path d="M333,699.89 A14.02,5.8 110.89 0 0 323,726.09" fill="none" stroke="#6e3c32" stroke-width="1.1" stroke-linejoin="round" stroke-linecap="round" />
<path d="M340.7,702.51 A14.03,5.8 110.88 0 0 330.7,728.72" fill="none" stroke="#0c0c10" stroke-width="4.4" stroke-linejoin="round" stroke-linecap="round" />
<path d="M340.7,702.51 A14.03,5.8 110.88 0 0 330.7,728.72" fill="none" stroke="#6e3c32" stroke-width="1.1" stroke-linejoin="round" stroke-linecap="round" />
<path d="M347.2,704.73 A14.03,5.8 110.88 0 0 337.2,730.94" fill="none" stroke="#0c0c10" stroke-width="4.4" stroke-linejoin="round" stroke-linecap="round" />
<path d="M347.2,704.73 A14.03,5.8 110.88 0 0 337.2,730.94" fill="none" stroke="#6e3c32" stroke-width="1.1" stroke-linejoin="round" stroke-linecap="round" />
<path d="M357.2,708.13 A14.03,5.8 110.87 0 0 347.2,734.36" fill="none" stroke="#0c0c10" stroke-width="4.4" stroke-linejoin="round" stroke-linecap="round" />
<path d="M357.2,708.13 A14.03,5.8 110.87 0 0 347.2,734.36" fill="none" stroke="#6e3c32" stroke-width="1.1" stroke-linejoin="round" stroke-linecap="round" />
<rect x="320.9" y="719.42" width="4.4" height="4.2" fill="#15151a" rx="1.2"/>
<rect x="328.6" y="722.05" width="4.4" height="4.2" fill="#15151a" rx="1.2"/>
<rect x="335.1" y="724.27" width="4.4" height="4.2" fill="#15151a" rx="1.2"/>
<rect x="345.1" y="727.68" width="4.4" height="4.2" fill="#15151a" rx="1.2"/>
<line x1="332.3" y1="726.47" x2="332.3" y2="745.3" stroke="#101014" stroke-width="1.6" />
<line x1="332.3" y1="726.47" x2="332.3" y2="745.3" stroke="#8fd8d0" stroke-width="0.8" />
<line x1="346.6" y1="731.35" x2="346.6" y2="751.31" stroke="#101014" stroke-width="1.6" />
<line x1="346.6" y1="731.35" x2="346.6" y2="751.31" stroke="#8fd8d0" stroke-width="0.8" />
<polygon points="325.8,741.8 327.8,740.2 351.8,750 351.8,753.4 348.8,754.8 325.8,745.4" fill="#8e8a62" stroke="#101014" stroke-width="1.1" stroke-linejoin="round" />
<line x1="328.3" y1="743.4" x2="349.3" y2="752" stroke="#54543c" stroke-width="0.6" />
<line x1="435.7" y1="616.17" x2="435.7" y2="628.62" stroke="#101014" stroke-width="2.2" />
<line x1="435.7" y1="616.17" x2="435.7" y2="628.62" stroke="#8fd8d0" stroke-width="1" />
<line x1="450.4" y1="609.55" x2="450.4" y2="633.64" stroke="#101014" stroke-width="2.2" />
<line x1="450.4" y1="609.55" x2="450.4" y2="633.64" stroke="#8fd8d0" stroke-width="1" />
<polygon points="436.5,616.31 444.5,612.31 450,614.31 450,617.81 445.5,620.01 441,618.81" fill="#c9c59c" stroke="#101014" stroke-width="0.7" stroke-linejoin="round" />
<path d="M427.2,623.12 A14.4,5.8 110.31 0 0 417.2,650.14" fill="none" stroke="#0c0c10" stroke-width="4.4" stroke-linejoin="round" stroke-linecap="round" />
<path d="M427.2,623.12 A14.4,5.8 110.31 0 0 417.2,650.14" fill="none" stroke="#6e382c" stroke-width="1.1" stroke-linejoin="round" stroke-linecap="round" />
<path d="M434.9,625.75 A14.41,5.8 110.3 0 0 424.9,652.77" fill="none" stroke="#0c0c10" stroke-width="4.4" stroke-linejoin="round" stroke-linecap="round" />
<path d="M434.9,625.75 A14.41,5.8 110.3 0 0 424.9,652.77" fill="none" stroke="#6e382c" stroke-width="1.1" stroke-linejoin="round" stroke-linecap="round" />
<path d="M441.4,627.97 A14.41,5.8 110.3 0 0 431.4,655" fill="none" stroke="#0c0c10" stroke-width="4.4" stroke-linejoin="round" stroke-linecap="round" />
<path d="M441.4,627.97 A14.41,5.8 110.3 0 0 431.4,655" fill="none" stroke="#6e382c" stroke-width="1.1" stroke-linejoin="round" stroke-linecap="round" />
<path d="M451.4,631.38 A14.42,5.8 110.29 0 0 441.4,658.43" fill="none" stroke="#0c0c10" stroke-width="4.4" stroke-linejoin="round" stroke-linecap="round" />
<path d="M451.4,631.38 A14.42,5.8 110.29 0 0 441.4,658.43" fill="none" stroke="#6e382c" stroke-width="1.1" stroke-linejoin="round" stroke-linecap="round" />
<rect x="415.1" y="643.06" width="4.4" height="4.2" fill="#15151a" rx="1.2"/>
<rect x="422.8" y="645.69" width="4.4" height="4.2" fill="#15151a" rx="1.2"/>
<rect x="429.3" y="647.92" width="4.4" height="4.2" fill="#15151a" rx="1.2"/>
<rect x="439.3" y="651.34" width="4.4" height="4.2" fill="#15151a" rx="1.2"/>
<line x1="426.5" y1="650.52" x2="426.5" y2="671.87" stroke="#101014" stroke-width="1.6" />
<line x1="426.5" y1="650.52" x2="426.5" y2="671.87" stroke="#8fd8d0" stroke-width="0.8" />
<line x1="440.8" y1="655.42" x2="440.8" y2="677.88" stroke="#101014" stroke-width="1.6" />
<line x1="440.8" y1="655.42" x2="440.8" y2="677.88" stroke="#8fd8d0" stroke-width="0.8" />
<polygon points="420,668.37 422,666.77 446,676.57 446,679.97 443,681.37 420,671.97" fill="#8e8a62" stroke="#101014" stroke-width="1.1" stroke-linejoin="round" />
<line x1="422.5" y1="669.97" x2="443.5" y2="678.57" stroke="#54543c" stroke-width="0.6" />
<line x1="435.7" y1="723.52" x2="435.7" y2="737.48" stroke="#101014" stroke-width="2.2" />
<line x1="435.7" y1="723.52" x2="435.7" y2="737.48" stroke="#8fd8d0" stroke-width="1" />
<line x1="450.4" y1="716.9" x2="450.4" y2="742.48" stroke="#101014" stroke-width="2.2" />
<line x1="450.4" y1="716.9" x2="450.4" y2="742.48" stroke="#8fd8d0" stroke-width="1" />
<polygon points="436.5,723.66 444.5,719.66 450,721.66 450,725.16 445.5,727.36 441,726.16" fill="#c9c59c" stroke="#101014" stroke-width="0.7" stroke-linejoin="round" />
<path d="M427.2,731.98 A14.06,5.8 110.83 0 0 417.2,758.27" fill="none" stroke="#0c0c10" stroke-width="4.4" stroke-linejoin="round" stroke-linecap="round" />
<path d="M427.2,731.98 A14.06,5.8 110.83 0 0 417.2,758.27" fill="none" stroke="#6e3c32" stroke-width="1.1" stroke-linejoin="round" stroke-linecap="round" />
<path d="M434.9,734.6 A14.06,5.8 110.82 0 0 424.9,760.9" fill="none" stroke="#0c0c10" stroke-width="4.4" stroke-linejoin="round" stroke-linecap="round" />
<path d="M434.9,734.6 A14.06,5.8 110.82 0 0 424.9,760.9" fill="none" stroke="#6e3c32" stroke-width="1.1" stroke-linejoin="round" stroke-linecap="round" />
<path d="M441.4,736.82 A14.07,5.8 110.82 0 0 431.4,763.12" fill="none" stroke="#0c0c10" stroke-width="4.4" stroke-linejoin="round" stroke-linecap="round" />
<path d="M441.4,736.82 A14.07,5.8 110.82 0 0 431.4,763.12" fill="none" stroke="#6e3c32" stroke-width="1.1" stroke-linejoin="round" stroke-linecap="round" />
<path d="M451.4,740.23 A14.07,5.8 110.81 0 0 441.4,766.53" fill="none" stroke="#0c0c10" stroke-width="4.4" stroke-linejoin="round" stroke-linecap="round" />
<path d="M451.4,740.23 A14.07,5.8 110.81 0 0 441.4,766.53" fill="none" stroke="#6e3c32" stroke-width="1.1" stroke-linejoin="round" stroke-linecap="round" />
<rect x="415.1" y="751.56" width="4.4" height="4.2" fill="#15151a" rx="1.2"/>
<rect x="422.8" y="754.18" width="4.4" height="4.2" fill="#15151a" rx="1.2"/>
<rect x="429.3" y="756.4" width="4.4" height="4.2" fill="#15151a" rx="1.2"/>
<rect x="439.3" y="759.81" width="4.4" height="4.2" fill="#15151a" rx="1.2"/>
<line x1="426.5" y1="758.64" x2="426.5" y2="777.47" stroke="#101014" stroke-width="1.6" />
<line x1="426.5" y1="758.64" x2="426.5" y2="777.47" stroke="#8fd8d0" stroke-width="0.8" />
<line x1="440.8" y1="763.53" x2="440.8" y2="783.48" stroke="#101014" stroke-width="1.6" />
<line x1="440.8" y1="763.53" x2="440.8" y2="783.48" stroke="#8fd8d0" stroke-width="0.8" />
<polygon points="420,773.97 422,772.37 446,782.17 446,785.57 443,786.97 420,777.57" fill="#8e8a62" stroke="#101014" stroke-width="1.1" stroke-linejoin="round" />
<line x1="422.5" y1="775.57" x2="443.5" y2="784.17" stroke="#54543c" stroke-width="0.6" />
<line x1="661.2" y1="693.17" x2="661.2" y2="705.63" stroke="#101014" stroke-width="2.2" />
<line x1="661.2" y1="693.17" x2="661.2" y2="705.63" stroke="#8fd8d0" stroke-width="1" />
<line x1="675.9" y1="686.56" x2="675.9" y2="710.65" stroke="#101014" stroke-width="2.2" />
<line x1="675.9" y1="686.56" x2="675.9" y2="710.65" stroke="#8fd8d0" stroke-width="1" />
<polygon points="662,693.31 670,689.31 675.5,691.31 675.5,694.81 671,697.01 666.5,695.81" fill="#c9c59c" stroke="#101014" stroke-width="0.7" stroke-linejoin="round" />
<path d="M652.7,700.12 A14.51,5.8 110.15 0 0 642.7,727.37" fill="none" stroke="#0c0c10" stroke-width="4.4" stroke-linejoin="round" stroke-linecap="round" />
<path d="M652.7,700.12 A14.51,5.8 110.15 0 0 642.7,727.37" fill="none" stroke="#6e382c" stroke-width="1.1" stroke-linejoin="round" stroke-linecap="round" />
<path d="M660.4,702.75 A14.52,5.8 110.15 0 0 650.4,730.01" fill="none" stroke="#0c0c10" stroke-width="4.4" stroke-linejoin="round" stroke-linecap="round" />
<path d="M660.4,702.75 A14.52,5.8 110.15 0 0 650.4,730.01" fill="none" stroke="#6e382c" stroke-width="1.1" stroke-linejoin="round" stroke-linecap="round" />
<path d="M666.9,704.97 A14.52,5.8 110.14 0 0 656.9,732.24" fill="none" stroke="#0c0c10" stroke-width="4.4" stroke-linejoin="round" stroke-linecap="round" />
<path d="M666.9,704.97 A14.52,5.8 110.14 0 0 656.9,732.24" fill="none" stroke="#6e382c" stroke-width="1.1" stroke-linejoin="round" stroke-linecap="round" />
<path d="M676.9,708.39 A14.53,5.8 110.13 0 0 666.9,735.66" fill="none" stroke="#0c0c10" stroke-width="4.4" stroke-linejoin="round" stroke-linecap="round" />
<path d="M676.9,708.39 A14.53,5.8 110.13 0 0 666.9,735.66" fill="none" stroke="#6e382c" stroke-width="1.1" stroke-linejoin="round" stroke-linecap="round" />
<rect x="640.6" y="720.18" width="4.4" height="4.2" fill="#15151a" rx="1.2"/>
<rect x="648.3" y="722.81" width="4.4" height="4.2" fill="#15151a" rx="1.2"/>
<rect x="654.8" y="725.04" width="4.4" height="4.2" fill="#15151a" rx="1.2"/>
<rect x="664.8" y="728.46" width="4.4" height="4.2" fill="#15151a" rx="1.2"/>
<line x1="652" y1="727.76" x2="652" y2="749.11" stroke="#101014" stroke-width="1.6" />
<line x1="652" y1="727.76" x2="652" y2="749.11" stroke="#8fd8d0" stroke-width="0.8" />
<line x1="666.3" y1="732.66" x2="666.3" y2="755.12" stroke="#101014" stroke-width="1.6" />
<line x1="666.3" y1="732.66" x2="666.3" y2="755.12" stroke="#8fd8d0" stroke-width="0.8" />
<polygon points="645.5,745.61 647.5,744.01 671.5,753.81 671.5,757.21 668.5,758.61 645.5,749.21" fill="#8e8a62" stroke="#101014" stroke-width="1.1" stroke-linejoin="round" />
<line x1="648" y1="747.21" x2="669" y2="755.81" stroke="#54543c" stroke-width="0.6" />
<line x1="661.2" y1="800.34" x2="661.2" y2="814.3" stroke="#101014" stroke-width="2.2" />
<line x1="661.2" y1="800.34" x2="661.2" y2="814.3" stroke="#8fd8d0" stroke-width="1" />
<line x1="675.9" y1="793.72" x2="675.9" y2="819.3" stroke="#101014" stroke-width="2.2" />
<line x1="675.9" y1="793.72" x2="675.9" y2="819.3" stroke="#8fd8d0" stroke-width="1" />
<polygon points="662,800.48 670,796.48 675.5,798.48 675.5,801.98 671,804.18 666.5,802.98" fill="#c9c59c" stroke="#101014" stroke-width="0.7" stroke-linejoin="round" />
<path d="M652.7,808.8 A14.15,5.8 110.69 0 0 642.7,835.28" fill="none" stroke="#0c0c10" stroke-width="4.4" stroke-linejoin="round" stroke-linecap="round" />
<path d="M652.7,808.8 A14.15,5.8 110.69 0 0 642.7,835.28" fill="none" stroke="#6e3c32" stroke-width="1.1" stroke-linejoin="round" stroke-linecap="round" />
<path d="M660.4,811.42 A14.16,5.8 110.68 0 0 650.4,837.91" fill="none" stroke="#0c0c10" stroke-width="4.4" stroke-linejoin="round" stroke-linecap="round" />
<path d="M660.4,811.42 A14.16,5.8 110.68 0 0 650.4,837.91" fill="none" stroke="#6e3c32" stroke-width="1.1" stroke-linejoin="round" stroke-linecap="round" />
<path d="M666.9,813.64 A14.16,5.8 110.68 0 0 656.9,840.13" fill="none" stroke="#0c0c10" stroke-width="4.4" stroke-linejoin="round" stroke-linecap="round" />
<path d="M666.9,813.64 A14.16,5.8 110.68 0 0 656.9,840.13" fill="none" stroke="#6e3c32" stroke-width="1.1" stroke-linejoin="round" stroke-linecap="round" />
<path d="M676.9,817.04 A14.16,5.8 110.67 0 0 666.9,843.55" fill="none" stroke="#0c0c10" stroke-width="4.4" stroke-linejoin="round" stroke-linecap="round" />
<path d="M676.9,817.04 A14.16,5.8 110.67 0 0 666.9,843.55" fill="none" stroke="#6e3c32" stroke-width="1.1" stroke-linejoin="round" stroke-linecap="round" />
<rect x="640.6" y="828.47" width="4.4" height="4.2" fill="#15151a" rx="1.2"/>
<rect x="648.3" y="831.1" width="4.4" height="4.2" fill="#15151a" rx="1.2"/>
<rect x="654.8" y="833.32" width="4.4" height="4.2" fill="#15151a" rx="1.2"/>
<rect x="664.8" y="836.73" width="4.4" height="4.2" fill="#15151a" rx="1.2"/>
<line x1="652" y1="835.66" x2="652" y2="854.49" stroke="#101014" stroke-width="1.6" />
<line x1="652" y1="835.66" x2="652" y2="854.49" stroke="#8fd8d0" stroke-width="0.8" />
<line x1="666.3" y1="840.54" x2="666.3" y2="860.5" stroke="#101014" stroke-width="1.6" />
<line x1="666.3" y1="840.54" x2="666.3" y2="860.5" stroke="#8fd8d0" stroke-width="0.8" />
<polygon points="645.5,850.99 647.5,849.39 671.5,859.19 671.5,862.59 668.5,863.99 645.5,854.59" fill="#8e8a62" stroke="#101014" stroke-width="1.1" stroke-linejoin="round" />
<line x1="648" y1="852.59" x2="669" y2="861.19" stroke="#54543c" stroke-width="0.6" />
<line x1="947.4" y1="790.91" x2="947.4" y2="803.36" stroke="#101014" stroke-width="2.2" />
<line x1="947.4" y1="790.91" x2="947.4" y2="803.36" stroke="#8fd8d0" stroke-width="1" />
<line x1="962.1" y1="784.29" x2="962.1" y2="808.38" stroke="#101014" stroke-width="2.2" />
<line x1="962.1" y1="784.29" x2="962.1" y2="808.38" stroke="#8fd8d0" stroke-width="1" />
<polygon points="948.2,791.05 956.2,787.05 961.7,789.05 961.7,792.55 957.2,794.75 952.7,793.55" fill="#c9c59c" stroke="#101014" stroke-width="0.7" stroke-linejoin="round" />
<path d="M938.9,797.86 A14.65,5.8 109.95 0 0 928.9,825.4" fill="none" stroke="#0c0c10" stroke-width="4.4" stroke-linejoin="round" stroke-linecap="round" />
<path d="M938.9,797.86 A14.65,5.8 109.95 0 0 928.9,825.4" fill="none" stroke="#6e382c" stroke-width="1.1" stroke-linejoin="round" stroke-linecap="round" />
<path d="M946.6,800.49 A14.66,5.8 109.95 0 0 936.6,828.04" fill="none" stroke="#0c0c10" stroke-width="4.4" stroke-linejoin="round" stroke-linecap="round" />
<path d="M946.6,800.49 A14.66,5.8 109.95 0 0 936.6,828.04" fill="none" stroke="#6e382c" stroke-width="1.1" stroke-linejoin="round" stroke-linecap="round" />
<path d="M953.1,802.71 A14.66,5.8 109.94 0 0 943.1,830.27" fill="none" stroke="#0c0c10" stroke-width="4.4" stroke-linejoin="round" stroke-linecap="round" />
<path d="M953.1,802.71 A14.66,5.8 109.94 0 0 943.1,830.27" fill="none" stroke="#6e382c" stroke-width="1.1" stroke-linejoin="round" stroke-linecap="round" />
<path d="M963.1,806.12 A14.66,5.8 109.94 0 0 953.1,833.69" fill="none" stroke="#0c0c10" stroke-width="4.4" stroke-linejoin="round" stroke-linecap="round" />
<path d="M963.1,806.12 A14.66,5.8 109.94 0 0 953.1,833.69" fill="none" stroke="#6e382c" stroke-width="1.1" stroke-linejoin="round" stroke-linecap="round" />
<rect x="926.8" y="818.06" width="4.4" height="4.2" fill="#15151a" rx="1.2"/>
<rect x="934.5" y="820.69" width="4.4" height="4.2" fill="#15151a" rx="1.2"/>
<rect x="941" y="822.92" width="4.4" height="4.2" fill="#15151a" rx="1.2"/>
<rect x="951" y="826.34" width="4.4" height="4.2" fill="#15151a" rx="1.2"/>
<line x1="938.2" y1="825.79" x2="938.2" y2="847.14" stroke="#101014" stroke-width="1.6" />
<line x1="938.2" y1="825.79" x2="938.2" y2="847.14" stroke="#8fd8d0" stroke-width="0.8" />
<line x1="952.5" y1="830.69" x2="952.5" y2="853.14" stroke="#101014" stroke-width="1.6" />
<line x1="952.5" y1="830.69" x2="952.5" y2="853.14" stroke="#8fd8d0" stroke-width="0.8" />
<polygon points="931.7,843.64 933.7,842.04 957.7,851.84 957.7,855.24 954.7,856.64 931.7,847.24" fill="#8e8a62" stroke="#101014" stroke-width="1.1" stroke-linejoin="round" />
<line x1="934.2" y1="845.24" x2="955.2" y2="853.84" stroke="#54543c" stroke-width="0.6" />
<line x1="947.4" y1="897.83" x2="947.4" y2="911.79" stroke="#101014" stroke-width="2.2" />
<line x1="947.4" y1="897.83" x2="947.4" y2="911.79" stroke="#8fd8d0" stroke-width="1" />
<line x1="962.1" y1="891.22" x2="962.1" y2="916.8" stroke="#101014" stroke-width="2.2" />
<line x1="962.1" y1="891.22" x2="962.1" y2="916.8" stroke="#8fd8d0" stroke-width="1" />
<polygon points="948.2,897.97 956.2,893.97 961.7,895.97 961.7,899.47 957.2,901.67 952.7,900.47" fill="#c9c59c" stroke="#101014" stroke-width="0.7" stroke-linejoin="round" />
<path d="M938.9,906.3 A14.27,5.8 110.51 0 0 928.9,933.03" fill="none" stroke="#0c0c10" stroke-width="4.4" stroke-linejoin="round" stroke-linecap="round" />
<path d="M938.9,906.3 A14.27,5.8 110.51 0 0 928.9,933.03" fill="none" stroke="#6e3c32" stroke-width="1.1" stroke-linejoin="round" stroke-linecap="round" />
<path d="M946.6,908.92 A14.28,5.8 110.5 0 0 936.6,935.66" fill="none" stroke="#0c0c10" stroke-width="4.4" stroke-linejoin="round" stroke-linecap="round" />
<path d="M946.6,908.92 A14.28,5.8 110.5 0 0 936.6,935.66" fill="none" stroke="#6e3c32" stroke-width="1.1" stroke-linejoin="round" stroke-linecap="round" />
<path d="M953.1,911.14 A14.28,5.8 110.5 0 0 943.1,937.88" fill="none" stroke="#0c0c10" stroke-width="4.4" stroke-linejoin="round" stroke-linecap="round" />
<path d="M953.1,911.14 A14.28,5.8 110.5 0 0 943.1,937.88" fill="none" stroke="#6e3c32" stroke-width="1.1" stroke-linejoin="round" stroke-linecap="round" />
<path d="M963.1,914.54 A14.28,5.8 110.49 0 0 953.1,941.3" fill="none" stroke="#0c0c10" stroke-width="4.4" stroke-linejoin="round" stroke-linecap="round" />
<path d="M963.1,914.54 A14.28,5.8 110.49 0 0 953.1,941.3" fill="none" stroke="#6e3c32" stroke-width="1.1" stroke-linejoin="round" stroke-linecap="round" />
<rect x="926.8" y="926.1" width="4.4" height="4.2" fill="#15151a" rx="1.2"/>
<rect x="934.5" y="928.72" width="4.4" height="4.2" fill="#15151a" rx="1.2"/>
<rect x="941" y="930.94" width="4.4" height="4.2" fill="#15151a" rx="1.2"/>
<rect x="951" y="934.35" width="4.4" height="4.2" fill="#15151a" rx="1.2"/>
<line x1="938.2" y1="933.41" x2="938.2" y2="952.24" stroke="#101014" stroke-width="1.6" />
<line x1="938.2" y1="933.41" x2="938.2" y2="952.24" stroke="#8fd8d0" stroke-width="0.8" />
<line x1="952.5" y1="938.29" x2="952.5" y2="958.25" stroke="#101014" stroke-width="1.6" />
<line x1="952.5" y1="938.29" x2="952.5" y2="958.25" stroke="#8fd8d0" stroke-width="0.8" />
<polygon points="931.7,948.74 933.7,947.14 957.7,956.94 957.7,960.34 954.7,961.74 931.7,952.34" fill="#8e8a62" stroke="#101014" stroke-width="1.1" stroke-linejoin="round" />
<line x1="934.2" y1="950.34" x2="955.2" y2="958.94" stroke="#54543c" stroke-width="0.6" />
<line x1="791" y1="740.74" x2="791" y2="749.95" stroke="#101014" stroke-width="2.2" />
<line x1="791" y1="740.74" x2="791" y2="749.95" stroke="#8fd8d0" stroke-width="1" />
<line x1="806" y1="733.99" x2="806" y2="755.07" stroke="#101014" stroke-width="2.2" />
<line x1="806" y1="733.99" x2="806" y2="755.07" stroke="#8fd8d0" stroke-width="1" />
<polygon points="797.5,739.89 805.5,735.89 811,737.89 811,741.39 806.5,743.59 802,742.39" fill="#c9c59c" stroke="#101014" stroke-width="0.7" stroke-linejoin="round" />
<path d="M795,748.72 A14.58,5.8 110.05 0 0 785,776.11" fill="none" stroke="#0c0c10" stroke-width="4.4" stroke-linejoin="round" stroke-linecap="round" />
<path d="M795,748.72 A14.58,5.8 110.05 0 0 785,776.11" fill="none" stroke="#6e382c" stroke-width="1.1" stroke-linejoin="round" stroke-linecap="round" />
<path d="M809,753.5 A14.59,5.8 110.04 0 0 799,780.91" fill="none" stroke="#0c0c10" stroke-width="4.4" stroke-linejoin="round" stroke-linecap="round" />
<path d="M809,753.5 A14.59,5.8 110.04 0 0 799,780.91" fill="none" stroke="#6e382c" stroke-width="1.1" stroke-linejoin="round" stroke-linecap="round" />
<rect x="782.9" y="768.85" width="4.4" height="4.2" fill="#15151a" rx="1.2"/>
<rect x="796.9" y="773.64" width="4.4" height="4.2" fill="#15151a" rx="1.2"/>
<line x1="791" y1="846.29" x2="791" y2="858.51" stroke="#101014" stroke-width="2.2" />
<line x1="791" y1="846.29" x2="791" y2="858.51" stroke="#8fd8d0" stroke-width="1" />
<line x1="806" y1="839.54" x2="806" y2="863.62" stroke="#101014" stroke-width="2.2" />
<line x1="806" y1="839.54" x2="806" y2="863.62" stroke="#8fd8d0" stroke-width="1" />
<polygon points="797.5,845.44 805.5,841.44 811,843.44 811,846.94 806.5,849.14 802,847.94" fill="#c9c59c" stroke="#101014" stroke-width="0.7" stroke-linejoin="round" />
<path d="M795,857.28 A14.21,5.8 110.6 0 0 785,883.89" fill="none" stroke="#0c0c10" stroke-width="4.4" stroke-linejoin="round" stroke-linecap="round" />
<path d="M795,857.28 A14.21,5.8 110.6 0 0 785,883.89" fill="none" stroke="#6e3c32" stroke-width="1.1" stroke-linejoin="round" stroke-linecap="round" />
<path d="M809,862.05 A14.22,5.8 110.59 0 0 799,888.67" fill="none" stroke="#0c0c10" stroke-width="4.4" stroke-linejoin="round" stroke-linecap="round" />
<path d="M809,862.05 A14.22,5.8 110.59 0 0 799,888.67" fill="none" stroke="#6e3c32" stroke-width="1.1" stroke-linejoin="round" stroke-linecap="round" />
<rect x="782.9" y="877.01" width="4.4" height="4.2" fill="#15151a" rx="1.2"/>
<rect x="796.9" y="881.79" width="4.4" height="4.2" fill="#15151a" rx="1.2"/>
<path d="M1005.8,821.6 C998,825 991.5,834 994,845.5" fill="none" stroke="#0c0c10" stroke-width="1.5" stroke-linejoin="round" stroke-linecap="round" />
<path d="M1062.0,946.8 C1054,950 1048,960 1050.6,973.1" fill="none" stroke="#0c0c10" stroke-width="1.5" stroke-linejoin="round" stroke-linecap="round" />
<polyline points="978.6,840 978.6,853 968,859.5" fill="none" stroke="#0c0c10" stroke-width="3.2" stroke-linejoin="round" stroke-linecap="round" />
<polyline points="978.6,840 978.6,853 968,859.5" fill="none" stroke="#f0525a" stroke-width="1.8" stroke-linejoin="round" stroke-linecap="round" />
<polyline points="979.3,840 979.3,853 968.7,859.5" fill="none" stroke="#a03a98" stroke-width="0.8" stroke-linejoin="round" stroke-linecap="round" />
<polyline points="978.6,966 978.6,977 968,983.5" fill="none" stroke="#0c0c10" stroke-width="3.2" stroke-linejoin="round" stroke-linecap="round" />
<polyline points="978.6,966 978.6,977 968,983.5" fill="none" stroke="#4a78aa" stroke-width="1.8" stroke-linejoin="round" stroke-linecap="round" />
<polyline points="979.3,966 979.3,977 968.7,983.5" fill="none" stroke="#1f7080" stroke-width="0.8" stroke-linejoin="round" stroke-linecap="round" />
</g>
<text x="1204.1" y="571.5" font-size="6.4" font-weight="bold" fill="#262626" text-anchor="start" textLength="19.6" lengthAdjust="spacingAndGlyphs" >Heizung</text>
<line x1="1204.1" y1="572.6" x2="1223.7" y2="572.6" stroke="#111" stroke-width="0.5" />
<text x="1204.1" y="581.5" font-size="6.4" font-weight="normal" fill="#262626" text-anchor="start" textLength="193.2" lengthAdjust="spacingAndGlyphs" >Das Heizungsnetz wird mit vollentsalztem Wasser gem&#228;&#223; VDI 2035 betrieben.</text>
<text x="1204.1" y="595.6" font-size="6.4" font-weight="normal" fill="#262626" text-anchor="start" textLength="210.4" lengthAdjust="spacingAndGlyphs" >Alle Komponenten m&#252;ssen f&#252;r die Druckstufe PN 25 prim&#228;r und PN16 sekund&#228;r</text>
<text x="1204.1" y="602.1" font-size="6.4" font-weight="normal" fill="#262626" text-anchor="start" textLength="34" lengthAdjust="spacingAndGlyphs" >geeignet sein.</text>
<text x="1204.1" y="614" font-size="6.4" font-weight="normal" fill="#262626" text-anchor="start" textLength="32" lengthAdjust="spacingAndGlyphs" >Rohrmaterial</text>
<line x1="1204.1" y1="615.1" x2="1236.1" y2="615.1" stroke="#111" stroke-width="0.5" />
<text x="1204.1" y="623.6" font-size="6.4" font-weight="normal" fill="#262626" text-anchor="start" textLength="38.5" lengthAdjust="spacingAndGlyphs" >Hauptleitungen:</text>
<text x="1255" y="623.6" font-size="6.4" font-weight="normal" fill="#262626" text-anchor="start" textLength="106" lengthAdjust="spacingAndGlyphs" >Gewinderohr geschwei&#223;t schwarz bis DN50</text>
<text x="1255" y="632.1" font-size="6.4" font-weight="normal" fill="#262626" text-anchor="start" textLength="88.6" lengthAdjust="spacingAndGlyphs" >Stahlrohr nahtlos schwarz ab DN65</text>
<text x="1204.1" y="646.9" font-size="6.4" font-weight="bold" fill="#262626" text-anchor="start" textLength="39.6" lengthAdjust="spacingAndGlyphs" >W&#228;rmed&#228;mmung</text>
<line x1="1204.1" y1="648" x2="1243.7" y2="648" stroke="#111" stroke-width="0.5" />
<text x="1204.1" y="656.7" font-size="6.4" font-weight="normal" fill="#262626" text-anchor="start" textLength="210.4" lengthAdjust="spacingAndGlyphs" >Die Rohrleitungen Heizung werden mit alukschierten Rohrschalen 100% ged&#228;mmt und</text>
<text x="1204.1" y="664.1" font-size="6.4" font-weight="normal" fill="#262626" text-anchor="start" textLength="69.5" lengthAdjust="spacingAndGlyphs" >erhalten einen Blechmantel.</text>
<text x="1204.1" y="678.2" font-size="6.4" font-weight="normal" fill="#262626" text-anchor="start" textLength="210.4" lengthAdjust="spacingAndGlyphs" >WICHTIG - Im Bereich aller Rollengleiter und Schienenkonstruktionen muss die</text>
<text x="1204.1" y="685" font-size="6.4" font-weight="normal" fill="#262626" text-anchor="start" textLength="210.4" lengthAdjust="spacingAndGlyphs" >W&#228;rmed&#228;mmung mit Blechmantel kontaktfrei an den Befestigungen vorbeif&#252;hren.</text>
<text x="1204.1" y="692.1" font-size="6.4" font-weight="normal" fill="#262626" text-anchor="start" textLength="210.4" lengthAdjust="spacingAndGlyphs" >Bei Kollisionen muss die W&#228;rmed&#228;mmung wegen der L&#228;ngenausdehnung beidseitig</text>
<text x="1204.1" y="699" font-size="6.4" font-weight="normal" fill="#262626" text-anchor="start" textLength="58.5" lengthAdjust="spacingAndGlyphs" >5cm abgeflacht werden.</text>
<text x="1204.1" y="710.7" font-size="6.4" font-weight="bold" fill="#262626" text-anchor="start" textLength="30.6" lengthAdjust="spacingAndGlyphs" >Befestigung</text>
<line x1="1204.1" y1="711.8" x2="1234.7" y2="711.8" stroke="#111" stroke-width="0.5" />
<text x="1204.1" y="720.6" font-size="6.4" font-weight="normal" fill="#262626" text-anchor="start" textLength="210.4" lengthAdjust="spacingAndGlyphs" >Die Befestigung der Rohrleitungen ist in den einzelnen Details dargestellt. Die</text>
<text x="1204.1" y="727.5" font-size="6.4" font-weight="normal" fill="#262626" text-anchor="start" textLength="123" lengthAdjust="spacingAndGlyphs" >Rollengleiter Heizung werden neutral eingestellt.</text>
<text x="1204.1" y="741.8" font-size="6.4" font-weight="normal" fill="#262626" text-anchor="start" textLength="192.3" lengthAdjust="spacingAndGlyphs" >Die Rohrleitungen Fernw&#228;rme prim&#228;r werden mit Rohrschellen MP-MIS und bis</text>
<text x="1204.1" y="748.7" font-size="6.4" font-weight="normal" fill="#262626" text-anchor="start" textLength="202.3" lengthAdjust="spacingAndGlyphs" >DN 150 mit Gewindestangen M12 und ab DN 200 mit Gewindestangen M16 befestigt.</text>
<text x="1204.1" y="762.8" font-size="6.4" font-weight="normal" fill="#262626" text-anchor="start" textLength="192.3" lengthAdjust="spacingAndGlyphs" >Die Rohrleitungen Heizung sekund&#228;r werden mit Rohrschellen MP-MXI und bis</text>
<text x="1204.1" y="769.7" font-size="6.4" font-weight="normal" fill="#262626" text-anchor="start" textLength="199.2" lengthAdjust="spacingAndGlyphs" >DN 80 mit Gewindestangen M12 und ab DN 100 mit Gewindestangen M16 befestigt.</text>
<text x="1204.1" y="781.4" font-size="6.4" font-weight="bold" fill="#262626" text-anchor="start" textLength="41.5" lengthAdjust="spacingAndGlyphs" >Legende Heizung</text>
<line x1="1203.6" y1="782.5" x2="1246.1" y2="782.5" stroke="#111" stroke-width="0.5" />
<line x1="1205.1" y1="790.7" x2="1252.8" y2="790.7" stroke="#ff8aa8" stroke-width="1" />
<text x="1254.5" y="792.9" font-size="6.4" font-weight="normal" fill="#262626" text-anchor="start" textLength="40" lengthAdjust="spacingAndGlyphs" >Heizung Vorlauf</text>
<line x1="1205.1" y1="799.3" x2="1252.8" y2="799.3" stroke="#19d3f3" stroke-width="1" stroke-dasharray="4.6 2.2"/>
<text x="1254.5" y="801.5" font-size="6.4" font-weight="normal" fill="#262626" text-anchor="start" textLength="42.5" lengthAdjust="spacingAndGlyphs" >Heizung R&#252;cklauf</text>
<line x1="1205.3" y1="808.4" x2="1205.3" y2="1006.8" stroke="#333" stroke-width="0.8" />
<line x1="1205.3" y1="808.4" x2="1420.4" y2="808.4" stroke="#333" stroke-width="0.8" />
<text x="1312.7" y="814.6" font-size="6.6" font-weight="bold" fill="#111" text-anchor="middle" textLength="48.5" lengthAdjust="spacingAndGlyphs" >Ausf&#252;hrungsplan</text>
<line x1="1205.3" y1="817.5" x2="1420.4" y2="817.5" stroke="#555" stroke-width="0.6" />
<text x="1208" y="825.8" font-size="6.4" font-weight="bold" fill="#111" text-anchor="start" textLength="38.5" lengthAdjust="spacingAndGlyphs" >Bauvorhaben:</text>
<line x1="1205.3" y1="838.1" x2="1420.4" y2="838.1" stroke="#555" stroke-width="0.6" />
<text x="1208" y="846.4" font-size="6.4" font-weight="bold" fill="#111" text-anchor="start" textLength="24.3" lengthAdjust="spacingAndGlyphs" >Bauherr:</text>
<line x1="1281.5" y1="836.2" x2="1282.7" y2="836.2" stroke="#777" stroke-width="0.4" />
<line x1="1305" y1="836.2" x2="1306.2" y2="836.2" stroke="#777" stroke-width="0.4" />
<line x1="1321.5" y1="836.2" x2="1322.7" y2="836.2" stroke="#777" stroke-width="0.4" />
<line x1="1357" y1="857" x2="1358.2" y2="857" stroke="#777" stroke-width="0.4" />
<line x1="1374" y1="857" x2="1375.2" y2="857" stroke="#777" stroke-width="0.4" />
<line x1="1205.3" y1="858.9" x2="1420.4" y2="858.9" stroke="#555" stroke-width="0.6" />
<line x1="1205.3" y1="865.1" x2="1420.4" y2="865.1" stroke="#555" stroke-width="0.6" />
<line x1="1205.3" y1="870.9" x2="1420.4" y2="870.9" stroke="#555" stroke-width="0.6" />
<line x1="1272.2" y1="858.9" x2="1272.2" y2="870.9" stroke="#555" stroke-width="0.6" />
<line x1="1322.5" y1="858.9" x2="1322.5" y2="870.9" stroke="#555" stroke-width="0.6" />
<text x="1208.2" y="863.4" font-size="3.6" font-weight="normal" fill="#333" text-anchor="start" textLength="13.5" lengthAdjust="spacingAndGlyphs" >Gepr&#252;ft:</text>
<text x="1235.2" y="863.4" font-size="3.6" font-weight="normal" fill="#333" text-anchor="start" textLength="16.5" lengthAdjust="spacingAndGlyphs" >V. Schekel</text>
<text x="1275" y="863.4" font-size="3.6" font-weight="normal" fill="#333" text-anchor="start" textLength="11.5" lengthAdjust="spacingAndGlyphs" >Datum:</text>
<text x="1293" y="863.4" font-size="3.6" font-weight="normal" fill="#333" text-anchor="start" textLength="18" lengthAdjust="spacingAndGlyphs" >15.07.2022</text>
<text x="1325.5" y="863.4" font-size="3.6" font-weight="normal" fill="#333" text-anchor="start" textLength="27.5" lengthAdjust="spacingAndGlyphs" >Sachbearbeiter:</text>
<text x="1361.5" y="863.4" font-size="3.6" font-weight="normal" fill="#333" text-anchor="start" textLength="23" lengthAdjust="spacingAndGlyphs" >A. Saubertich</text>
<text x="1208.2" y="869.2" font-size="3.6" font-weight="normal" fill="#333" text-anchor="start" textLength="20" lengthAdjust="spacingAndGlyphs" >Gezeichnet:</text>
<text x="1235.2" y="869.2" font-size="3.6" font-weight="normal" fill="#333" text-anchor="start" textLength="23" lengthAdjust="spacingAndGlyphs" >A. Saubertich</text>
<text x="1275" y="869.2" font-size="3.6" font-weight="normal" fill="#333" text-anchor="start" textLength="11.5" lengthAdjust="spacingAndGlyphs" >Datum:</text>
<text x="1293" y="869.2" font-size="3.6" font-weight="normal" fill="#333" text-anchor="start" textLength="18" lengthAdjust="spacingAndGlyphs" >11.07.2022</text>
<text x="1325.5" y="869.2" font-size="3.6" font-weight="normal" fill="#333" text-anchor="start" textLength="9.5" lengthAdjust="spacingAndGlyphs" >Datei:</text>
<text x="1343.5" y="868.7" font-size="3.6" font-weight="normal" fill="#333" text-anchor="start" textLength="36.5" lengthAdjust="spacingAndGlyphs" >21r978-Zentrale.dwg</text>
<text x="1207.6" y="876.6" font-size="3.9" font-weight="bold" fill="#111" text-anchor="start" textLength="150.3" lengthAdjust="spacingAndGlyphs" >Dieser Plan gilt nur in Verbindung mit den Ausf&#252;hrungspl&#228;nen des Architekturb&#252;ros.</text>
<text x="1207.6" y="881.7" font-size="3.9" font-weight="bold" fill="#111" text-anchor="start" textLength="103" lengthAdjust="spacingAndGlyphs" >Grunds&#228;tzlich gilt nur der letzte freigegebene Planstand.</text>
<text x="1207.6" y="886.5" font-size="3.9" font-weight="bold" fill="#111" text-anchor="start" textLength="66.5" lengthAdjust="spacingAndGlyphs" >Eine Pr&#252;fung hat vor Ort zu erfolgen.</text>
<text x="1207.6" y="891.6" font-size="3.9" font-weight="bold" fill="#111" text-anchor="start" textLength="128.5" lengthAdjust="spacingAndGlyphs" >Bei Unstimmigkeiten ist die Bauleitung vor Arbeitsbeginn zu informieren.</text>
<line x1="1205.3" y1="894.9" x2="1420.4" y2="894.9" stroke="#555" stroke-width="0.6" />
<line x1="1205.3" y1="901" x2="1420.4" y2="901" stroke="#555" stroke-width="0.6" />
<text x="1208.2" y="899.3" font-size="3.6" font-weight="normal" fill="#333" text-anchor="start" textLength="9" lengthAdjust="spacingAndGlyphs" >Index</text>
<text x="1224.6" y="899.3" font-size="3.6" font-weight="normal" fill="#333" text-anchor="start" textLength="11" lengthAdjust="spacingAndGlyphs" >Datum</text>
<text x="1256" y="899.3" font-size="3.6" font-weight="normal" fill="#333" text-anchor="start" textLength="10.5" lengthAdjust="spacingAndGlyphs" >Bearb.</text>
<text x="1275.2" y="899.3" font-size="3.6" font-weight="normal" fill="#333" text-anchor="start" textLength="16.5" lengthAdjust="spacingAndGlyphs" >&#196;nderung</text>
<line x1="1205.3" y1="905.7" x2="1420.4" y2="905.7" stroke="#777" stroke-width="0.5" />
<line x1="1205.3" y1="910.2" x2="1420.4" y2="910.2" stroke="#777" stroke-width="0.5" />
<line x1="1205.3" y1="914.8" x2="1420.4" y2="914.8" stroke="#777" stroke-width="0.5" />
<line x1="1205.3" y1="919.4" x2="1420.4" y2="919.4" stroke="#777" stroke-width="0.5" />
<line x1="1205.3" y1="924" x2="1420.4" y2="924" stroke="#777" stroke-width="0.5" />
<line x1="1205.3" y1="928.5" x2="1420.4" y2="928.5" stroke="#777" stroke-width="0.5" />
<line x1="1205.3" y1="930.9" x2="1420.4" y2="930.9" stroke="#555" stroke-width="0.6" />
<line x1="1221.7" y1="894.9" x2="1221.7" y2="930.9" stroke="#555" stroke-width="0.6" />
<line x1="1253" y1="894.9" x2="1253" y2="948.5" stroke="#555" stroke-width="0.6" />
<line x1="1272.2" y1="894.9" x2="1272.2" y2="930.9" stroke="#555" stroke-width="0.6" />
<line x1="1309.9" y1="930.9" x2="1309.9" y2="948.5" stroke="#555" stroke-width="0.6" />
<line x1="1205.3" y1="939.9" x2="1309.9" y2="939.9" stroke="#555" stroke-width="0.6" />
<text x="1208" y="937.4" font-size="5.6" font-weight="normal" fill="#222" text-anchor="start" textLength="22" lengthAdjust="spacingAndGlyphs" >Ma&#223;stab:</text>
<text x="1281.7" y="937.4" font-size="5.6" font-weight="normal" fill="#222" text-anchor="middle" textLength="40.5" lengthAdjust="spacingAndGlyphs" >1 : 5, 1 : 10, 1 : 20</text>
<text x="1208" y="945.9" font-size="5.6" font-weight="normal" fill="#222" text-anchor="start" textLength="21.5" lengthAdjust="spacingAndGlyphs" >Plan-Nr.:</text>
<text x="1281.7" y="945.9" font-size="5.6" font-weight="normal" fill="#222" text-anchor="middle" textLength="14.5" lengthAdjust="spacingAndGlyphs" >- 03 -</text>
<text x="1326.2" y="943.9" font-size="11.2" font-weight="normal" fill="#111" text-anchor="start" textLength="16.5" lengthAdjust="spacingAndGlyphs" >Nr.:</text>
<text x="1349" y="943.9" font-size="11.2" font-weight="normal" fill="#111" text-anchor="start" textLength="33.2" lengthAdjust="spacingAndGlyphs" >21/978</text>
<line x1="1205.3" y1="949" x2="1420.4" y2="949" stroke="#444" stroke-width="0.7" />
<rect x="1312" y="949.3" width="2.9" height="42.4" fill="#ffe000" />
<rect x="1314.9" y="949.3" width="104.9" height="42.4" fill="#7b7b7b" />
<text x="1323.3" y="958.4" font-size="3.5" font-weight="bold" fill="#fff" text-anchor="start" textLength="70.5" lengthAdjust="spacingAndGlyphs" >Donner Planung GmbH f&#252;r Haustechnik</text>
<text x="1323.3" y="963.1" font-size="3.5" font-weight="normal" fill="#f2f2f2" text-anchor="start" textLength="63.5" lengthAdjust="spacingAndGlyphs" >Schaezlerstra&#223;e 6  |  86150 Augsburg</text>
<text x="1323.3" y="969.6" font-size="3.5" font-weight="normal" fill="#f2f2f2" text-anchor="start" textLength="36" lengthAdjust="spacingAndGlyphs" >Fon: 0821 34 32 14-0</text>
<text x="1323.3" y="974.2" font-size="3.5" font-weight="normal" fill="#f2f2f2" text-anchor="start" textLength="38.5" lengthAdjust="spacingAndGlyphs" >Fax: 0821 34 32 14-20</text>
<text x="1323.3" y="978.8" font-size="3.5" font-weight="normal" fill="#f2f2f2" text-anchor="start" textLength="48" lengthAdjust="spacingAndGlyphs" >info@haustechnik-donner.de</text>
<text x="1323.3" y="983.6" font-size="3.5" font-weight="bold" fill="#ffd800" text-anchor="start" textLength="47.5" lengthAdjust="spacingAndGlyphs" >www.haustechnik-donner.de</text>
<ellipse cx="1403.3" cy="977.6" rx="7.2" ry="7.2" fill="#fff" />
<line x1="1403.3" y1="973.3" x2="1403.3" y2="981.9" stroke="#58b030" stroke-width="1.5" />
<line x1="1399" y1="977.6" x2="1407.6" y2="977.6" stroke="#58b030" stroke-width="1.5" />
<path d="M1222.4,984 C1222.8,966 1236,955.5 1251.5,955.5 C1260.5,955.5 1267,959 1270.6,964.2" fill="none" stroke="#111" stroke-width="1" stroke-linejoin="round" stroke-linecap="round" />
<path d="M1262.5,970 L1278.6,959.6 L1294.6,970.2 M1291.9,968.8 L1291.9,984.2 L1267,984.2 L1267,981.2" fill="none" stroke="#111" stroke-width="0.9" stroke-linejoin="round" stroke-linecap="round" />
<text x="1234.2" y="969.6" font-size="3.4" font-weight="normal" fill="#111" text-anchor="start" textLength="27" lengthAdjust="spacingAndGlyphs" >HAUSTECHNIK</text>
<text x="1229" y="980.3" font-size="10.6" font-weight="bold" fill="#111" text-anchor="start" textLength="48.4" lengthAdjust="spacingAndGlyphs" >DONNER</text>
<rect x="1280.3" y="972" width="7.7" height="8.2" fill="#ffe000" stroke="#c8a800" stroke-width="0.5" />
<line x1="1205.3" y1="991.9" x2="1420.4" y2="991.9" stroke="#444" stroke-width="0.7" />
<text x="1208" y="997.3" font-size="5.6" font-weight="normal" fill="#222" text-anchor="start" textLength="26.5" lengthAdjust="spacingAndGlyphs" >Planinhalt:</text>
<text x="1244" y="997.3" font-size="5.6" font-weight="normal" fill="#222" text-anchor="start" textLength="59" lengthAdjust="spacingAndGlyphs" >Grundriss Zentrale R08</text>
<text x="1244" y="1003.8" font-size="5.6" font-weight="normal" fill="#222" text-anchor="start" textLength="50" lengthAdjust="spacingAndGlyphs" >Fernw&#228;rme&#252;bergabe</text>
<text x="1208" y="1011" font-size="2.2" font-weight="normal" fill="#555" text-anchor="start" textLength="30" lengthAdjust="spacingAndGlyphs" >Stand: Architekturgrundriss</text>
</svg>
</body></html>
